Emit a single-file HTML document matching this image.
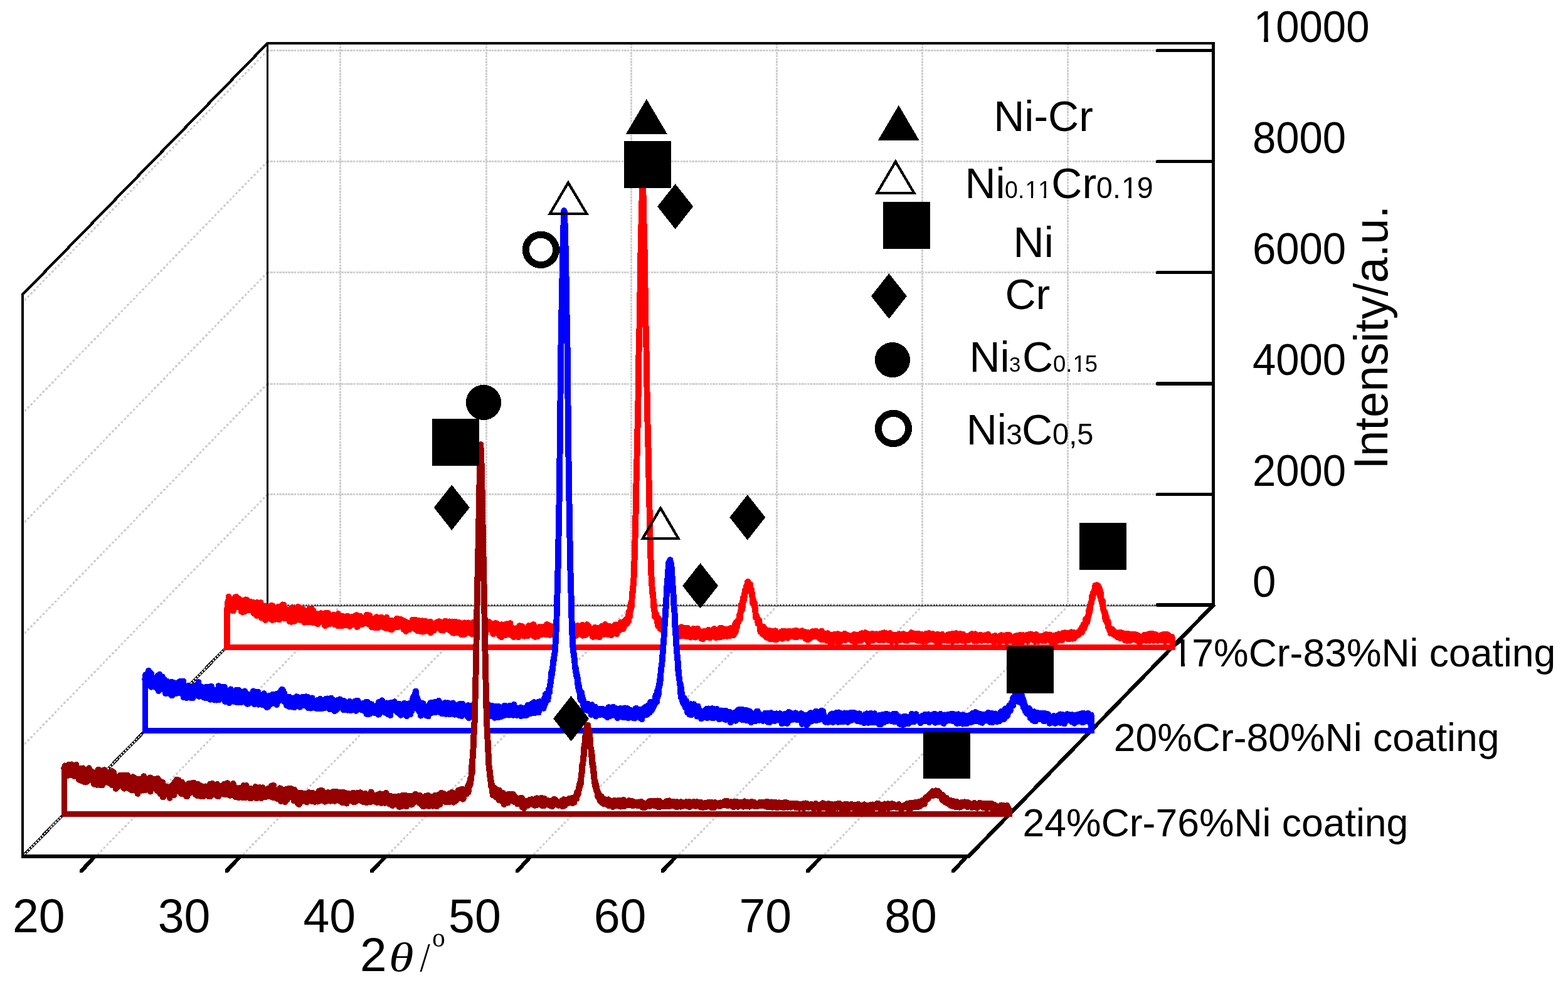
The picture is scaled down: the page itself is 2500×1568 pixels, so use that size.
<!DOCTYPE html>
<html lang="en">
<head>
<meta charset="utf-8">
<title>XRD patterns of Cr-Ni coatings</title>
<style>
html,body{margin:0;padding:0;background:#fff;}
body{width:2500px;height:1568px;overflow:hidden;}
svg{display:block;}
</style>
</head>
<body>
<svg width="2500" height="1568" viewBox="0 0 2500 1568" shape-rendering="crispEdges">
<rect width="2500" height="1568" fill="#fff"/>
<g id="grid" fill="none" stroke="#cfcfcf" stroke-width="3" stroke-dasharray="3.5 1.2">
<line x1="542.6" y1="69" x2="542.6" y2="965"/>
<line x1="775.3" y1="69" x2="775.3" y2="965"/>
<line x1="1006.5" y1="69" x2="1006.5" y2="965"/>
<line x1="1238.6" y1="69" x2="1238.6" y2="965"/>
<line x1="1470.3" y1="69" x2="1470.3" y2="965"/>
<line x1="1702.3" y1="69" x2="1702.3" y2="965"/>
<line x1="426.5" y1="80.7" x2="1843" y2="80.7"/>
<line x1="426.5" y1="257.6" x2="1843" y2="257.6"/>
<line x1="426.5" y1="434.6" x2="1843" y2="434.6"/>
<line x1="426.5" y1="612" x2="1843" y2="612"/>
<line x1="426.5" y1="788.6" x2="1843" y2="788.6"/>
</g>
<g id="grid-diag" fill="none" stroke="#cfcfcf" stroke-width="3.4" stroke-linecap="round" stroke-dasharray="0.6 6.3">
<line x1="425.5" y1="81.7" x2="38" y2="480.2"/>
<line x1="425.5" y1="258.6" x2="38" y2="657.1"/>
<line x1="425.5" y1="435.6" x2="38" y2="834.1"/>
<line x1="425.5" y1="613" x2="38" y2="1011.5"/>
<line x1="425.5" y1="789.6" x2="38" y2="1188.1"/>
<line x1="542.6" y1="967" x2="155.8" y2="1363"/>
<line x1="775.3" y1="967" x2="387.5" y2="1363"/>
<line x1="1006.5" y1="967" x2="619.2" y2="1363"/>
<line x1="1238.6" y1="967" x2="850.9" y2="1363"/>
<line x1="1470.3" y1="967" x2="1082.6" y2="1363"/>
<line x1="1702.3" y1="967" x2="1314.3" y2="1363"/>
</g>
<g id="edges" fill="none">
<line x1="37" y1="1365" x2="426.5" y2="965" stroke="#000" stroke-width="4.4"/>
<line x1="39" y1="1363" x2="426.5" y2="965" stroke="#d6d6d6" stroke-width="2.6" stroke-dasharray="3 2"/>
<line x1="426.5" y1="964.4" x2="1843" y2="964.4" stroke="#cfcfcf" stroke-width="3" stroke-dasharray="3.2 1.6"/>
<line x1="426.5" y1="966.4" x2="1843" y2="966.4" stroke="#000" stroke-width="1.3"/>
<line x1="426.5" y1="965.2" x2="1843" y2="965.2" stroke="#000" stroke-width="2.2" stroke-dasharray="1 3.7"/>
</g>
<g id="axes" fill="none" stroke="#000">
<polyline points="36,1366 36,470 426.5,69 1937.2,69" stroke-width="3.7" stroke-linejoin="miter"/>
<line x1="36" y1="470" x2="426.5" y2="69" stroke-width="4.3"/>
<line x1="426.5" y1="69" x2="426.5" y2="965" stroke-width="3"/>
<line x1="1934.7" y1="66.5" x2="1934.7" y2="967" stroke-width="5"/>
<line x1="1845.6" y1="80.7" x2="1933.2" y2="80.7" stroke-width="5.5" stroke-linecap="round"/>
<line x1="1845.6" y1="257.6" x2="1933.2" y2="257.6" stroke-width="5.5" stroke-linecap="round"/>
<line x1="1845.6" y1="434.6" x2="1933.2" y2="434.6" stroke-width="5.5" stroke-linecap="round"/>
<line x1="1845.6" y1="612" x2="1933.2" y2="612" stroke-width="5.5" stroke-linecap="round"/>
<line x1="1845.6" y1="788.6" x2="1933.2" y2="788.6" stroke-width="5.5" stroke-linecap="round"/>
<line x1="1845.6" y1="965" x2="1933.2" y2="965" stroke-width="5.5" stroke-linecap="round"/>
<line x1="1936.2" y1="963.5" x2="1542.7" y2="1367.5" stroke-width="6.1"/>
</g>
<g id="curves">
<path d="M361.8,1032.6 L361.8,967.6 L365.9,960.9 L370.1,961.8 L374.2,962.7 L378.4,963.6 L382.5,964.5 L386.6,965.4 L390.8,966.3 L394.9,967.3 L399.1,968.2 L403.2,969.2 L407.3,970.2 L411.5,971.2 L415.6,972.2 L419.8,973.2 L423.9,974.1 L428,974.8 L432.2,975.4 L436.3,976.1 L440.5,976.8 L444.6,977.5 L448.7,978.2 L452.9,978.9 L457,979.5 L461.2,980.2 L465.3,980.9 L469.4,981.3 L473.6,981.8 L477.7,982.2 L481.9,982.7 L486,983.1 L490.1,983.6 L494.3,984 L498.4,984.5 L502.6,985 L506.7,985.4 L510.8,985.8 L515,986.2 L519.1,986.5 L523.3,986.9 L527.4,987.3 L531.5,987.7 L535.7,988.1 L539.8,988.5 L544,988.8 L548.1,989.2 L552.2,989.5 L556.4,989.8 L560.5,990 L564.7,990.3 L568.8,990.6 L572.9,990.9 L577.1,991.2 L581.2,991.4 L585.4,991.7 L589.5,992 L593.6,992.4 L597.8,992.7 L601.9,993.1 L606.1,993.5 L610.2,993.8 L614.3,994.2 L618.5,994.6 L622.6,994.9 L626.8,995.3 L630.9,995.6 L635,996 L639.2,996.3 L643.3,996.7 L647.5,997 L651.6,997.4 L655.7,997.8 L659.9,998.1 L664,998.5 L668.2,998.8 L672.3,999.1 L676.4,999.3 L680.6,999.6 L684.7,999.8 L688.9,1000 L693,1000.2 L697.1,1000.4 L701.3,1000.6 L705.4,1000.8 L709.6,1001 L713.7,1001.2 L717.8,1001.4 L722,1001.6 L726.1,1001.8 L730.3,1002 L734.4,1002.2 L738.5,1002.3 L742.7,1002.5 L746.8,1002.7 L751,1002.7 L755.1,1002.7 L759.2,1002.7 L763.4,1002.7 L767.5,1002.6 L771.7,1002.6 L775.8,1002.6 L779.9,1002.6 L784.1,1002.6 L788.2,1002.5 L792.4,1002.6 L796.5,1002.6 L800.6,1002.7 L804.8,1002.8 L808.9,1002.8 L813.1,1002.9 L817.2,1003 L821.3,1003 L825.5,1003.2 L829.6,1003.3 L833.8,1003.5 L837.9,1003.7 L842,1003.9 L846.2,1004 L850.3,1004.2 L854.5,1004.4 L858.6,1004.6 L862.7,1004.8 L866.9,1004.9 L871,1005 L875.2,1005 L879.3,1005.1 L883.4,1005.2 L887.6,1005.3 L891.7,1005.4 L895.9,1005.5 L900,1005.6 L904.1,1005.7 L908.3,1005.8 L912.4,1005.9 L916.6,1005.9 L920.7,1006 L924.8,1006.2 L929,1006.5 L933.1,1006.7 L937.3,1006.9 L941.4,1007.1 L945.5,1007.3 L949.7,1007.5 L953.8,1007.6 L958,1007.6 L962.1,1007.3 L966.2,1007 L970.4,1006.5 L974.5,1005.7 L978.7,1004.5 L980,1004.1 L980.5,1003.9 L981,1003.8 L981.4,1003.6 L981.9,1003.4 L982.3,1003.2 L982.8,1003.1 L983.3,1002.9 L983.7,1002.7 L984.2,1002.5 L984.6,1002.3 L985.1,1002.1 L985.6,1001.9 L986,1001.7 L986.5,1001.4 L986.9,1001.2 L987.4,1001 L987.9,1000.7 L988.3,1000.5 L988.8,1000.3 L989.2,1000 L989.7,999.8 L990.2,999.5 L990.6,999.2 L991.1,999 L991.5,998.7 L992,998.4 L992.5,998.1 L992.9,997.8 L993.4,997.5 L993.8,997.2 L994.3,996.9 L994.8,996.6 L995.2,996.2 L995.7,995.8 L996.1,995.4 L996.6,994.8 L997.1,994.3 L997.5,993.6 L998,992.9 L998.4,992.1 L998.9,991.3 L999.4,990.4 L999.8,989.4 L1000.3,988.4 L1000.7,987.3 L1001.2,986.1 L1001.7,984.9 L1002.1,983.6 L1002.6,982.2 L1003,980.7 L1003.5,979.2 L1004,977.7 L1004.4,976 L1004.9,974.3 L1005.3,972.5 L1005.8,970.5 L1006.3,967.9 L1006.7,964.5 L1007.2,960.6 L1007.6,956.2 L1008.1,951.5 L1008.6,946.5 L1009,941.4 L1009.5,936.2 L1009.9,930.5 L1010.4,923.5 L1010.9,914.3 L1011.3,902.4 L1011.8,888.1 L1012.2,871.7 L1012.7,853.7 L1013.2,834.2 L1013.6,813.7 L1014.1,792.4 L1014.5,770.8 L1015,749.2 L1015.5,727.9 L1015.9,707.2 L1016.4,687.5 L1016.8,669.8 L1017.3,652.2 L1017.8,624.1 L1018.2,578.3 L1018.7,553.6 L1019.1,537.3 L1019.6,522.2 L1020.1,501.5 L1020.5,467.2 L1021,433.4 L1021.4,407.7 L1021.9,385.2 L1022.4,364.8 L1022.8,344.9 L1023.3,326.2 L1023.7,310.3 L1024.2,299.2 L1024.7,294.1 L1025.1,301.6 L1025.6,314.1 L1026,330.9 L1026.5,350.1 L1027,370 L1027.4,390.9 L1027.9,414.1 L1028.3,440.9 L1028.8,477.2 L1029.3,507.9 L1029.7,526.4 L1030.2,541.3 L1030.6,558.9 L1031.1,589.3 L1031.6,634.3 L1032,657.3 L1032.5,674.2 L1032.9,692.6 L1033.4,712.6 L1033.9,733.5 L1034.3,755 L1034.8,776.6 L1035.2,798.2 L1035.7,819.2 L1036.2,839.5 L1036.6,858.7 L1037.1,876.3 L1037.5,892.2 L1038,905.9 L1038.5,917.2 L1038.9,925.7 L1039.4,932.3 L1039.8,937.8 L1040.3,942.9 L1040.8,948 L1041.2,953 L1041.7,957.6 L1042.1,961.9 L1042.6,965.7 L1043.1,968.9 L1043.5,971.3 L1044,973.2 L1044.4,975 L1044.9,976.7 L1045.4,978.3 L1045.8,979.9 L1046.3,981.4 L1046.7,982.8 L1047.2,984.2 L1047.7,985.5 L1048.1,986.7 L1048.6,987.9 L1049,989 L1049.5,990 L1050,990.9 L1050.4,991.8 L1050.9,992.7 L1051.3,993.4 L1051.8,994.1 L1052.3,994.8 L1052.7,995.3 L1053.2,995.9 L1053.6,996.3 L1054.1,996.7 L1054.6,997.1 L1055,997.4 L1055.5,997.7 L1055.9,998 L1056.4,998.3 L1056.9,998.6 L1057.3,998.9 L1057.8,999.2 L1058.2,999.5 L1058.7,999.7 L1059.2,1000 L1059.6,1000.3 L1060.1,1000.5 L1060.5,1000.8 L1061,1001 L1061.5,1001.3 L1061.9,1001.5 L1062.4,1001.8 L1062.8,1002 L1063.3,1002.2 L1063.8,1002.4 L1064.2,1002.6 L1064.7,1002.9 L1065.1,1003.1 L1065.6,1003.3 L1066.1,1003.5 L1066.5,1003.7 L1067,1003.8 L1067.4,1004 L1067.9,1004.2 L1068.4,1004.4 L1068.8,1004.5 L1069.3,1004.7 L1069.7,1004.9 L1073.9,1006.1 L1078,1007 L1082.2,1007.6 L1086.3,1008 L1090.4,1008.3 L1094.6,1008.6 L1098.7,1008.9 L1102.9,1009.1 L1107,1009.3 L1111.1,1009.5 L1115.3,1009.7 L1119.4,1009.8 L1123.6,1009.9 L1127.7,1010 L1131.8,1010.1 L1136,1010.2 L1140.1,1010.2 L1144.3,1010.3 L1148.4,1010.2 L1148.9,1010.2 L1149.3,1010.2 L1149.8,1010.2 L1150.2,1010.2 L1150.7,1010.2 L1151.2,1010.2 L1151.6,1010.2 L1152.1,1010.2 L1152.5,1010.2 L1153,1010.1 L1153.5,1010.1 L1153.9,1010.1 L1154.4,1010.1 L1154.8,1010.1 L1155.3,1010.1 L1155.8,1010 L1156.2,1010 L1156.7,1010 L1157.1,1010 L1157.6,1009.9 L1158.1,1009.9 L1158.5,1009.9 L1159,1009.8 L1159.4,1009.8 L1159.9,1009.8 L1160.4,1009.7 L1160.8,1009.6 L1161.3,1009.6 L1161.7,1009.5 L1162.2,1009.4 L1162.7,1009.4 L1163.1,1009.3 L1163.6,1009.2 L1164,1009 L1164.5,1008.9 L1165,1008.8 L1165.4,1008.6 L1165.9,1008.4 L1166.3,1008.2 L1166.8,1008 L1167.3,1007.8 L1167.7,1007.5 L1168.2,1007.2 L1168.6,1006.9 L1169.1,1006.5 L1169.6,1006.1 L1170,1005.7 L1170.5,1005.2 L1170.9,1004.7 L1171.4,1004.1 L1171.9,1003.5 L1172.3,1002.9 L1172.8,1002.1 L1173.2,1001.3 L1173.7,1000.5 L1174.2,999.6 L1174.6,998.6 L1175.1,997.5 L1175.5,996.4 L1176,995.2 L1176.5,993.9 L1176.9,992.5 L1177.4,991.1 L1177.8,989.6 L1178.3,988 L1178.8,986.3 L1179.2,984.6 L1179.7,982.8 L1180.1,980.9 L1180.6,978.9 L1181.1,976.9 L1181.5,974.8 L1182,972.7 L1182.4,970.6 L1182.9,968.4 L1183.4,966.1 L1183.8,963.9 L1184.3,961.6 L1184.7,959.4 L1185.2,957.1 L1185.7,954.9 L1186.1,952.7 L1186.6,950.5 L1187,948.5 L1187.5,946.4 L1188,944.5 L1188.4,942.7 L1188.9,941 L1189.3,939.5 L1189.8,938.1 L1190.3,936.8 L1190.7,935.7 L1191.2,934.9 L1191.6,934.1 L1192.1,933.6 L1192.6,933.3 L1193,933.3 L1193.5,933.4 L1193.9,933.7 L1194.4,934.2 L1194.9,934.9 L1195.3,935.8 L1195.8,936.9 L1196.2,938.2 L1196.7,939.6 L1197.2,941.2 L1197.6,942.9 L1198.1,944.7 L1198.5,946.7 L1199,948.7 L1199.5,950.8 L1199.9,952.9 L1200.4,955.1 L1200.8,957.4 L1201.3,959.6 L1201.8,961.9 L1202.2,964.2 L1202.7,966.4 L1203.1,968.7 L1203.6,970.9 L1204.1,973.1 L1204.5,975.2 L1205,977.3 L1205.4,979.3 L1205.9,981.3 L1206.4,983.2 L1206.8,985 L1207.3,986.8 L1207.7,988.4 L1208.2,990 L1208.7,991.6 L1209.1,993 L1209.6,994.4 L1210,995.7 L1210.5,996.9 L1211,998 L1211.4,999.1 L1211.9,1000.1 L1212.3,1001 L1212.8,1001.9 L1213.3,1002.7 L1213.7,1003.4 L1214.2,1004.1 L1214.6,1004.8 L1215.1,1005.3 L1215.6,1005.9 L1216,1006.4 L1216.5,1006.8 L1216.9,1007.2 L1217.4,1007.6 L1217.9,1007.9 L1218.3,1008.2 L1218.8,1008.5 L1219.2,1008.7 L1219.7,1009 L1220.2,1009.2 L1220.6,1009.4 L1221.1,1009.5 L1221.5,1009.7 L1222,1009.8 L1222.5,1010 L1222.9,1010.1 L1223.4,1010.2 L1223.8,1010.3 L1224.3,1010.4 L1224.8,1010.5 L1225.2,1010.5 L1225.7,1010.6 L1226.1,1010.7 L1226.6,1010.7 L1227.1,1010.8 L1227.5,1010.8 L1228,1010.9 L1228.4,1010.9 L1228.9,1011 L1229.4,1011 L1229.8,1011 L1230.3,1011.1 L1230.7,1011.1 L1231.2,1011.1 L1231.7,1011.2 L1232.1,1011.2 L1232.6,1011.2 L1233,1011.3 L1233.5,1011.3 L1234,1011.3 L1234.4,1011.3 L1234.9,1011.4 L1235.3,1011.4 L1235.8,1011.4 L1236.3,1011.4 L1236.7,1011.4 L1237.2,1011.5 L1237.6,1011.5 L1239.5,1011.6 L1243.6,1011.7 L1247.8,1011.9 L1251.9,1012 L1256,1012.1 L1260.2,1012.2 L1264.3,1012.3 L1268.5,1012.4 L1272.6,1012.5 L1276.7,1012.5 L1280.9,1012.6 L1285,1013 L1289.2,1013.4 L1293.3,1013.8 L1297.4,1014.2 L1301.6,1014.6 L1305.7,1015 L1309.9,1015.1 L1314,1015.2 L1318.1,1015.2 L1322.3,1015.3 L1326.4,1015.4 L1330.6,1015.5 L1334.7,1015.6 L1338.8,1015.7 L1343,1015.8 L1347.1,1015.8 L1351.3,1015.9 L1355.4,1016 L1359.5,1016.1 L1363.7,1016.2 L1367.8,1016.3 L1372,1016.3 L1376.1,1016.3 L1380.2,1016.3 L1384.4,1016.3 L1388.5,1016.3 L1392.7,1016.3 L1396.8,1016.3 L1400.9,1016.3 L1405.1,1016.2 L1409.2,1016.2 L1413.4,1016.2 L1417.5,1016.2 L1421.6,1016.2 L1425.8,1016.2 L1429.9,1016.2 L1434.1,1016.1 L1438.2,1016.1 L1442.3,1016.2 L1446.5,1016.2 L1450.6,1016.2 L1454.8,1016.3 L1458.9,1016.3 L1463,1016.3 L1467.2,1016.4 L1471.3,1016.4 L1475.5,1016.4 L1479.6,1016.4 L1483.7,1016.5 L1487.9,1016.5 L1492,1016.5 L1496.2,1016.6 L1500.3,1016.6 L1504.4,1016.6 L1508.6,1016.8 L1512.7,1017.1 L1516.9,1017.3 L1521,1017.3 L1525.1,1017.4 L1529.3,1017.4 L1533.4,1017.4 L1537.6,1017.5 L1541.7,1017.5 L1545.8,1017.5 L1550,1017.6 L1554.1,1017.6 L1558.3,1017.6 L1562.4,1017.7 L1566.5,1017.7 L1570.7,1017.7 L1574.8,1017.7 L1579,1017.8 L1583.1,1017.8 L1587.2,1017.8 L1591.4,1017.9 L1595.5,1017.9 L1599.7,1017.9 L1603.8,1017.9 L1607.9,1017.9 L1612.1,1017.9 L1616.2,1017.8 L1620.4,1017.8 L1624.5,1017.8 L1628.6,1017.8 L1632.8,1017.7 L1636.9,1017.7 L1641.1,1017.7 L1645.2,1017.6 L1649.3,1017.6 L1653.5,1017.5 L1657.6,1017.5 L1661.8,1017.4 L1665.9,1017.3 L1670,1017.2 L1674.2,1017.1 L1678.3,1016.9 L1682.5,1016.7 L1686.6,1016.5 L1690.7,1016.3 L1694.9,1015.9 L1699,1015.6 L1703.2,1015.1 L1704.1,1015 L1704.5,1014.9 L1705,1014.9 L1705.5,1014.8 L1705.9,1014.7 L1706.4,1014.7 L1706.8,1014.6 L1707.3,1014.5 L1707.8,1014.5 L1708.2,1014.4 L1708.7,1014.3 L1709.1,1014.2 L1709.6,1014.1 L1710.1,1014.1 L1710.5,1014 L1711,1013.9 L1711.4,1013.8 L1711.9,1013.7 L1712.4,1013.6 L1712.8,1013.5 L1713.3,1013.3 L1713.7,1013.2 L1714.2,1013.1 L1714.7,1012.9 L1715.1,1012.8 L1715.6,1012.6 L1716,1012.5 L1716.5,1012.3 L1717,1012.1 L1717.4,1011.9 L1717.9,1011.7 L1718.3,1011.5 L1718.8,1011.2 L1719.3,1011 L1719.7,1010.7 L1720.2,1010.4 L1720.6,1010.1 L1721.1,1009.8 L1721.6,1009.4 L1722,1009 L1722.5,1008.6 L1722.9,1008.2 L1723.4,1007.8 L1723.9,1007.3 L1724.3,1006.7 L1724.8,1006.2 L1725.2,1005.6 L1725.7,1005 L1726.2,1004.3 L1726.6,1003.6 L1727.1,1002.9 L1727.5,1002.1 L1728,1001.2 L1728.5,1000.4 L1728.9,999.4 L1729.4,998.4 L1729.8,997.4 L1730.3,996.3 L1730.8,995.2 L1731.2,994 L1731.7,992.7 L1732.1,991.4 L1732.6,990.1 L1733.1,988.7 L1733.5,987.2 L1734,985.7 L1734.4,984.1 L1734.9,982.5 L1735.4,980.8 L1735.8,979.1 L1736.3,977.3 L1736.7,975.5 L1737.2,973.6 L1737.7,971.7 L1738.1,969.8 L1738.6,967.9 L1739,965.9 L1739.5,963.9 L1740,961.9 L1740.4,959.9 L1740.9,957.9 L1741.3,956 L1741.8,954.1 L1742.3,952.2 L1742.7,950.3 L1743.2,948.5 L1743.6,946.8 L1744.1,945.2 L1744.6,943.6 L1745,942.2 L1745.5,940.9 L1745.9,939.8 L1746.4,938.8 L1746.9,937.9 L1747.3,937.3 L1747.8,936.8 L1748.2,936.4 L1748.7,936.3 L1749.2,936.4 L1749.6,936.6 L1750.1,937 L1750.5,937.7 L1751,938.4 L1751.5,939.4 L1751.9,940.5 L1752.4,941.7 L1752.8,943.1 L1753.3,944.6 L1753.8,946.2 L1754.2,947.9 L1754.7,949.6 L1755.1,951.5 L1755.6,953.3 L1756.1,955.3 L1756.5,957.2 L1757,959.2 L1757.4,961.2 L1757.9,963.2 L1758.4,965.2 L1758.8,967.2 L1759.3,969.1 L1759.7,971.1 L1760.2,973 L1760.7,974.9 L1761.1,976.7 L1761.6,978.5 L1762,980.3 L1762.5,982 L1763,983.6 L1763.4,985.2 L1763.9,986.8 L1764.3,988.3 L1764.8,989.7 L1765.3,991.1 L1765.7,992.5 L1766.2,993.8 L1766.6,995 L1767.1,996.1 L1767.6,997.3 L1768,998.3 L1768.5,999.3 L1768.9,1000.3 L1769.4,1001.2 L1769.9,1002.1 L1770.3,1002.9 L1770.8,1003.7 L1771.2,1004.4 L1771.7,1005.1 L1772.2,1005.7 L1772.6,1006.4 L1773.1,1006.9 L1773.5,1007.5 L1774,1008 L1774.5,1008.5 L1774.9,1008.9 L1775.4,1009.3 L1775.8,1009.7 L1776.3,1010.1 L1776.8,1010.4 L1777.2,1010.8 L1777.7,1011.1 L1778.1,1011.4 L1778.6,1011.6 L1779.1,1011.9 L1779.5,1012.1 L1780,1012.4 L1780.4,1012.6 L1780.9,1012.8 L1781.4,1013 L1781.8,1013.1 L1782.3,1013.3 L1782.7,1013.5 L1783.2,1013.6 L1783.7,1013.8 L1784.1,1013.9 L1784.6,1014 L1785,1014.1 L1785.5,1014.3 L1786,1014.4 L1786.4,1014.5 L1786.9,1014.6 L1787.3,1014.7 L1787.8,1014.8 L1788.3,1014.9 L1788.7,1015 L1789.2,1015.1 L1789.6,1015.1 L1790.1,1015.2 L1790.6,1015.3 L1791,1015.4 L1791.5,1015.4 L1791.9,1015.5 L1792.4,1015.6 L1792.9,1015.6 L1793.3,1015.7 L1793.8,1015.8 L1794.2,1015.8 L1798.4,1016.3 L1802.5,1016.7 L1806.7,1017 L1810.8,1017.3 L1814.9,1017.5 L1819.1,1017.7 L1823.2,1017.8 L1827.4,1018 L1831.5,1018.1 L1835.6,1018.2 L1839.8,1018.3 L1843.9,1018.4 L1848.1,1018.5 L1852.2,1018.6 L1856.3,1018.7 L1860.5,1018.9 L1864.6,1019 L1868.8,1019.1 L1869.2,1019.2 L1869.4,1032.6 Z" fill="#fff"/><path d="M361.8,971.7 L362.3,971.6 L362.7,971.1 L363.2,960.2 L363.6,961.6 L364.1,968.6 L364.6,951.7 L365,964.1 L365.5,965 L365.9,962.6 L366.4,956.7 L366.9,966.8 L367.3,973.4 L367.8,965.8 L368.2,959 L368.7,964.6 L369.2,960.5 L369.6,968.1 L370.1,961.5 L370.5,969.1 L371,957.3 L371.5,955.5 L371.9,974.5 L372.4,967.1 L372.8,968.1 L373.3,968 L373.8,970 L374.2,963.1 L374.7,955.2 L375.1,952.4 L375.6,963.9 L376.1,960.7 L376.5,952.1 L377,954.5 L377.4,965.4 L377.9,963.2 L378.4,956.5 L378.8,958.4 L379.3,968.1 L379.7,966.1 L380.2,954.8 L380.7,965.9 L381.1,966 L381.6,962.2 L382,963.6 L382.5,967.6 L383,965.9 L383.4,963.8 L383.9,967.3 L384.3,960.3 L384.8,975.3 L385.3,960 L385.7,958 L386.2,960.6 L386.6,976.6 L387.1,969.4 L387.6,964.7 L388,958.9 L388.5,964.3 L388.9,966.1 L389.4,969.4 L389.9,964.6 L390.3,963.9 L390.8,974.9 L391.2,969.2 L391.7,956.4 L392.2,971.7 L392.6,960 L393.1,956.8 L393.5,961.4 L394,969.8 L394.5,960.8 L394.9,967.8 L395.4,968.6 L395.8,970.7 L396.3,972.7 L396.8,964.3 L397.2,967.7 L397.7,965 L398.1,967 L398.6,963.5 L399.1,972.3 L399.5,960 L400,973.4 L400.4,964.4 L400.9,968.7 L401.4,971 L401.8,969.8 L402.3,966 L402.7,973.3 L403.2,972.6 L403.7,961 L404.1,968.6 L404.6,968.8 L405,978.8 L405.5,974.8 L406,967.4 L406.4,973.5 L406.9,963.7 L407.3,968.6 L407.8,979.9 L408.3,966.1 L408.7,971.2 L409.2,981.9 L409.6,964.8 L410.1,961.2 L410.6,964.8 L411,967.1 L411.5,973.1 L411.9,966.6 L412.4,969.5 L412.9,963.2 L413.3,968.2 L413.8,970.2 L414.2,969.4 L414.7,974.5 L415.2,972.7 L415.6,961.3 L416.1,970.6 L416.5,985.6 L417,982.9 L417.5,968.1 L417.9,976.4 L418.4,976.8 L418.8,978.3 L419.3,981.1 L419.8,984.7 L420.2,966.3 L420.7,971.4 L421.1,980.2 L421.6,968.2 L422.1,967.8 L422.5,984.2 L423,989 L423.4,981.2 L423.9,976.8 L424.4,967.4 L424.8,971.4 L425.3,975.2 L425.7,971.7 L426.2,970.1 L426.7,981.6 L427.1,981 L427.6,975.7 L428,983.2 L428.5,981.9 L429,974.5 L429.4,969.5 L429.9,976.4 L430.3,982.6 L430.8,977 L431.3,972.8 L431.7,987.3 L432.2,980 L432.6,965.5 L433.1,982.6 L433.6,981.1 L434,988.9 L434.5,985.8 L434.9,966.6 L435.4,981.2 L435.9,983.9 L436.3,982.5 L436.8,988.5 L437.2,973.7 L437.7,981.8 L438.2,983.7 L438.6,985.9 L439.1,980.8 L439.5,982.2 L440,969.9 L440.5,972.9 L440.9,973.8 L441.4,971.8 L441.8,973.2 L442.3,976.3 L442.8,972.4 L443.2,977.4 L443.7,967.5 L444.1,970.8 L444.6,975.8 L445.1,988.5 L445.5,983.1 L446,975.8 L446.4,985.5 L446.9,976.6 L447.4,971.2 L447.8,981.9 L448.3,985.1 L448.7,970.5 L449.2,977.2 L449.7,973.6 L450.1,981.1 L450.6,964.4 L451,967.9 L451.5,976.4 L452,964.7 L452.4,976.4 L452.9,969.9 L453.3,971.8 L453.8,986.5 L454.3,977.3 L454.7,978.9 L455.2,982.1 L455.6,980.1 L456.1,972.1 L456.6,976.1 L457,981.5 L457.5,985.5 L457.9,972.8 L458.4,979.4 L458.9,977.5 L459.3,973.4 L459.8,973 L460.2,978.5 L460.7,979.6 L461.2,986.7 L461.6,991.1 L462.1,976.1 L462.5,975.3 L463,976.4 L463.5,983 L463.9,981.6 L464.4,982.6 L464.8,991.8 L465.3,980.9 L465.8,969.2 L466.2,988.2 L466.7,985.2 L467.1,981.1 L467.6,981.1 L468.1,990 L468.5,982.4 L469,981.3 L469.4,990.8 L469.9,990.7 L470.4,974 L470.8,980.5 L471.3,980.2 L471.7,978.6 L472.2,983.5 L472.7,987.9 L473.1,984.2 L473.6,973 L474,978.4 L474.5,986.9 L475,968 L475.4,984.8 L475.9,984.3 L476.3,975.7 L476.8,977 L477.3,969.2 L477.7,977.3 L478.2,976.3 L478.6,988.9 L479.1,980.5 L479.6,982.8 L480,987.1 L480.5,981.9 L480.9,980.4 L481.4,970.6 L481.9,972.8 L482.3,978.5 L482.8,983.6 L483.2,978.8 L483.7,972.5 L484.2,988.7 L484.6,982.5 L485.1,992.7 L485.5,975.6 L486,979.3 L486.5,974.7 L486.9,981.7 L487.4,980.6 L487.8,983.8 L488.3,984.8 L488.8,983.3 L489.2,975.9 L489.7,992 L490.1,985.6 L490.6,979.5 L491.1,979 L491.5,990.2 L492,980.7 L492.4,986.7 L492.9,980 L493.4,970.6 L493.8,984.2 L494.3,992.5 L494.7,979.3 L495.2,981.4 L495.7,985.8 L496.1,977.9 L496.6,989.7 L497,986.7 L497.5,971.9 L498,981.3 L498.4,975.2 L498.9,976.4 L499.3,973.7 L499.8,993.3 L500.3,991 L500.7,984.2 L501.2,985.8 L501.6,980.4 L502.1,982.8 L502.6,986.9 L503,993.7 L503.5,983.5 L503.9,980.8 L504.4,982.9 L504.9,994.6 L505.3,988.6 L505.8,979.2 L506.2,995.2 L506.7,987.4 L507.2,980 L507.6,987.8 L508.1,993.5 L508.5,984.1 L509,988.8 L509.5,988.5 L509.9,988.7 L510.4,978.6 L510.8,989.6 L511.3,978.2 L511.8,983.8 L512.2,985 L512.7,986.7 L513.1,984.8 L513.6,987.4 L514.1,981.2 L514.5,987.1 L515,978.5 L515.4,981.5 L515.9,984.8 L516.4,985.2 L516.8,979.7 L517.3,987.4 L517.7,986.7 L518.2,998.2 L518.7,986.4 L519.1,986.1 L519.6,996.2 L520,977.6 L520.5,986.8 L521,993.4 L521.4,991.2 L521.9,995.3 L522.3,979.1 L522.8,977.7 L523.3,987 L523.7,995.6 L524.2,990.6 L524.6,983.2 L525.1,986.1 L525.6,987.3 L526,981.5 L526.5,994.8 L526.9,987.7 L527.4,986.9 L527.9,992 L528.3,988.9 L528.8,984.4 L529.2,987.3 L529.7,984.9 L530.2,984.4 L530.6,987.5 L531.1,988.6 L531.5,980.7 L532,989.7 L532.5,992.5 L532.9,986.3 L533.4,986.4 L533.8,996.6 L534.3,986.5 L534.8,983.4 L535.2,982.5 L535.7,990.5 L536.1,987.3 L536.6,983.2 L537.1,993.4 L537.5,982.9 L538,993.1 L538.4,998.4 L538.9,979.2 L539.4,991.8 L539.8,983.5 L540.3,983.9 L540.7,994.1 L541.2,981.5 L541.7,989.6 L542.1,997.9 L542.6,994.4 L543,989.8 L543.5,993.4 L544,990.2 L544.4,992.6 L544.9,998.5 L545.3,982.9 L545.8,989.4 L546.3,982.7 L546.7,987.7 L547.2,994.1 L547.6,988.5 L548.1,984.4 L548.6,993.1 L549,990.3 L549.5,989.8 L549.9,988.5 L550.4,995.9 L550.9,997.2 L551.3,988.8 L551.8,991.9 L552.2,986.6 L552.7,995.3 L553.2,986.1 L553.6,985.6 L554.1,982.6 L554.5,986.5 L555,988.5 L555.5,992.1 L555.9,996.1 L556.4,985.7 L556.8,990.6 L557.3,998.8 L557.8,986.9 L558.2,985.1 L558.7,996.5 L559.1,991.3 L559.6,994.6 L560.1,985.9 L560.5,994.9 L561,984.1 L561.4,989.8 L561.9,991.8 L562.4,995 L562.8,988.5 L563.3,996.2 L563.7,990.5 L564.2,992 L564.7,986.9 L565.1,982.8 L565.6,994 L566,984 L566.5,987 L567,987.7 L567.4,989.3 L567.9,990.5 L568.3,981.2 L568.8,991.6 L569.3,999.9 L569.7,988.9 L570.2,989.1 L570.6,985.9 L571.1,994.2 L571.6,985.4 L572,992 L572.5,985.7 L572.9,983 L573.4,996.2 L573.9,991.1 L574.3,984.4 L574.8,983.1 L575.2,994.4 L575.7,992.8 L576.2,987.1 L576.6,996.2 L577.1,994 L577.5,989.7 L578,991.9 L578.5,989.5 L578.9,994.8 L579.4,993.5 L579.8,987.2 L580.3,994.7 L580.8,992.2 L581.2,990.7 L581.7,992.8 L582.1,991.1 L582.6,991.2 L583.1,984.1 L583.5,990 L584,985.2 L584.4,982.9 L584.9,980.5 L585.4,989.2 L585.8,983.5 L586.3,984.1 L586.7,992.2 L587.2,988.7 L587.7,993.3 L588.1,992 L588.6,996.4 L589,981.7 L589.5,991.4 L590,988 L590.4,993.6 L590.9,988.5 L591.3,997.6 L591.8,998.7 L592.3,1000.1 L592.7,992.4 L593.2,987.7 L593.6,991.5 L594.1,993.5 L594.6,995.3 L595,989.2 L595.5,987.1 L595.9,991.5 L596.4,991.7 L596.9,988.1 L597.3,996 L597.8,1001.4 L598.2,996.7 L598.7,992.8 L599.2,994.8 L599.6,993.4 L600.1,984.2 L600.5,997 L601,994.6 L601.5,989.2 L601.9,996.8 L602.4,994.7 L602.8,1001.1 L603.3,992.2 L603.8,990 L604.2,987.8 L604.7,986.5 L605.1,992 L605.6,987.2 L606.1,993.7 L606.5,985.6 L607,993.2 L607.4,992.2 L607.9,984.5 L608.4,996.4 L608.8,996.3 L609.3,994.3 L609.7,998.2 L610.2,994.5 L610.7,999.8 L611.1,990.5 L611.6,997.1 L612,990.5 L612.5,990.4 L613,993.3 L613.4,990.7 L613.9,989.3 L614.3,1001.8 L614.8,997.3 L615.3,992.1 L615.7,985.6 L616.2,1002 L616.6,984.9 L617.1,995.9 L617.6,1002.5 L618,1000.2 L618.5,1000.2 L618.9,998.8 L619.4,1002.6 L619.9,993.4 L620.3,997.1 L620.8,989.7 L621.2,997.5 L621.7,997.2 L622.2,998 L622.6,993.9 L623.1,991.8 L623.5,993.3 L624,1004.5 L624.5,989.6 L624.9,996.9 L625.4,993.9 L625.8,996.7 L626.3,991.8 L626.8,995.8 L627.2,992.7 L627.7,1000.9 L628.1,994.1 L628.6,994.1 L629.1,990.8 L629.5,991.2 L630,995.2 L630.4,992.2 L630.9,993.2 L631.4,989.9 L631.8,992.2 L632.3,991.8 L632.7,986.7 L633.2,1000.3 L633.7,998.5 L634.1,1000.5 L634.6,993.6 L635,989 L635.5,992.7 L636,997 L636.4,993.8 L636.9,992.5 L637.3,990.9 L637.8,988.3 L638.3,997.1 L638.7,993.4 L639.2,988.1 L639.6,988.3 L640.1,992.2 L640.6,994.3 L641,988.9 L641.5,989.2 L641.9,993 L642.4,997.4 L642.9,993 L643.3,1003.3 L643.8,1004.1 L644.2,991 L644.7,998.4 L645.2,994.4 L645.6,1001.8 L646.1,992.4 L646.5,1000 L647,1006.9 L647.5,995.4 L647.9,992.3 L648.4,999.8 L648.8,1000.5 L649.3,1001.3 L649.8,1002 L650.2,1002.5 L650.7,1001.8 L651.1,998.9 L651.6,996.1 L652.1,999.3 L652.5,1004.1 L653,998.3 L653.4,994.3 L653.9,996.1 L654.4,994.3 L654.8,997.6 L655.3,999 L655.7,1001.1 L656.2,1000.6 L656.7,999.8 L657.1,994.2 L657.6,1000.6 L658,988.5 L658.5,997.1 L659,990.7 L659.4,999.5 L659.9,993.8 L660.3,994.8 L660.8,995.4 L661.3,990.8 L661.7,1002.6 L662.2,1003.7 L662.6,988.8 L663.1,1000.3 L663.6,993.9 L664,997.6 L664.5,992.3 L664.9,996.8 L665.4,1006 L665.9,999.2 L666.3,1001.5 L666.8,995.2 L667.2,1002.6 L667.7,999.2 L668.2,990.1 L668.6,995.5 L669.1,998.5 L669.5,995.9 L670,997.5 L670.5,997.2 L670.9,1007.4 L671.4,1001.2 L671.8,996.5 L672.3,1003 L672.8,992.5 L673.2,990.3 L673.7,1007.6 L674.1,1001.7 L674.6,999.1 L675.1,1006.9 L675.5,995.9 L676,997.2 L676.4,993.2 L676.9,1003.1 L677.4,1006.8 L677.8,994.9 L678.3,990.8 L678.7,1002 L679.2,997.9 L679.7,1003.3 L680.1,999.8 L680.6,995.9 L681,999.3 L681.5,1006.2 L682,1001 L682.4,993.7 L682.9,1000.4 L683.3,997.9 L683.8,999.4 L684.3,1002.4 L684.7,992 L685.2,1005.6 L685.6,1003.1 L686.1,991.6 L686.6,1009.2 L687,1002 L687.5,1003.7 L687.9,1002.7 L688.4,999.7 L688.9,999.7 L689.3,995.1 L689.8,997.4 L690.2,999.5 L690.7,1000 L691.2,1005 L691.6,1005.6 L692.1,1000.8 L692.5,999.5 L693,995.8 L693.5,996.8 L693.9,999.4 L694.4,997.7 L694.8,1002.3 L695.3,998.3 L695.8,993.1 L696.2,999.7 L696.7,997.2 L697.1,998.7 L697.6,999.2 L698.1,996.1 L698.5,991.6 L699,999.1 L699.4,1001.2 L699.9,998.3 L700.4,991.3 L700.8,996.5 L701.3,1002 L701.7,1003.3 L702.2,1003.7 L702.7,1004.9 L703.1,1000.1 L703.6,1001.5 L704,1002.3 L704.5,995.7 L705,1000.1 L705.4,995.2 L705.9,1004 L706.3,1000.6 L706.8,1003.1 L707.3,1005.6 L707.7,993.1 L708.2,1003 L708.6,1004.4 L709.1,991.1 L709.6,1002.6 L710,990.6 L710.5,995.9 L710.9,1002.7 L711.4,998.6 L711.9,994.9 L712.3,998.4 L712.8,993.4 L713.2,1000.5 L713.7,1002 L714.2,1000.6 L714.6,1001.1 L715.1,998.9 L715.5,993.8 L716,1003.1 L716.5,991.4 L716.9,999.4 L717.4,1005.8 L717.8,1001.5 L718.3,1000.1 L718.8,1002.5 L719.2,996.5 L719.7,998.3 L720.1,999.6 L720.6,1007.9 L721.1,1000.9 L721.5,992 L722,1004.7 L722.4,1009.7 L722.9,1007.6 L723.4,995.6 L723.8,1009.7 L724.3,992.7 L724.7,1003.4 L725.2,1003.8 L725.7,991.8 L726.1,991.8 L726.6,998.3 L727,1009.4 L727.5,1002.9 L728,997 L728.4,1000.3 L728.9,1001.2 L729.3,1005.5 L729.8,997.2 L730.3,1002 L730.7,993.8 L731.2,1001.7 L731.6,1009.4 L732.1,993 L732.6,1001.3 L733,1004.3 L733.5,998.7 L733.9,999.8 L734.4,1001.5 L734.9,1000.9 L735.3,1012 L735.8,1000.8 L736.2,1012.1 L736.7,1007.1 L737.2,1006.4 L737.6,1006 L738.1,1001.5 L738.5,1001.5 L739,1000.1 L739.5,1003.8 L739.9,1011.9 L740.4,993.4 L740.8,1010.8 L741.3,1008.1 L741.8,1010.9 L742.2,1010.2 L742.7,1002.4 L743.1,1002.4 L743.6,998.7 L744.1,1001.6 L744.5,1003.2 L745,993.4 L745.4,1003.2 L745.9,1003.3 L746.4,993.4 L746.8,1007 L747.3,1004 L747.7,998.5 L748.2,998.7 L748.7,1005.1 L749.1,1009.8 L749.6,1002.3 L750,999.4 L750.5,999.6 L751,1008.3 L751.4,999.1 L751.9,1003.2 L752.3,1003.3 L752.8,1011.6 L753.3,1007.8 L753.7,1003.2 L754.2,995.5 L754.6,992.6 L755.1,992.7 L755.6,999.1 L756,1001.1 L756.5,996.2 L756.9,996.3 L757.4,1005.3 L757.9,1010.4 L758.3,998.9 L758.8,1005.9 L759.2,996.5 L759.7,1001.9 L760.2,998.4 L760.6,997.5 L761.1,1004.1 L761.5,1003.9 L762,1007.7 L762.5,1015.1 L762.9,999.3 L763.4,1009.2 L763.8,999.4 L764.3,997.3 L764.8,1013.9 L765.2,999.3 L765.7,1006.4 L766.1,1003.5 L766.6,1011.4 L767.1,1011.1 L767.5,1014.7 L768,1004.3 L768.4,1004.1 L768.9,1007.7 L769.4,1003.9 L769.8,1011.7 L770.3,1004.2 L770.7,999.7 L771.2,998 L771.7,999.9 L772.1,995.7 L772.6,992.6 L773,992.3 L773.5,1004.7 L774,1001.9 L774.4,1010.1 L774.9,1004.6 L775.3,997.3 L775.8,1004.9 L776.3,1002.3 L776.7,1000.3 L777.2,993.8 L777.6,997.6 L778.1,999.7 L778.6,995 L779,1002.7 L779.5,991.7 L779.9,994.6 L780.4,995 L780.9,1001 L781.3,993.3 L781.8,993.7 L782.2,998.1 L782.7,998.1 L783.2,997.6 L783.6,998 L784.1,1003.4 L784.5,1004.9 L785,994.9 L785.5,999.2 L785.9,998.9 L786.4,1011.4 L786.8,1000.1 L787.3,1006.5 L787.8,1003.5 L788.2,995.8 L788.7,1003.4 L789.1,1007.5 L789.6,1008.3 L790.1,994.1 L790.5,995.9 L791,1006.3 L791.4,1004.4 L791.9,1005.4 L792.4,995.1 L792.8,1003 L793.3,1000.8 L793.7,1002.1 L794.2,1001.9 L794.7,1001.4 L795.1,1005.7 L795.6,1008.2 L796,1013.4 L796.5,1014.1 L797,1003.7 L797.4,1005.2 L797.9,1007.3 L798.3,1008.9 L798.8,1007.5 L799.3,1016 L799.7,996.3 L800.2,1002.6 L800.6,1005.2 L801.1,1006.1 L801.6,1004.3 L802,1006.2 L802.5,1007.3 L802.9,1005.1 L803.4,1009.6 L803.9,1001.1 L804.3,996.6 L804.8,1007.1 L805.2,1003.3 L805.7,1013.2 L806.2,1006.1 L806.6,1009.3 L807.1,1007 L807.5,995.3 L808,1009.2 L808.5,1004 L808.9,995.7 L809.4,1002.6 L809.8,1003.8 L810.3,997.7 L810.8,1009.2 L811.2,996.3 L811.7,995.7 L812.1,1003.4 L812.6,1002.7 L813.1,999 L813.5,994.1 L814,1012.6 L814.4,1007.1 L814.9,1000.7 L815.4,1013.5 L815.8,1005.5 L816.3,1011.4 L816.7,1002.2 L817.2,1001.8 L817.7,1009.8 L818.1,1002.3 L818.6,1015.5 L819,1016.3 L819.5,1012 L820,1013.5 L820.4,1008 L820.9,1007.1 L821.3,1003.3 L821.8,1009 L822.3,1014.5 L822.7,1006.4 L823.2,1007.2 L823.6,1015.1 L824.1,1013.6 L824.6,1007.1 L825,1008.7 L825.5,1001.1 L825.9,1007.4 L826.4,1016.4 L826.9,1005.7 L827.3,1009.9 L827.8,1007.4 L828.2,998.2 L828.7,1010.4 L829.2,1007.8 L829.6,1010.8 L830.1,1004.6 L830.5,1002.9 L831,1008.6 L831.5,1007.1 L831.9,1007.9 L832.4,1009.9 L832.8,999.3 L833.3,1010.4 L833.8,1010 L834.2,1009.6 L834.7,1002.3 L835.1,1007.8 L835.6,1014.7 L836.1,1012.1 L836.5,1004.4 L837,1005.6 L837.4,1004.2 L837.9,1004 L838.4,1004.1 L838.8,1013.6 L839.3,1005.1 L839.7,1009.6 L840.2,1010.6 L840.7,1003.1 L841.1,1010 L841.6,1014.2 L842,1005.8 L842.5,1001.3 L843,998.2 L843.4,1004.9 L843.9,1009.9 L844.3,1012.2 L844.8,1005.3 L845.3,1006 L845.7,1007.7 L846.2,1009.8 L846.6,1006.4 L847.1,1000.1 L847.6,1005.7 L848,1011.1 L848.5,1002 L848.9,998.4 L849.4,996.5 L849.9,1009.7 L850.3,1008.3 L850.8,996.2 L851.2,1014.5 L851.7,1001.4 L852.2,1014 L852.6,1001.3 L853.1,1005 L853.5,1015.8 L854,1004 L854.5,1003.1 L854.9,1009.3 L855.4,1008.6 L855.8,1009.9 L856.3,1010.5 L856.8,1010.4 L857.2,1009.2 L857.7,1012.7 L858.1,1014.7 L858.6,1007.8 L859.1,1008.6 L859.5,1010.5 L860,1002.5 L860.4,1000 L860.9,1010.1 L861.4,1006.4 L861.8,1009 L862.3,1001.3 L862.7,1003.5 L863.2,1011 L863.7,1012.2 L864.1,1003.1 L864.6,1000.2 L865,1003.9 L865.5,1005.8 L866,1005.8 L866.4,1006.9 L866.9,1001.2 L867.3,1000.4 L867.8,999.6 L868.3,1001.8 L868.7,1009.8 L869.2,1009.9 L869.6,1006.5 L870.1,1008.8 L870.6,1004.6 L871,1012.5 L871.5,1006.1 L871.9,996 L872.4,1011.7 L872.9,1010.3 L873.3,1003.2 L873.8,1002.4 L874.2,1004.7 L874.7,1005.9 L875.2,997.6 L875.6,1005.2 L876.1,1008.2 L876.5,1009.9 L877,1012.8 L877.5,1000.6 L877.9,998.6 L878.4,1004.1 L878.8,1012 L879.3,1008.9 L879.8,1007.4 L880.2,1001.7 L880.7,1004.5 L881.1,1006.1 L881.6,1005.5 L882.1,999.7 L882.5,1008 L883,1007.9 L883.4,1001.6 L883.9,1008.4 L884.4,1011.9 L884.8,1009.8 L885.3,1003.9 L885.7,1010.9 L886.2,1005.2 L886.7,1014.6 L887.1,996.6 L887.6,1004.6 L888,1008.4 L888.5,1004.3 L889,1010.1 L889.4,1003.9 L889.9,1009.8 L890.3,1010.1 L890.8,1012.3 L891.3,1003.7 L891.7,1009.8 L892.2,1008.2 L892.6,1001.1 L893.1,1007.6 L893.6,1005 L894,1007.1 L894.5,1002.4 L894.9,1005.5 L895.4,1010.7 L895.9,1010.4 L896.3,1010.7 L896.8,1013.6 L897.2,1010 L897.7,1006.7 L898.2,1009.3 L898.6,1017.5 L899.1,1016.4 L899.5,1003.2 L900,1015.6 L900.5,1005.1 L900.9,1006.2 L901.4,1000.4 L901.8,1005.1 L902.3,1006.3 L902.8,1012.3 L903.2,1007.9 L903.7,1004.8 L904.1,1007.6 L904.6,1012.4 L905.1,1012.4 L905.5,1001.2 L906,1002.8 L906.4,1009.8 L906.9,1007.6 L907.4,1008.1 L907.8,1011.3 L908.3,1007.3 L908.7,1001.8 L909.2,1009.7 L909.7,1005.5 L910.1,1002.8 L910.6,1012.9 L911,1001.9 L911.5,1008.8 L912,1013.5 L912.4,1001.7 L912.9,999.3 L913.3,1011 L913.8,1002.9 L914.3,1015.1 L914.7,1011.6 L915.2,999 L915.6,1008.8 L916.1,1003.4 L916.6,1005.8 L917,1012.4 L917.5,1005.4 L917.9,1009 L918.4,1013.8 L918.9,1013.8 L919.3,1000.4 L919.8,1008.2 L920.2,1003.8 L920.7,998.1 L921.2,1002.6 L921.6,1008.3 L922.1,1008.4 L922.5,1009.9 L923,1010.5 L923.5,1006.4 L923.9,1007.9 L924.4,1004.7 L924.8,1010 L925.3,1004 L925.8,1011.6 L926.2,1006.6 L926.7,1010.6 L927.1,1001.3 L927.6,1005.3 L928.1,998 L928.5,996.9 L929,1013.8 L929.4,999.1 L929.9,1013.2 L930.4,1000.6 L930.8,1001.2 L931.3,1002.6 L931.7,1008 L932.2,999.2 L932.7,1003.6 L933.1,1006.5 L933.6,1012.8 L934,1002.3 L934.5,998.6 L935,1001.2 L935.4,997.3 L935.9,996.2 L936.3,1010 L936.8,1006.6 L937.3,1000.7 L937.7,1009 L938.2,1010 L938.6,999.1 L939.1,1005.2 L939.6,1006.9 L940,1003.2 L940.5,1010.6 L940.9,1003.2 L941.4,1004.6 L941.9,1007.6 L942.3,1003.6 L942.8,1007.2 L943.2,1011.5 L943.7,1010 L944.2,1003 L944.6,1005.9 L945.1,1015.8 L945.5,1003.5 L946,1003.3 L946.5,1006.7 L946.9,1015.5 L947.4,1007.9 L947.8,1005.8 L948.3,1001 L948.8,1007.6 L949.2,1005.3 L949.7,1011.2 L950.1,1006.7 L950.6,1004.6 L951.1,1007.2 L951.5,1007.7 L952,1015 L952.4,1011.4 L952.9,1010.7 L953.4,1011.6 L953.8,1006.7 L954.3,1001.6 L954.7,1006.4 L955.2,1016.2 L955.7,1009.8 L956.1,1016 L956.6,1001.9 L957,1001.1 L957.5,1010.3 L958,1011 L958.4,1001.6 L958.9,1004.3 L959.3,998.6 L959.8,1009.3 L960.3,1009.5 L960.7,1011.2 L961.2,1003.2 L961.6,1004.3 L962.1,1008.2 L962.6,1011.7 L963,1005.2 L963.5,1002.6 L963.9,1008.8 L964.4,999.8 L964.9,996 L965.3,998 L965.8,1005.1 L966.2,999 L966.7,1005.4 L967.2,1005.9 L967.6,1000.1 L968.1,1007.7 L968.5,1012 L969,1008.6 L969.5,1005.9 L969.9,1005 L970.4,1003.3 L970.8,999.2 L971.3,1003.7 L971.8,1004.9 L972.2,1002.5 L972.7,999.3 L973.1,1008.2 L973.6,1003.1 L974.1,1009 L974.5,1013.2 L975,1009.4 L975.4,1005.3 L975.9,999.5 L976.4,1008.7 L976.8,1006.5 L977.3,1008.1 L977.7,1004.4 L978.2,1008.7 L978.7,1004.5 L979.1,999.7 L979.6,1009.9 L980,997 L980.5,1005.1 L981,998.2 L981.4,1009.7 L981.9,1001.7 L982.3,997 L982.8,1007.9 L983.3,1011.1 L983.7,1003.7 L984.2,1004.9 L984.6,1003.7 L985.1,1006.3 L985.6,1000.2 L986,998.4 L986.5,1003.2 L986.9,1005.8 L987.4,1001.7 L987.9,1004 L988.3,1000.5 L988.8,996.9 L989.2,994.9 L989.7,992.5 L990.2,1000.5 L990.6,996.4 L991.1,1000.8 L991.5,999.2 L992,1001.4 L992.5,1003.2 L992.9,1002.4 L993.4,1003.2 L993.8,1002.7 L994.3,1000.5 L994.8,996.5 L995.2,995.6 L995.7,994.3 L996.1,993.7 L996.6,996.9 L997.1,989.2 L997.5,988.5 L998,993.2 L998.4,991.8 L998.9,987.7 L999.4,989 L999.8,994.8 L1000.3,991.8 L1000.7,986.5 L1001.2,985.5 L1001.7,983.1 L1002.1,990.6 L1002.6,975.7 L1003,983.9 L1003.5,976.8 L1004,978 L1004.4,982.9 L1004.9,966.2 L1005.3,967.4 L1005.8,962.5 L1006.3,969.8 L1006.7,962.4 L1007.2,966.3 L1007.6,952.9 L1008.1,944.4 L1008.6,946.1 L1009,936.2 L1009.5,934.7 L1009.9,933.7 L1010.4,922.8 L1010.9,915.4 L1011.3,899.6 L1011.8,887.6 L1012.2,873.3 L1012.7,852.4 L1013.2,829.5 L1013.6,818.7 L1014.1,794.3 L1014.5,769.5 L1015,746.7 L1015.5,730.3 L1015.9,712.6 L1016.4,686.4 L1016.8,675.2 L1017.3,648.3 L1017.8,620.3 L1018.2,578.9 L1018.7,554.5 L1019.1,534.4 L1019.6,520.8 L1020.1,502.2 L1020.5,463.3 L1021,434.7 L1021.4,406.6 L1021.9,384.6 L1022.4,362 L1022.8,340.4 L1023.3,323.2 L1023.7,315.1 L1024.2,304.7 L1024.7,293.2 L1025.1,299.5 L1025.6,312.2 L1026,332.7 L1026.5,355.3 L1027,370.9 L1027.4,390.7 L1027.9,413.6 L1028.3,441.7 L1028.8,473.6 L1029.3,505.9 L1029.7,527.2 L1030.2,538.3 L1030.6,562.9 L1031.1,588.5 L1031.6,628.6 L1032,655.6 L1032.5,674.6 L1032.9,689 L1033.4,710 L1033.9,727.3 L1034.3,753.8 L1034.8,776.6 L1035.2,796.8 L1035.7,819.4 L1036.2,842.6 L1036.6,859.7 L1037.1,880.1 L1037.5,891.5 L1038,905.5 L1038.5,918.8 L1038.9,928.4 L1039.4,933.7 L1039.8,940.6 L1040.3,946.7 L1040.8,945.3 L1041.2,950.8 L1041.7,957.1 L1042.1,968.1 L1042.6,963.8 L1043.1,974.3 L1043.5,971 L1044,983.8 L1044.4,976 L1044.9,978.9 L1045.4,982.6 L1045.8,979.1 L1046.3,979.7 L1046.7,986.5 L1047.2,986.5 L1047.7,987.8 L1048.1,989.5 L1048.6,996.9 L1049,998.4 L1049.5,985.7 L1050,991.2 L1050.4,990 L1050.9,989.1 L1051.3,998 L1051.8,992.9 L1052.3,998.4 L1052.7,1003 L1053.2,990.3 L1053.6,994.1 L1054.1,992.3 L1054.6,999 L1055,1004.7 L1055.5,996 L1055.9,989.9 L1056.4,990.1 L1056.9,1001.5 L1057.3,997.2 L1057.8,994.2 L1058.2,991.1 L1058.7,996.9 L1059.2,1000 L1059.6,999.2 L1060.1,999.3 L1060.5,996.3 L1061,993.1 L1061.5,1001.5 L1061.9,1005.1 L1062.4,1006.2 L1062.8,1005 L1063.3,1000.4 L1063.8,1002.9 L1064.2,1008.4 L1064.7,1001.6 L1065.1,1005 L1065.6,1006.4 L1066.1,997.7 L1066.5,1001.7 L1067,1005.6 L1067.4,1011.5 L1067.9,997.6 L1068.4,1010.2 L1068.8,1005.4 L1069.3,998.4 L1069.7,1005 L1070.2,1002.8 L1070.7,1011 L1071.1,1008.3 L1071.6,1003.8 L1072,1009 L1072.5,1007.8 L1073,1012.7 L1073.4,1009.4 L1073.9,1007.5 L1074.3,1004.8 L1074.8,1008.2 L1075.3,1002.4 L1075.7,1013.8 L1076.2,1002.8 L1076.6,1002.3 L1077.1,1004.4 L1077.6,1003.5 L1078,1005.7 L1078.5,1003.3 L1078.9,1004.3 L1079.4,1001.9 L1079.9,1008.1 L1080.3,1011 L1080.8,1005.9 L1081.2,1010.2 L1081.7,1010.5 L1082.2,1003.4 L1082.6,1001.6 L1083.1,1008.9 L1083.5,1013.2 L1084,1006.9 L1084.5,1014.9 L1084.9,1007.1 L1085.4,1007.2 L1085.8,1002.6 L1086.3,1000.1 L1086.8,1008.6 L1087.2,1005.7 L1087.7,1008.8 L1088.1,1003.1 L1088.6,1007.6 L1089.1,1007.9 L1089.5,1013.8 L1090,1001.9 L1090.4,1008.5 L1090.9,1001.8 L1091.4,1007.7 L1091.8,1004.7 L1092.3,1002.7 L1092.7,1013.1 L1093.2,1010.7 L1093.7,1014 L1094.1,1012.2 L1094.6,1007.9 L1095,1015.6 L1095.5,1012.7 L1096,1012.1 L1096.4,1001.6 L1096.9,1011 L1097.3,1010.2 L1097.8,1008.9 L1098.3,1004.2 L1098.7,1010.7 L1099.2,1004.7 L1099.6,1014.1 L1100.1,1006.3 L1100.6,1013.3 L1101,1016.6 L1101.5,1007.4 L1101.9,1014.3 L1102.4,1009.9 L1102.9,1012.3 L1103.3,1011.2 L1103.8,1008.3 L1104.2,1008.3 L1104.7,1012.5 L1105.2,1008.9 L1105.6,1002.9 L1106.1,1008.5 L1106.5,1011.5 L1107,1015.2 L1107.5,1007.2 L1107.9,1011.2 L1108.4,1016.7 L1108.8,1013.1 L1109.3,1006.5 L1109.8,1011.5 L1110.2,1009.8 L1110.7,1005.7 L1111.1,1009.4 L1111.6,1005.1 L1112.1,1002.7 L1112.5,1012.7 L1113,1008.6 L1113.4,1011.8 L1113.9,1010.3 L1114.4,1006.2 L1114.8,1008.3 L1115.3,1013.8 L1115.7,1011.8 L1116.2,1012.5 L1116.7,1010.6 L1117.1,1009.8 L1117.6,1016.3 L1118,1018.4 L1118.5,1018.2 L1119,1015.2 L1119.4,1010.9 L1119.9,1008 L1120.3,1019.5 L1120.8,1016.5 L1121.3,1007.2 L1121.7,1011.8 L1122.2,1012.1 L1122.6,1009.9 L1123.1,1016.7 L1123.6,1008.9 L1124,1015.7 L1124.5,1006.8 L1124.9,1016.3 L1125.4,1008.3 L1125.9,1014 L1126.3,1009.8 L1126.8,1012.6 L1127.2,1015.1 L1127.7,1010.3 L1128.2,1011.1 L1128.6,1009.3 L1129.1,1011.3 L1129.5,1005 L1130,1005.6 L1130.5,1009 L1130.9,1007.2 L1131.4,1017.5 L1131.8,1007.1 L1132.3,1012.7 L1132.8,1008.4 L1133.2,1006.3 L1133.7,1011.6 L1134.1,1013 L1134.6,1013.8 L1135.1,1015.6 L1135.5,1007.5 L1136,1013.6 L1136.4,1012.6 L1136.9,1010 L1137.4,1006.6 L1137.8,1004.8 L1138.3,1010.9 L1138.7,1003 L1139.2,1007.1 L1139.7,1009 L1140.1,1010.3 L1140.6,1004.4 L1141,1011 L1141.5,1017.1 L1142,1017.1 L1142.4,1016.1 L1142.9,1006.6 L1143.3,1011.9 L1143.8,1012.2 L1144.3,1008.2 L1144.7,1004.9 L1145.2,1011.7 L1145.6,1013.1 L1146.1,1010.4 L1146.6,1007.5 L1147,1008.7 L1147.5,1016.7 L1147.9,1002.1 L1148.4,1004.3 L1148.9,1012.8 L1149.3,1009.5 L1149.8,1011.5 L1150.2,1008.8 L1150.7,1008 L1151.2,1002 L1151.6,1005.1 L1152.1,1007 L1152.5,1015.1 L1153,1008.8 L1153.5,1010.4 L1153.9,1004.7 L1154.4,1012.5 L1154.8,1011.5 L1155.3,1010.5 L1155.8,1007.6 L1156.2,1006.3 L1156.7,1011 L1157.1,1011.4 L1157.6,1013.2 L1158.1,1014 L1158.5,1006.9 L1159,1003.7 L1159.4,1013.1 L1159.9,1014.9 L1160.4,1008.4 L1160.8,1009.4 L1161.3,1006.1 L1161.7,1011.3 L1162.2,1006.9 L1162.7,1005.2 L1163.1,1014.4 L1163.6,1011.6 L1164,1010 L1164.5,1004.3 L1165,1001.8 L1165.4,1008.6 L1165.9,1007.4 L1166.3,1005.1 L1166.8,1005.4 L1167.3,1006.1 L1167.7,1001.7 L1168.2,1008.6 L1168.6,1011.3 L1169.1,1006.5 L1169.6,1013.1 L1170,1005.6 L1170.5,1007.5 L1170.9,1002.5 L1171.4,1010.5 L1171.9,1004.8 L1172.3,995.2 L1172.8,1007.4 L1173.2,998.8 L1173.7,1003.1 L1174.2,991.8 L1174.6,996.7 L1175.1,1000.1 L1175.5,990.4 L1176,992.8 L1176.5,989.9 L1176.9,989.8 L1177.4,991.8 L1177.8,989.4 L1178.3,989.5 L1178.8,984 L1179.2,980.6 L1179.7,983.2 L1180.1,987 L1180.6,975.8 L1181.1,974.1 L1181.5,975.5 L1182,964.6 L1182.4,968.9 L1182.9,964.7 L1183.4,972.3 L1183.8,966.4 L1184.3,958.6 L1184.7,957.8 L1185.2,952.7 L1185.7,958.5 L1186.1,952.1 L1186.6,953.4 L1187,949.9 L1187.5,945.3 L1188,941.1 L1188.4,945.6 L1188.9,940.3 L1189.3,942.4 L1189.8,935.9 L1190.3,939.3 L1190.7,940.7 L1191.2,931.9 L1191.6,932.3 L1192.1,927.9 L1192.6,935.8 L1193,929.9 L1193.5,938.4 L1193.9,935.4 L1194.4,936.6 L1194.9,931.5 L1195.3,933.2 L1195.8,931.7 L1196.2,940 L1196.7,939.7 L1197.2,941.3 L1197.6,943.8 L1198.1,940.3 L1198.5,946.2 L1199,945.8 L1199.5,953.1 L1199.9,953.7 L1200.4,963.5 L1200.8,956.4 L1201.3,962.4 L1201.8,959.2 L1202.2,962.5 L1202.7,961 L1203.1,967.9 L1203.6,969.1 L1204.1,972.6 L1204.5,977 L1205,985.3 L1205.4,984.8 L1205.9,981.5 L1206.4,986.3 L1206.8,985.1 L1207.3,985.8 L1207.7,991.7 L1208.2,991.9 L1208.7,994.9 L1209.1,988.7 L1209.6,995.2 L1210,988.9 L1210.5,994.4 L1211,994.6 L1211.4,998.3 L1211.9,1001.6 L1212.3,1007.6 L1212.8,998.1 L1213.3,1002.8 L1213.7,1003.8 L1214.2,1003.6 L1214.6,1009.8 L1215.1,1007 L1215.6,1003.9 L1216,1011.4 L1216.5,1006.1 L1216.9,999.8 L1217.4,1007.1 L1217.9,1005.7 L1218.3,1012.1 L1218.8,1004.5 L1219.2,1013.9 L1219.7,1003.2 L1220.2,1010.1 L1220.6,1008 L1221.1,1010.6 L1221.5,1010.4 L1222,1006.7 L1222.5,1016.8 L1222.9,1009.7 L1223.4,1011.4 L1223.8,1009.2 L1224.3,1008.3 L1224.8,1008.6 L1225.2,1011.7 L1225.7,1005.5 L1226.1,1013.6 L1226.6,1013.6 L1227.1,1019.1 L1227.5,1006.5 L1228,1007.7 L1228.4,1012.5 L1228.9,1011.1 L1229.4,1019.6 L1229.8,1011.8 L1230.3,1014.1 L1230.7,1013.8 L1231.2,1007 L1231.7,1015.7 L1232.1,1012.6 L1232.6,1013.9 L1233,1015.9 L1233.5,1011 L1234,1012.8 L1234.4,1011 L1234.9,1020 L1235.3,1015.7 L1235.8,1019.9 L1236.3,1006.3 L1236.7,1019.9 L1237.2,1012.4 L1237.6,1019.8 L1238.1,1019.8 L1238.6,1019.8 L1239,1012 L1239.5,1012 L1239.9,1018.3 L1240.4,1014.2 L1240.9,1011.8 L1241.3,1010 L1241.8,1009.7 L1242.2,1011 L1242.7,1012.8 L1243.2,1017 L1243.6,1012.9 L1244.1,1017.2 L1244.5,1013.1 L1245,1008.8 L1245.5,1007.9 L1245.9,1017.1 L1246.4,1007.2 L1246.8,1018.7 L1247.3,1013.1 L1247.8,1018.7 L1248.2,1013 L1248.7,1008.7 L1249.1,1009.8 L1249.6,1012.3 L1250.1,1008.6 L1250.5,1006.7 L1251,1015.7 L1251.4,1009.1 L1251.9,1007.1 L1252.4,1007.5 L1252.8,1014.6 L1253.3,1011.2 L1253.7,1013.5 L1254.2,1007.9 L1254.7,1011.4 L1255.1,1012.1 L1255.6,1009.8 L1256,1017.7 L1256.5,1014.6 L1257,1013.6 L1257.4,1006.5 L1257.9,1013.6 L1258.3,1014.5 L1258.8,1008.7 L1259.3,1013.3 L1259.7,1009.5 L1260.2,1015.2 L1260.6,1013.4 L1261.1,1012.7 L1261.6,1011.4 L1262,1015.2 L1262.5,1015.4 L1262.9,1014.7 L1263.4,1010.3 L1263.9,1007 L1264.3,1009.8 L1264.8,1013.1 L1265.2,1012.6 L1265.7,1012.2 L1266.2,1013.8 L1266.6,1009.9 L1267.1,1013 L1267.5,1016.5 L1268,1013.8 L1268.5,1005.9 L1268.9,1009.6 L1269.4,1015.9 L1269.8,1008.5 L1270.3,1016.1 L1270.8,1015.5 L1271.2,1006.3 L1271.7,1008.2 L1272.1,1010.9 L1272.6,1014.2 L1273.1,1007.4 L1273.5,1009 L1274,1011.4 L1274.4,1009.3 L1274.9,1008.9 L1275.4,1012.4 L1275.8,1014.7 L1276.3,1007.5 L1276.7,1013.6 L1277.2,1008.9 L1277.7,1015 L1278.1,1013.1 L1278.6,1006.3 L1279,1014.9 L1279.5,1015.1 L1280,1014.3 L1280.4,1013.9 L1280.9,1014.5 L1281.3,1007.4 L1281.8,1010.9 L1282.3,1007.7 L1282.7,1013.5 L1283.2,1013.5 L1283.6,1011.4 L1284.1,1016.3 L1284.6,1018.8 L1285,1018.8 L1285.5,1018.3 L1285.9,1012.9 L1286.4,1018.3 L1286.9,1014.9 L1287.3,1008.8 L1287.8,1020.6 L1288.2,1017.6 L1288.7,1019.3 L1289.2,1016.8 L1289.6,1019.2 L1290.1,1017 L1290.5,1019 L1291,1010 L1291.5,1014 L1291.9,1016 L1292.4,1015.1 L1292.8,1015.1 L1293.3,1012.2 L1293.8,1016.6 L1294.2,1011.5 L1294.7,1011.9 L1295.1,1007.3 L1295.6,1013.1 L1296.1,1015.3 L1296.5,1014.7 L1297,1013.3 L1297.4,1010.5 L1297.9,1014.6 L1298.4,1012.6 L1298.8,1007.2 L1299.3,1008.1 L1299.7,1015.5 L1300.2,1013.5 L1300.7,1013.1 L1301.1,1006.7 L1301.6,1013 L1302,1011.8 L1302.5,1011.1 L1303,1014.2 L1303.4,1014 L1303.9,1013.4 L1304.3,1012.2 L1304.8,1011.7 L1305.3,1011.9 L1305.7,1010.1 L1306.2,1014 L1306.6,1018.2 L1307.1,1015.3 L1307.6,1014.4 L1308,1014.5 L1308.5,1012.7 L1308.9,1019.1 L1309.4,1020.2 L1309.9,1006.7 L1310.3,1013.8 L1310.8,1013.3 L1311.2,1008.5 L1311.7,1016.9 L1312.2,1017.4 L1312.6,1020 L1313.1,1016.9 L1313.5,1013.8 L1314,1012.9 L1314.5,1017.6 L1314.9,1011.4 L1315.4,1014.9 L1315.8,1016.4 L1316.3,1013.8 L1316.8,1010.6 L1317.2,1015.2 L1317.7,1015.3 L1318.1,1022 L1318.6,1020.4 L1319.1,1012.9 L1319.5,1010.3 L1320,1016.5 L1320.4,1017.2 L1320.9,1015.7 L1321.4,1020.7 L1321.8,1017.2 L1322.3,1021.2 L1322.7,1023.4 L1323.2,1018.9 L1323.7,1018.1 L1324.1,1014.7 L1324.6,1013.1 L1325,1020.2 L1325.5,1023.8 L1326,1013.2 L1326.4,1016.1 L1326.9,1023.9 L1327.3,1013.6 L1327.8,1020 L1328.3,1015 L1328.7,1018.1 L1329.2,1023.1 L1329.6,1022.1 L1330.1,1018.5 L1330.6,1011.6 L1331,1016.9 L1331.5,1015.5 L1331.9,1021.3 L1332.4,1012.2 L1332.9,1018.6 L1333.3,1015.6 L1333.8,1013.3 L1334.2,1011.5 L1334.7,1011.4 L1335.2,1016.8 L1335.6,1011.3 L1336.1,1024.6 L1336.5,1015.9 L1337,1020 L1337.5,1022.2 L1337.9,1024.6 L1338.4,1019.4 L1338.8,1020.8 L1339.3,1012.3 L1339.8,1023.2 L1340.2,1018.9 L1340.7,1015.2 L1341.1,1013.6 L1341.6,1018 L1342.1,1017 L1342.5,1016 L1343,1014.5 L1343.4,1016.5 L1343.9,1019.9 L1344.4,1013.4 L1344.8,1013.4 L1345.3,1014.1 L1345.7,1016.8 L1346.2,1011 L1346.7,1016.7 L1347.1,1011 L1347.6,1021.3 L1348,1018.4 L1348.5,1016.4 L1349,1012.1 L1349.4,1017.1 L1349.9,1018.6 L1350.3,1014.3 L1350.8,1018.5 L1351.3,1018.1 L1351.7,1014.4 L1352.2,1016.9 L1352.6,1017 L1353.1,1014.1 L1353.6,1016.8 L1354,1014.1 L1354.5,1016.1 L1354.9,1017.6 L1355.4,1018.8 L1355.9,1014.6 L1356.3,1020.5 L1356.8,1016.6 L1357.2,1014.6 L1357.7,1016.6 L1358.2,1022 L1358.6,1014.3 L1359.1,1020.4 L1359.5,1017.4 L1360,1018.1 L1360.5,1020.2 L1360.9,1022.7 L1361.4,1018.4 L1361.8,1011.9 L1362.3,1023.8 L1362.8,1017.7 L1363.2,1017.3 L1363.7,1017.2 L1364.1,1023.5 L1364.6,1018.7 L1365.1,1017.4 L1365.5,1020.8 L1366,1021.7 L1366.4,1015.7 L1366.9,1016.1 L1367.4,1012.5 L1367.8,1017.8 L1368.3,1017.2 L1368.7,1016.1 L1369.2,1018 L1369.7,1017.8 L1370.1,1019.4 L1370.6,1022.3 L1371,1016.9 L1371.5,1020.1 L1372,1022.3 L1372.4,1010.6 L1372.9,1012.4 L1373.3,1017.3 L1373.8,1012.3 L1374.3,1010.2 L1374.7,1011 L1375.2,1019.8 L1375.6,1016.5 L1376.1,1018.2 L1376.6,1016.3 L1377,1016 L1377.5,1016.5 L1377.9,1016 L1378.4,1011.7 L1378.9,1016.6 L1379.3,1015.7 L1379.8,1009.2 L1380.2,1019.3 L1380.7,1012.2 L1381.2,1017 L1381.6,1018.7 L1382.1,1012.6 L1382.5,1015.5 L1383,1015.9 L1383.5,1023.4 L1383.9,1021.2 L1384.4,1016.4 L1384.8,1011.2 L1385.3,1020 L1385.8,1018.6 L1386.2,1021.4 L1386.7,1022.9 L1387.1,1019 L1387.6,1019.5 L1388.1,1018.1 L1388.5,1013.7 L1389,1017.6 L1389.4,1016.8 L1389.9,1016.2 L1390.4,1018.5 L1390.8,1010.7 L1391.3,1021.7 L1391.7,1014.6 L1392.2,1021.8 L1392.7,1020.7 L1393.1,1020.7 L1393.6,1018.6 L1394,1015.8 L1394.5,1019.1 L1395,1016 L1395.4,1015.6 L1395.9,1012 L1396.3,1013 L1396.8,1011.3 L1397.3,1013.1 L1397.7,1011.9 L1398.2,1012.8 L1398.6,1020 L1399.1,1017.1 L1399.6,1018.8 L1400,1015.3 L1400.5,1018.7 L1400.9,1012.5 L1401.4,1021.5 L1401.9,1011.5 L1402.3,1021.5 L1402.8,1016.5 L1403.2,1016.1 L1403.7,1010.6 L1404.2,1010.5 L1404.6,1016.3 L1405.1,1014.8 L1405.5,1018.3 L1406,1020.4 L1406.5,1015.2 L1406.9,1012.7 L1407.4,1018.6 L1407.8,1009.8 L1408.3,1021.3 L1408.8,1014.3 L1409.2,1015.1 L1409.7,1013.6 L1410.1,1009.3 L1410.6,1012.2 L1411.1,1015.8 L1411.5,1010 L1412,1012.8 L1412.4,1017.4 L1412.9,1018.4 L1413.4,1016.2 L1413.8,1014.9 L1414.3,1014.5 L1414.7,1016.5 L1415.2,1020.8 L1415.7,1015.3 L1416.1,1011.5 L1416.6,1017.7 L1417,1015.9 L1417.5,1020.1 L1418,1016.6 L1418.4,1016.7 L1418.9,1009.9 L1419.3,1014.7 L1419.8,1015.1 L1420.3,1014.9 L1420.7,1017.8 L1421.2,1022.6 L1421.6,1023.3 L1422.1,1012.9 L1422.6,1020.5 L1423,1017.5 L1423.5,1016.4 L1423.9,1017.5 L1424.4,1014.7 L1424.9,1021.7 L1425.3,1017.1 L1425.8,1018.6 L1426.2,1012.7 L1426.7,1016.6 L1427.2,1013.7 L1427.6,1014.9 L1428.1,1019.4 L1428.5,1017.9 L1429,1013.4 L1429.5,1023.1 L1429.9,1018.4 L1430.4,1016 L1430.8,1019.9 L1431.3,1019 L1431.8,1018.1 L1432.2,1020 L1432.7,1017.7 L1433.1,1016 L1433.6,1011.3 L1434.1,1012.8 L1434.5,1015.4 L1435,1020.9 L1435.4,1015.3 L1435.9,1019.9 L1436.4,1019.1 L1436.8,1014.6 L1437.3,1016.2 L1437.7,1018.4 L1438.2,1016.6 L1438.7,1017 L1439.1,1012.1 L1439.6,1015.6 L1440,1016.3 L1440.5,1011.2 L1441,1013.7 L1441.4,1014.5 L1441.9,1014.3 L1442.3,1021.2 L1442.8,1021.6 L1443.3,1018.9 L1443.7,1013.5 L1444.2,1017.1 L1444.6,1016 L1445.1,1017.6 L1445.6,1015 L1446,1012.8 L1446.5,1022.1 L1446.9,1015 L1447.4,1013.5 L1447.9,1018.8 L1448.3,1013.7 L1448.8,1017 L1449.2,1020 L1449.7,1014.6 L1450.2,1015.7 L1450.6,1016.7 L1451.1,1011.7 L1451.5,1019 L1452,1020.1 L1452.5,1013.8 L1452.9,1009.2 L1453.4,1012.2 L1453.8,1017.5 L1454.3,1016.8 L1454.8,1016.8 L1455.2,1016.2 L1455.7,1020.3 L1456.1,1019.6 L1456.6,1010.4 L1457.1,1015.3 L1457.5,1012.5 L1458,1017.4 L1458.4,1014 L1458.9,1015.4 L1459.4,1014 L1459.8,1016.1 L1460.3,1018.8 L1460.7,1014.4 L1461.2,1021.2 L1461.7,1016.6 L1462.1,1015.9 L1462.6,1010.8 L1463,1015.8 L1463.5,1022.3 L1464,1018.2 L1464.4,1016.9 L1464.9,1013.7 L1465.3,1011.1 L1465.8,1022.4 L1466.3,1018.1 L1466.7,1017.2 L1467.2,1011.9 L1467.6,1021.3 L1468.1,1016.2 L1468.6,1022.6 L1469,1014.2 L1469.5,1017.3 L1469.9,1013.4 L1470.4,1012.3 L1470.9,1016.5 L1471.3,1019.7 L1471.8,1018.1 L1472.2,1022.9 L1472.7,1019.6 L1473.2,1017 L1473.6,1016.5 L1474.1,1014.1 L1474.5,1019.6 L1475,1020.6 L1475.5,1015.3 L1475.9,1020.1 L1476.4,1010.6 L1476.8,1022.8 L1477.3,1015.6 L1477.8,1018.2 L1478.2,1016 L1478.7,1013.1 L1479.1,1015 L1479.6,1010.4 L1480.1,1017.4 L1480.5,1020.4 L1481,1013.2 L1481.4,1010.1 L1481.9,1015.6 L1482.4,1014.8 L1482.8,1010.9 L1483.3,1020.1 L1483.7,1016.2 L1484.2,1013.1 L1484.7,1014.3 L1485.1,1017.9 L1485.6,1015.5 L1486,1020.5 L1486.5,1014 L1487,1017.3 L1487.4,1011.2 L1487.9,1015.2 L1488.3,1015.1 L1488.8,1015 L1489.3,1014.4 L1489.7,1020.9 L1490.2,1017.6 L1490.6,1018.1 L1491.1,1015.5 L1491.6,1015.5 L1492,1023.1 L1492.5,1016.6 L1492.9,1018.6 L1493.4,1012.2 L1493.9,1015.1 L1494.3,1015 L1494.8,1022.4 L1495.2,1011.7 L1495.7,1021.3 L1496.2,1013.3 L1496.6,1020.5 L1497.1,1024 L1497.5,1021.4 L1498,1018.3 L1498.5,1023.6 L1498.9,1021.2 L1499.4,1022.6 L1499.8,1019.1 L1500.3,1020.1 L1500.8,1015.9 L1501.2,1020.8 L1501.7,1015.2 L1502.1,1011.9 L1502.6,1020 L1503.1,1018.2 L1503.5,1017 L1504,1014.2 L1504.4,1016.9 L1504.9,1016.1 L1505.4,1021.6 L1505.8,1016.2 L1506.3,1015.5 L1506.7,1018.3 L1507.2,1017.5 L1507.7,1019.4 L1508.1,1016.7 L1508.6,1015.9 L1509,1021.7 L1509.5,1021.1 L1510,1014.1 L1510.4,1014.8 L1510.9,1012.6 L1511.3,1022 L1511.8,1012.7 L1512.3,1014.2 L1512.7,1011.9 L1513.2,1016.3 L1513.6,1019.8 L1514.1,1014.3 L1514.6,1013.6 L1515,1019.7 L1515.5,1019.3 L1515.9,1015.1 L1516.4,1016.1 L1516.9,1019.4 L1517.3,1018 L1517.8,1023 L1518.2,1011 L1518.7,1017.1 L1519.2,1022.8 L1519.6,1020 L1520.1,1018.4 L1520.5,1020.3 L1521,1015.2 L1521.5,1016.1 L1521.9,1020 L1522.4,1019.1 L1522.8,1014.1 L1523.3,1010.4 L1523.8,1018.2 L1524.2,1017.8 L1524.7,1010.3 L1525.1,1015.7 L1525.6,1017.7 L1526.1,1022.3 L1526.5,1014.8 L1527,1017.1 L1527.4,1014.7 L1527.9,1020.4 L1528.4,1014.6 L1528.8,1015.2 L1529.3,1012.5 L1529.7,1017.4 L1530.2,1017.6 L1530.7,1016.7 L1531.1,1010.8 L1531.6,1011.3 L1532,1018.8 L1532.5,1017.1 L1533,1021.2 L1533.4,1014.7 L1533.9,1014.9 L1534.3,1022.5 L1534.8,1019.1 L1535.3,1011.9 L1535.7,1017.2 L1536.2,1015.9 L1536.6,1019.3 L1537.1,1016 L1537.6,1019.2 L1538,1014.4 L1538.5,1023 L1538.9,1021.9 L1539.4,1020.5 L1539.9,1019 L1540.3,1018.2 L1540.8,1018 L1541.2,1021.7 L1541.7,1015 L1542.2,1017.4 L1542.6,1018.2 L1543.1,1018.1 L1543.5,1016 L1544,1021.5 L1544.5,1016.5 L1544.9,1018.4 L1545.4,1017.3 L1545.8,1020 L1546.3,1015.4 L1546.8,1013.1 L1547.2,1016.3 L1547.7,1015.1 L1548.1,1016 L1548.6,1018.6 L1549.1,1012.5 L1549.5,1011.3 L1550,1019.7 L1550.4,1017.2 L1550.9,1018.1 L1551.4,1017.6 L1551.8,1017.2 L1552.3,1015.1 L1552.7,1016.5 L1553.2,1022.6 L1553.7,1017.3 L1554.1,1020.7 L1554.6,1011.3 L1555,1016.6 L1555.5,1017.7 L1556,1019.1 L1556.4,1022.1 L1556.9,1015.8 L1557.3,1022.6 L1557.8,1020.7 L1558.3,1022.2 L1558.7,1018.7 L1559.2,1016.7 L1559.6,1021.8 L1560.1,1014.8 L1560.6,1016.3 L1561,1014.1 L1561.5,1013 L1561.9,1016.8 L1562.4,1017.1 L1562.9,1019.5 L1563.3,1012.6 L1563.8,1015.4 L1564.2,1021.5 L1564.7,1022 L1565.2,1019.1 L1565.6,1021.7 L1566.1,1018.1 L1566.5,1020.4 L1567,1017.8 L1567.5,1018.4 L1567.9,1016 L1568.4,1016.2 L1568.8,1016.9 L1569.3,1018.3 L1569.8,1013.4 L1570.2,1017.7 L1570.7,1014.1 L1571.1,1021.1 L1571.6,1016.9 L1572.1,1020.4 L1572.5,1016.8 L1573,1013.4 L1573.4,1012.8 L1573.9,1012.7 L1574.4,1012 L1574.8,1021.7 L1575.3,1011.7 L1575.7,1019.5 L1576.2,1017.3 L1576.7,1020.4 L1577.1,1017.7 L1577.6,1020.8 L1578,1015.6 L1578.5,1017.9 L1579,1017.5 L1579.4,1016 L1579.9,1017 L1580.3,1015.7 L1580.8,1018.1 L1581.3,1021.8 L1581.7,1016.2 L1582.2,1021.3 L1582.6,1017.9 L1583.1,1019.3 L1583.6,1023.5 L1584,1014.9 L1584.5,1015.7 L1584.9,1018.9 L1585.4,1019 L1585.9,1024 L1586.3,1023.8 L1586.8,1013.9 L1587.2,1015.9 L1587.7,1020 L1588.2,1016.4 L1588.6,1017.3 L1589.1,1016 L1589.5,1018.9 L1590,1020.7 L1590.5,1022.2 L1590.9,1021.6 L1591.4,1019.1 L1591.8,1020.8 L1592.3,1023.1 L1592.8,1021.5 L1593.2,1015 L1593.7,1014.3 L1594.1,1018.4 L1594.6,1015.5 L1595.1,1023 L1595.5,1018.7 L1596,1014.5 L1596.4,1013.2 L1596.9,1014.7 L1597.4,1019.7 L1597.8,1019.2 L1598.3,1018.7 L1598.7,1017.8 L1599.2,1013.8 L1599.7,1021.6 L1600.1,1021 L1600.6,1021.5 L1601,1022.4 L1601.5,1016.9 L1602,1020.5 L1602.4,1022 L1602.9,1017.7 L1603.3,1018.7 L1603.8,1021.9 L1604.3,1015.9 L1604.7,1013.1 L1605.2,1023.5 L1605.6,1020.4 L1606.1,1021.9 L1606.6,1016 L1607,1019.1 L1607.5,1021.9 L1607.9,1017.8 L1608.4,1013 L1608.9,1017.4 L1609.3,1013.1 L1609.8,1013.2 L1610.2,1022.5 L1610.7,1019.4 L1611.2,1018.9 L1611.6,1016.1 L1612.1,1018.4 L1612.5,1018.3 L1613,1018.2 L1613.5,1019.9 L1613.9,1020.2 L1614.4,1019.8 L1614.8,1022.7 L1615.3,1023 L1615.8,1020.9 L1616.2,1022.7 L1616.7,1018.5 L1617.1,1019.7 L1617.6,1016.7 L1618.1,1015.1 L1618.5,1021.8 L1619,1015 L1619.4,1024 L1619.9,1022 L1620.4,1014.9 L1620.8,1018.7 L1621.3,1015.3 L1621.7,1013.6 L1622.2,1018.8 L1622.7,1023.9 L1623.1,1015.8 L1623.6,1018.8 L1624,1020.7 L1624.5,1018.5 L1625,1013.9 L1625.4,1019.4 L1625.9,1020 L1626.3,1013 L1626.8,1020.9 L1627.3,1013.1 L1627.7,1016.6 L1628.2,1022.8 L1628.6,1019.6 L1629.1,1024.2 L1629.6,1014.4 L1630,1017.8 L1630.5,1019.9 L1630.9,1015.7 L1631.4,1013.1 L1631.9,1021.9 L1632.3,1020.6 L1632.8,1015.4 L1633.2,1019.1 L1633.7,1020.1 L1634.2,1015.1 L1634.6,1016.3 L1635.1,1017.2 L1635.5,1016.9 L1636,1014.4 L1636.5,1018.4 L1636.9,1014 L1637.4,1014.4 L1637.8,1012.5 L1638.3,1016.2 L1638.8,1022.8 L1639.2,1017.7 L1639.7,1015 L1640.1,1016.5 L1640.6,1017.6 L1641.1,1014.1 L1641.5,1013.1 L1642,1011.7 L1642.4,1019 L1642.9,1017.6 L1643.4,1011.4 L1643.8,1013.1 L1644.3,1017.2 L1644.7,1015.1 L1645.2,1018.3 L1645.7,1013.3 L1646.1,1016.9 L1646.6,1017.3 L1647,1018.4 L1647.5,1013.3 L1648,1021.6 L1648.4,1016.7 L1648.9,1013.8 L1649.3,1016.6 L1649.8,1016.1 L1650.3,1023 L1650.7,1021.1 L1651.2,1014.8 L1651.6,1016.9 L1652.1,1012 L1652.6,1019.5 L1653,1013.9 L1653.5,1019.5 L1653.9,1018.7 L1654.4,1017.7 L1654.9,1022.7 L1655.3,1017.4 L1655.8,1020.1 L1656.2,1018.3 L1656.7,1018.3 L1657.2,1017.2 L1657.6,1016.9 L1658.1,1016.6 L1658.5,1014.7 L1659,1017.6 L1659.5,1015.7 L1659.9,1016.8 L1660.4,1017.7 L1660.8,1016.1 L1661.3,1015.9 L1661.8,1015.9 L1662.2,1021.9 L1662.7,1017.1 L1663.1,1020.6 L1663.6,1017.9 L1664.1,1014.2 L1664.5,1018.7 L1665,1018.4 L1665.4,1015 L1665.9,1015.2 L1666.4,1022.4 L1666.8,1015 L1667.3,1017.3 L1667.7,1012 L1668.2,1019 L1668.7,1014.1 L1669.1,1018.2 L1669.6,1014.8 L1670,1013.8 L1670.5,1016.2 L1671,1016.7 L1671.4,1018.3 L1671.9,1014.3 L1672.3,1013.6 L1672.8,1020.3 L1673.3,1012.4 L1673.7,1020.7 L1674.2,1019.6 L1674.6,1019.4 L1675.1,1023.2 L1675.6,1015.4 L1676,1018 L1676.5,1019 L1676.9,1020.6 L1677.4,1013.7 L1677.9,1018.2 L1678.3,1019.2 L1678.8,1023 L1679.2,1021.9 L1679.7,1017.5 L1680.2,1017.1 L1680.6,1016.7 L1681.1,1023 L1681.5,1013.8 L1682,1016.7 L1682.5,1021.4 L1682.9,1017.9 L1683.4,1017 L1683.8,1013.1 L1684.3,1022.9 L1684.8,1014.1 L1685.2,1015.6 L1685.7,1019.4 L1686.1,1020 L1686.6,1017.7 L1687.1,1013 L1687.5,1013 L1688,1011.3 L1688.4,1016.4 L1688.9,1021.2 L1689.4,1018.7 L1689.8,1015.9 L1690.3,1016.4 L1690.7,1013.8 L1691.2,1013.3 L1691.7,1014.8 L1692.1,1017.4 L1692.6,1017.2 L1693,1018.2 L1693.5,1020.7 L1694,1010 L1694.4,1013.7 L1694.9,1012.2 L1695.3,1018.3 L1695.8,1017.2 L1696.3,1015.9 L1696.7,1014.3 L1697.2,1017.1 L1697.6,1014 L1698.1,1009.3 L1698.6,1011.6 L1699,1012.7 L1699.5,1017.5 L1699.9,1016.1 L1700.4,1017.5 L1700.9,1014.8 L1701.3,1012.2 L1701.8,1015.4 L1702.2,1019.1 L1702.7,1010.1 L1703.2,1012.8 L1703.6,1012.3 L1704.1,1009.8 L1704.5,1010.7 L1705,1015.6 L1705.5,1011.5 L1705.9,1019 L1706.4,1016.2 L1706.8,1018.9 L1707.3,1010.1 L1707.8,1014 L1708.2,1008.3 L1708.7,1015 L1709.1,1011.5 L1709.6,1018.7 L1710.1,1012.1 L1710.5,1016.3 L1711,1016.6 L1711.4,1012.6 L1711.9,1015.9 L1712.4,1018.2 L1712.8,1009.3 L1713.3,1010.9 L1713.7,1012.5 L1714.2,1015.2 L1714.7,1009.6 L1715.1,1009.8 L1715.6,1011.7 L1716,1011.5 L1716.5,1013.4 L1717,1014.2 L1717.4,1011.9 L1717.9,1012.5 L1718.3,1009 L1718.8,1012.3 L1719.3,1010.8 L1719.7,1009.5 L1720.2,1012.1 L1720.6,1010.6 L1721.1,1008.6 L1721.6,1007.8 L1722,1007.3 L1722.5,1005.2 L1722.9,1007 L1723.4,1005.7 L1723.9,1007.2 L1724.3,1007.6 L1724.8,1008.8 L1725.2,1000.5 L1725.7,1005.1 L1726.2,1003.2 L1726.6,999.4 L1727.1,1003.6 L1727.5,996.3 L1728,1003 L1728.5,1000.8 L1728.9,1001.8 L1729.4,998.6 L1729.8,997.9 L1730.3,997.2 L1730.8,988.7 L1731.2,987.4 L1731.7,992.4 L1732.1,990.2 L1732.6,986.9 L1733.1,992.7 L1733.5,986.7 L1734,987.9 L1734.4,988.1 L1734.9,982.3 L1735.4,980.8 L1735.8,975.5 L1736.3,973 L1736.7,978.2 L1737.2,970.9 L1737.7,967.4 L1738.1,971.9 L1738.6,964.8 L1739,963.4 L1739.5,961.1 L1740,960 L1740.4,960.9 L1740.9,950.8 L1741.3,953.5 L1741.8,954.9 L1742.3,950.2 L1742.7,945.4 L1743.2,948.2 L1743.6,946.3 L1744.1,943.2 L1744.6,944.3 L1745,941.1 L1745.5,943.5 L1745.9,935.9 L1746.4,933.5 L1746.9,937.3 L1747.3,936.2 L1747.8,940.1 L1748.2,937.1 L1748.7,933.3 L1749.2,933.5 L1749.6,941.6 L1750.1,938.8 L1750.5,938.2 L1751,934.6 L1751.5,937.2 L1751.9,936.4 L1752.4,946.1 L1752.8,946.5 L1753.3,939.9 L1753.8,941.5 L1754.2,951.9 L1754.7,953.3 L1755.1,946.9 L1755.6,955.9 L1756.1,956.7 L1756.5,960 L1757,961.5 L1757.4,963.3 L1757.9,958.9 L1758.4,967.1 L1758.8,970.3 L1759.3,972.9 L1759.7,974.7 L1760.2,974.9 L1760.7,976.9 L1761.1,978 L1761.6,976.3 L1762,985 L1762.5,988.3 L1763,990 L1763.4,982.5 L1763.9,984.8 L1764.3,988.6 L1764.8,992.5 L1765.3,990.7 L1765.7,991.9 L1766.2,990.7 L1766.6,1000.3 L1767.1,993 L1767.6,998.7 L1768,1000.1 L1768.5,1003 L1768.9,1002.3 L1769.4,1006.2 L1769.9,1005.4 L1770.3,1003.2 L1770.8,1010.2 L1771.2,1009.3 L1771.7,1005.6 L1772.2,1008.6 L1772.6,1007 L1773.1,1009 L1773.5,1004.4 L1774,1004 L1774.5,1008.4 L1774.9,1010.1 L1775.4,1009.9 L1775.8,1012.1 L1776.3,1011.9 L1776.8,1007.9 L1777.2,1009.7 L1777.7,1013.6 L1778.1,1009.9 L1778.6,1010 L1779.1,1012.9 L1779.5,1009 L1780,1011.5 L1780.4,1011.8 L1780.9,1012.4 L1781.4,1016.5 L1781.8,1011 L1782.3,1012.7 L1782.7,1009.6 L1783.2,1014.8 L1783.7,1017.1 L1784.1,1014.1 L1784.6,1014.9 L1785,1008.8 L1785.5,1013.2 L1786,1018 L1786.4,1008.9 L1786.9,1013 L1787.3,1014.7 L1787.8,1015.6 L1788.3,1015.2 L1788.7,1009.5 L1789.2,1012.4 L1789.6,1015.9 L1790.1,1016.1 L1790.6,1015.6 L1791,1013.8 L1791.5,1016.7 L1791.9,1018.1 L1792.4,1014.1 L1792.9,1013.6 L1793.3,1021.3 L1793.8,1018 L1794.2,1010.6 L1794.7,1018.3 L1795.2,1019.6 L1795.6,1021.7 L1796.1,1016.2 L1796.5,1012.5 L1797,1021.8 L1797.5,1019.2 L1797.9,1021.8 L1798.4,1010.9 L1798.8,1012.4 L1799.3,1013 L1799.8,1018 L1800.2,1015.7 L1800.7,1012.2 L1801.1,1014.9 L1801.6,1021.8 L1802.1,1011.9 L1802.5,1020.5 L1803,1015.9 L1803.4,1013.3 L1803.9,1014.5 L1804.4,1018.1 L1804.8,1013.1 L1805.3,1018 L1805.7,1015.8 L1806.2,1012.4 L1806.7,1017.1 L1807.1,1014 L1807.6,1014.4 L1808,1011.7 L1808.5,1016.6 L1809,1020.5 L1809.4,1019.2 L1809.9,1011.9 L1810.3,1014.6 L1810.8,1020.6 L1811.3,1018.5 L1811.7,1017.8 L1812.2,1015.5 L1812.6,1013.4 L1813.1,1014.3 L1813.6,1013.3 L1814,1015.4 L1814.5,1023 L1814.9,1015.5 L1815.4,1017.5 L1815.9,1017 L1816.3,1016.8 L1816.8,1018.1 L1817.2,1020.3 L1817.7,1023.2 L1818.2,1015.3 L1818.6,1018.6 L1819.1,1021 L1819.5,1018.8 L1820,1022.6 L1820.5,1018.2 L1820.9,1016.5 L1821.4,1016.2 L1821.8,1015.5 L1822.3,1021.2 L1822.8,1018 L1823.2,1015.7 L1823.7,1020.2 L1824.1,1013.6 L1824.6,1012.8 L1825.1,1014.8 L1825.5,1018.2 L1826,1016.9 L1826.4,1021.8 L1826.9,1018.7 L1827.4,1017.2 L1827.8,1020.1 L1828.3,1016.8 L1828.7,1016.9 L1829.2,1021.7 L1829.7,1013.4 L1830.1,1011.9 L1830.6,1017.8 L1831,1019.6 L1831.5,1013.9 L1832,1017.3 L1832.4,1016.9 L1832.9,1022.1 L1833.3,1011 L1833.8,1019.5 L1834.3,1014.9 L1834.7,1016.1 L1835.2,1018.1 L1835.6,1016.2 L1836.1,1013 L1836.6,1013 L1837,1010.8 L1837.5,1016.3 L1837.9,1015.6 L1838.4,1011.5 L1838.9,1022 L1839.3,1018.4 L1839.8,1013.9 L1840.2,1015.3 L1840.7,1016.1 L1841.2,1013.5 L1841.6,1011.6 L1842.1,1018.4 L1842.5,1017.4 L1843,1017.9 L1843.5,1021.3 L1843.9,1018.5 L1844.4,1018.2 L1844.8,1016.1 L1845.3,1020.1 L1845.8,1022 L1846.2,1016.1 L1846.7,1019.6 L1847.1,1018.6 L1847.6,1019.3 L1848.1,1014.2 L1848.5,1016.8 L1849,1019.2 L1849.4,1016.5 L1849.9,1016.1 L1850.4,1015.3 L1850.8,1016 L1851.3,1013.1 L1851.7,1015.1 L1852.2,1021.5 L1852.7,1016.6 L1853.1,1016.1 L1853.6,1012.9 L1854,1014.3 L1854.5,1018 L1855,1012 L1855.4,1015.9 L1855.9,1014.4 L1856.3,1021.1 L1856.8,1013.6 L1857.3,1023.1 L1857.7,1012.1 L1858.2,1015.5 L1858.6,1016 L1859.1,1018.1 L1859.6,1013.9 L1860,1015.9 L1860.5,1019.6 L1860.9,1012 L1861.4,1020.9 L1861.9,1016 L1862.3,1017.6 L1862.8,1013.2 L1863.2,1017.4 L1863.7,1018.2 L1864.2,1018.9 L1864.6,1019.4 L1865.1,1018 L1865.5,1022.4 L1866,1020.7 L1866.5,1019 L1866.9,1015.8 L1867.4,1020.9 L1867.8,1021.2 L1868.3,1015.5 L1868.8,1022.1 L1869.2,1018" fill="none" stroke="#ff0000" stroke-width="9.9" stroke-linejoin="round" stroke-linecap="round"/><path d="M357.1,971.7 V1036.9 H1874.1 V1018 H1864.6 V1028.3 H366.6 V971.7 Z" fill="#ff0000"/>
<path d="M231.3,1165.7 L231.3,1082.2 L231.8,1082.1 L232.2,1082 L232.7,1081.8 L233.1,1081.5 L233.6,1081.2 L234.1,1081 L234.5,1080.7 L235,1080.5 L235.4,1080.3 L235.9,1080.3 L236.4,1080.4 L236.8,1080.7 L237.3,1081.1 L237.7,1081.7 L238.2,1082.4 L238.7,1083.1 L239.1,1083.9 L239.6,1084.7 L240,1085.4 L240.5,1086.2 L241,1086.8 L241.4,1087.5 L241.9,1088 L242.3,1088.5 L242.8,1089 L243.3,1089.4 L243.7,1089.8 L244.2,1090.2 L244.6,1090.5 L245.1,1090.7 L245.6,1090.8 L246,1090.9 L246.5,1091 L246.9,1091.1 L247.4,1091.2 L247.9,1091.3 L248.3,1091.3 L248.8,1091.4 L249.2,1091.5 L249.7,1091.5 L250.2,1091.6 L250.6,1091.7 L251.1,1091.8 L251.5,1091.8 L252,1091.9 L252.5,1092 L252.9,1092 L253.4,1092.1 L253.8,1092.2 L254.3,1092.2 L254.8,1092.3 L255.2,1092.4 L255.7,1092.4 L256.1,1092.5 L256.6,1092.6 L257.1,1092.6 L257.5,1092.7 L258,1092.8 L258.4,1092.8 L258.9,1092.9 L259.4,1093 L259.8,1093 L260.3,1093.1 L260.7,1093.2 L261.2,1093.2 L261.7,1093.3 L262.1,1093.4 L262.6,1093.4 L263,1093.5 L263.5,1093.6 L264,1093.6 L264.4,1093.7 L264.9,1093.8 L265.3,1093.8 L265.8,1093.9 L266.3,1094 L266.7,1094 L267.2,1094.1 L267.6,1094.2 L268.1,1094.2 L268.6,1094.3 L269,1094.4 L269.5,1094.4 L269.9,1094.5 L270.4,1094.6 L270.9,1094.6 L271.3,1094.7 L271.8,1094.8 L272.2,1094.8 L272.7,1094.9 L273.2,1095 L273.6,1095 L274.1,1095.1 L274.5,1095.2 L275,1095.2 L275.5,1095.3 L275.9,1095.4 L276.4,1095.5 L276.8,1095.5 L277.3,1095.6 L277.8,1095.7 L278.2,1095.7 L278.7,1095.8 L279.1,1095.9 L279.6,1095.9 L280.1,1096 L280.5,1096.1 L281,1096.2 L281.4,1096.2 L285.1,1096.8 L289.3,1097.4 L293.4,1098 L297.5,1098.6 L301.7,1099.3 L305.8,1099.9 L310,1100.5 L314.1,1101.1 L318.2,1101.8 L322.4,1102.4 L326.5,1103 L330.7,1103.7 L334.8,1104.3 L338.9,1104.9 L343.1,1105.6 L347.2,1106.3 L351.4,1107 L355.5,1107.7 L359.6,1108.5 L363.8,1109.2 L367.9,1109.9 L372.1,1110.5 L376.2,1110.9 L380.3,1111.4 L384.5,1111.9 L388.6,1112.3 L392.8,1112.8 L396.9,1113.3 L401,1113.7 L403.8,1114 L404.3,1114.1 L404.7,1114.2 L405.2,1114.2 L405.6,1114.3 L406.1,1114.3 L406.6,1114.4 L407,1114.4 L407.5,1114.5 L407.9,1114.5 L408.4,1114.6 L408.9,1114.6 L409.3,1114.7 L409.8,1114.7 L410.2,1114.8 L410.7,1114.9 L411.2,1114.9 L411.6,1115 L412.1,1115 L412.5,1115.1 L413,1115.1 L413.5,1115.2 L413.9,1115.2 L414.4,1115.3 L414.8,1115.3 L415.3,1115.4 L415.8,1115.4 L416.2,1115.5 L416.7,1115.5 L417.1,1115.6 L417.6,1115.6 L418.1,1115.7 L418.5,1115.8 L419,1115.8 L419.4,1115.9 L419.9,1115.9 L420.4,1116 L420.8,1116 L421.3,1116.1 L421.7,1116.1 L422.2,1116.2 L422.7,1116.2 L423.1,1116.3 L423.6,1116.3 L424,1116.4 L424.5,1116.4 L425,1116.5 L425.4,1116.5 L425.9,1116.6 L426.3,1116.6 L426.8,1116.7 L427.3,1116.7 L427.7,1116.8 L428.2,1116.8 L428.6,1116.8 L429.1,1116.9 L429.6,1116.9 L430,1116.9 L430.5,1117 L430.9,1117 L431.4,1117 L431.9,1117 L432.3,1117.1 L432.8,1117.1 L433.2,1117.1 L433.7,1117.1 L434.2,1117.2 L434.6,1117.2 L435.1,1117.2 L435.5,1117.2 L436,1117.2 L436.5,1117.2 L436.9,1117.3 L437.4,1117.3 L437.8,1117.3 L438.3,1117.2 L438.8,1117.2 L439.2,1117.2 L439.7,1117.1 L440.1,1117 L440.6,1116.9 L441.1,1116.7 L441.5,1116.4 L442,1116.1 L442.4,1115.6 L442.9,1115.1 L443.4,1114.3 L443.8,1113.5 L444.3,1112.5 L444.7,1111.3 L445.2,1110.1 L445.7,1108.7 L446.1,1107.3 L446.6,1106 L447,1104.7 L447.5,1103.7 L448,1103 L448.4,1102.6 L448.9,1102.7 L449.3,1103.2 L449.8,1104.1 L450.3,1105.3 L450.7,1106.6 L451.2,1108 L451.6,1109.5 L452.1,1110.9 L452.6,1112.2 L453,1113.4 L453.5,1114.5 L453.9,1115.4 L454.4,1116.2 L454.9,1116.8 L455.3,1117.3 L455.8,1117.7 L456.2,1118 L456.7,1118.3 L457.2,1118.5 L457.6,1118.6 L458.1,1118.8 L458.5,1118.9 L459,1119 L459.5,1119.1 L459.9,1119.1 L460.4,1119.2 L460.8,1119.3 L461.3,1119.3 L461.8,1119.4 L462.2,1119.5 L462.7,1119.5 L463.1,1119.6 L463.6,1119.6 L464.1,1119.7 L464.5,1119.7 L465,1119.8 L465.4,1119.8 L465.9,1119.9 L466.4,1119.9 L466.8,1120 L467.3,1120 L467.7,1120.1 L468.2,1120.1 L468.7,1120.1 L469.1,1120.2 L469.6,1120.2 L470,1120.3 L470.5,1120.3 L471,1120.4 L471.4,1120.4 L471.9,1120.5 L472.3,1120.5 L472.8,1120.5 L473.3,1120.6 L473.7,1120.6 L474.2,1120.7 L474.6,1120.7 L475.1,1120.7 L475.6,1120.8 L476,1120.8 L476.5,1120.9 L476.9,1120.9 L477.4,1120.9 L477.9,1121 L478.3,1121 L478.8,1121.1 L479.2,1121.1 L479.7,1121.1 L480.2,1121.2 L480.6,1121.2 L481.1,1121.3 L481.5,1121.3 L482,1121.4 L482.5,1121.4 L482.9,1121.4 L483.4,1121.5 L483.8,1121.5 L484.3,1121.5 L484.8,1121.6 L485.2,1121.6 L485.7,1121.7 L486.1,1121.7 L486.6,1121.7 L487.1,1121.8 L487.5,1121.8 L488,1121.9 L488.4,1121.9 L488.9,1121.9 L489.4,1122 L489.8,1122 L490.3,1122.1 L490.7,1122.1 L491.2,1122.1 L491.7,1122.2 L492.1,1122.2 L492.6,1122.3 L493,1122.3 L493.5,1122.3 L496.3,1122.6 L500.4,1122.9 L504.5,1123.3 L508.7,1123.6 L512.8,1124 L517,1124.3 L521.1,1124.6 L525.2,1124.8 L529.4,1125 L533.5,1125.2 L537.7,1125.4 L541.8,1125.6 L545.9,1125.8 L550.1,1126 L554.2,1126.2 L558.4,1126.4 L562.5,1126.5 L566.6,1126.7 L570.8,1126.9 L574.9,1127 L579.1,1127.2 L583.2,1127.4 L587.3,1127.5 L591.5,1127.7 L595.6,1127.9 L599.8,1128.2 L603.9,1128.5 L608,1128.7 L612.2,1129 L616.3,1129.3 L616.8,1129.3 L617.2,1129.3 L617.7,1129.4 L618.2,1129.4 L618.6,1129.4 L619.1,1129.5 L619.5,1129.5 L620,1129.5 L620.5,1129.6 L620.9,1129.6 L621.4,1129.6 L621.8,1129.6 L622.3,1129.7 L622.8,1129.7 L623.2,1129.7 L623.7,1129.8 L624.1,1129.8 L624.6,1129.8 L625.1,1129.8 L625.5,1129.9 L626,1129.9 L626.4,1129.9 L626.9,1130 L627.4,1130 L627.8,1130 L628.3,1130.1 L628.7,1130.1 L629.2,1130.1 L629.7,1130.1 L630.1,1130.1 L630.6,1130.1 L631,1130.1 L631.5,1130.1 L632,1130.1 L632.4,1130.1 L632.9,1130.1 L633.3,1130.1 L633.8,1130.1 L634.3,1130.1 L634.7,1130.1 L635.2,1130.1 L635.6,1130.1 L636.1,1130.2 L636.6,1130.2 L637,1130.2 L637.5,1130.2 L637.9,1130.2 L638.4,1130.2 L638.9,1130.2 L639.3,1130.2 L639.8,1130.2 L640.2,1130.2 L640.7,1130.2 L641.2,1130.2 L641.6,1130.2 L642.1,1130.2 L642.5,1130.2 L643,1130.2 L643.5,1130.2 L643.9,1130.2 L644.4,1130.2 L644.8,1130.2 L645.3,1130.2 L645.8,1130.2 L646.2,1130.2 L646.7,1130.1 L647.1,1130.1 L647.6,1130.1 L648.1,1130.1 L648.5,1130.1 L649,1130.1 L649.4,1130.1 L649.9,1130 L650.4,1130 L650.8,1130 L651.3,1129.9 L651.7,1129.9 L652.2,1129.8 L652.7,1129.7 L653.1,1129.6 L653.6,1129.5 L654,1129.2 L654.5,1128.9 L655,1128.5 L655.4,1128 L655.9,1127.2 L656.3,1126.2 L656.8,1125 L657.3,1123.4 L657.7,1121.5 L658.2,1119.3 L658.6,1116.9 L659.1,1114.3 L659.6,1111.7 L660,1109.4 L660.5,1107.4 L660.9,1106.2 L661.4,1105.7 L661.9,1106.2 L662.3,1107.5 L662.8,1109.4 L663.2,1111.8 L663.7,1114.4 L664.2,1117 L664.6,1119.4 L665.1,1121.6 L665.5,1123.5 L666,1125.1 L666.5,1126.4 L666.9,1127.4 L667.4,1128.2 L667.8,1128.8 L668.3,1129.2 L668.8,1129.5 L669.2,1129.7 L669.7,1129.9 L670.1,1130 L670.6,1130.1 L671.1,1130.2 L671.5,1130.3 L672,1130.3 L672.4,1130.4 L672.9,1130.4 L673.4,1130.5 L673.8,1130.5 L674.3,1130.6 L674.7,1130.6 L675.2,1130.6 L675.7,1130.6 L676.1,1130.7 L676.6,1130.7 L677,1130.7 L677.5,1130.7 L678,1130.8 L678.4,1130.8 L678.9,1130.8 L679.3,1130.8 L679.8,1130.8 L680.3,1130.9 L680.7,1130.9 L681.2,1130.9 L681.6,1130.9 L682.1,1130.9 L682.6,1130.9 L683,1131 L683.5,1131 L683.9,1131 L684.4,1131 L684.9,1131 L685.3,1131 L685.8,1131 L686.2,1131 L686.7,1131.1 L687.2,1131.1 L687.6,1131.1 L688.1,1131.1 L688.5,1131.1 L689,1131.1 L689.5,1131.1 L689.9,1131.1 L690.4,1131.1 L690.8,1131.2 L691.3,1131.2 L691.8,1131.2 L692.2,1131.2 L692.7,1131.2 L693.1,1131.2 L693.6,1131.2 L694.1,1131.2 L694.5,1131.2 L695,1131.2 L695.4,1131.2 L695.9,1131.2 L696.4,1131.3 L696.8,1131.3 L697.3,1131.3 L697.7,1131.3 L698.2,1131.3 L698.7,1131.3 L699.1,1131.3 L699.6,1131.3 L700,1131.3 L700.5,1131.3 L701,1131.3 L701.4,1131.3 L701.9,1131.4 L702.3,1131.4 L702.8,1131.4 L703.3,1131.4 L703.7,1131.4 L704.2,1131.4 L704.6,1131.4 L705.1,1131.4 L705.6,1131.4 L706,1131.4 L707.4,1131.4 L711.5,1131.5 L715.7,1131.6 L719.8,1131.6 L724,1131.7 L728.1,1131.8 L732.2,1132.4 L736.4,1133 L740.5,1133.6 L744.7,1134.1 L748.8,1134.3 L752.9,1134.3 L757.1,1134.4 L761.2,1134.5 L765.4,1134.5 L769.5,1134.6 L773.6,1134.7 L777.8,1134.7 L781.9,1134.8 L786.1,1134.9 L790.2,1134.9 L794.3,1134.9 L798.5,1134.7 L802.6,1134.5 L806.8,1134.3 L810.9,1134.1 L815,1133.8 L819.2,1133.5 L823.3,1133.2 L827.5,1132.8 L831.6,1132.5 L835.7,1132.1 L839.9,1131.6 L844,1130.9 L848.2,1130.1 L852.3,1129.1 L854.6,1128.5 L855.1,1128.4 L855.5,1128.2 L856,1128.1 L856.4,1128 L856.9,1127.8 L857.4,1127.7 L857.8,1127.6 L858.3,1127.4 L858.7,1127.3 L859.2,1127.1 L859.7,1127 L860.1,1126.8 L860.6,1126.6 L861,1126.4 L861.5,1126.1 L862,1125.8 L862.4,1125.4 L862.9,1125.1 L863.3,1124.6 L863.8,1124.2 L864.3,1123.7 L864.7,1123.2 L865.2,1122.7 L865.6,1122.1 L866.1,1121.5 L866.6,1120.9 L867,1120.2 L867.5,1119.5 L867.9,1118.8 L868.4,1118 L868.9,1117.2 L869.3,1116.4 L869.8,1115.6 L870.2,1114.7 L870.7,1113.8 L871.2,1112.8 L871.6,1111.9 L872.1,1110.9 L872.5,1109.9 L873,1108.8 L873.5,1107.7 L873.9,1106.6 L874.4,1105.2 L874.8,1103.6 L875.3,1101.7 L875.8,1099.6 L876.2,1097.3 L876.7,1094.9 L877.1,1092.4 L877.6,1089.8 L878.1,1087.1 L878.5,1084.4 L879,1081.7 L879.4,1078.8 L879.9,1075.6 L880.4,1072.3 L880.8,1068.7 L881.3,1065.2 L881.7,1061.5 L882.2,1057.9 L882.7,1054.5 L883.1,1051.3 L883.6,1048.3 L884,1045.1 L884.5,1041.6 L885,1037.4 L885.4,1032.3 L885.9,1025.5 L886.3,1016.1 L886.8,1004.4 L887.3,990.9 L887.7,975.8 L888.2,959.5 L888.6,942.3 L889.1,924.5 L889.6,905 L890,883.5 L890.5,860 L890.9,834.3 L891.4,806.4 L891.9,776.3 L892.3,743.7 L892.8,708.7 L893.2,670.9 L893.7,618.9 L894.2,574.9 L894.6,539.7 L895.1,516.2 L895.5,493.6 L896,465.7 L896.5,437.9 L896.9,415 L897.4,394.2 L897.8,375.6 L898.3,359.8 L898.8,347.1 L899.2,336 L899.7,333.6 L900.1,344.6 L900.6,356.8 L901.1,372 L901.5,390.1 L902,410.5 L902.4,432.8 L902.9,459.6 L903.4,488.1 L903.8,511.9 L904.3,534.2 L904.7,566.5 L905.2,609.2 L905.7,660.9 L906.1,701.2 L906.6,736.8 L907,769.9 L907.5,800.6 L908,829 L908.4,855.2 L908.9,879.2 L909.3,901.2 L909.8,921.1 L910.3,939.2 L910.7,956.6 L911.2,973.1 L911.6,988.6 L912.1,1002.5 L912.6,1014.6 L913,1024.5 L913.5,1031.9 L913.9,1037.3 L914.4,1041.7 L914.9,1045.4 L915.3,1048.7 L915.8,1051.7 L916.2,1054.9 L916.7,1058.3 L917.2,1061.9 L917.6,1065.6 L918.1,1069.2 L918.5,1072.7 L919,1076.2 L919.5,1079.4 L919.9,1082.4 L920.4,1085.2 L920.8,1087.9 L921.3,1090.7 L921.8,1093.3 L922.2,1095.9 L922.7,1098.3 L923.1,1100.7 L923.6,1102.8 L924.1,1104.8 L924.5,1106.5 L925,1108 L925.4,1109.2 L925.9,1110.3 L926.4,1111.4 L926.8,1112.4 L927.3,1113.5 L927.7,1114.5 L928.2,1115.4 L928.7,1116.4 L929.1,1117.3 L929.6,1118.2 L930,1119 L930.5,1119.9 L931,1120.7 L931.4,1121.4 L931.9,1122.2 L932.3,1122.9 L932.8,1123.5 L933.3,1124.2 L933.7,1124.8 L934.2,1125.4 L934.6,1125.9 L935.1,1126.4 L935.6,1126.9 L936,1127.3 L936.5,1127.7 L936.9,1128.1 L937.4,1128.5 L937.9,1128.8 L938.3,1129.1 L938.8,1129.3 L939.2,1129.5 L939.7,1129.7 L940.2,1129.9 L940.6,1130 L941.1,1130.2 L941.5,1130.4 L942,1130.5 L942.5,1130.7 L942.9,1130.9 L943.4,1131 L943.8,1131.2 L944.3,1131.3 L947.5,1132.4 L951.7,1133.5 L955.8,1134.7 L959.9,1135.8 L964.1,1136.7 L968.2,1137.5 L972.4,1138.1 L976.5,1138.7 L980.6,1138.8 L984.8,1138.9 L988.9,1138.9 L993.1,1138.9 L997.2,1138.8 L1001.3,1138.6 L1005.5,1138.3 L1009.6,1138 L1013.8,1137.6 L1017.9,1137 L1022,1136.2 L1023.4,1135.9 L1023.9,1135.7 L1024.3,1135.6 L1024.8,1135.5 L1025.3,1135.4 L1025.7,1135.3 L1026.2,1135.1 L1026.6,1135 L1027.1,1134.8 L1027.6,1134.7 L1028,1134.5 L1028.5,1134.4 L1028.9,1134.2 L1029.4,1134 L1029.9,1133.9 L1030.3,1133.7 L1030.8,1133.5 L1031.2,1133.3 L1031.7,1133.1 L1032.2,1132.9 L1032.6,1132.7 L1033.1,1132.4 L1033.5,1132.2 L1034,1132 L1034.5,1131.7 L1034.9,1131.4 L1035.4,1131.1 L1035.8,1130.8 L1036.3,1130.5 L1036.8,1130.2 L1037.2,1129.9 L1037.7,1129.5 L1038.1,1129.1 L1038.6,1128.7 L1039.1,1128.3 L1039.5,1127.9 L1040,1127.4 L1040.4,1126.9 L1040.9,1126.3 L1041.4,1125.8 L1041.8,1125.2 L1042.3,1124.5 L1042.7,1123.8 L1043.2,1123 L1043.7,1122.2 L1044.1,1121.3 L1044.6,1120.4 L1045,1119.4 L1045.5,1118.3 L1046,1117.1 L1046.4,1115.8 L1046.9,1114.4 L1047.3,1112.9 L1047.8,1111.2 L1048.3,1109.4 L1048.7,1107.5 L1049.2,1105.4 L1049.6,1103.2 L1050.1,1100.7 L1050.6,1098.1 L1051,1095.3 L1051.5,1092.3 L1051.9,1089 L1052.4,1085.6 L1052.9,1081.9 L1053.3,1077.9 L1053.8,1073.7 L1054.2,1069.2 L1054.7,1064.5 L1055.2,1059.5 L1055.6,1054.2 L1056.1,1048.6 L1056.5,1042.8 L1057,1036.7 L1057.5,1030.4 L1057.9,1023.8 L1058.4,1017 L1058.8,1010 L1059.3,1002.8 L1059.8,995.4 L1060.2,987.9 L1060.7,980.3 L1061.1,972.6 L1061.6,964.9 L1062.1,957.3 L1062.5,949.7 L1063,942.3 L1063.4,935.2 L1063.9,928.4 L1064.4,922 L1064.8,916.1 L1065.3,910.7 L1065.7,906.1 L1066.2,902.1 L1066.7,899 L1067.1,896.8 L1067.6,895.4 L1068,895 L1068.5,895.6 L1069,897.1 L1069.4,899.5 L1069.9,902.8 L1070.3,906.8 L1070.8,911.6 L1071.3,917.1 L1071.7,923.1 L1072.2,929.6 L1072.6,936.4 L1073.1,943.6 L1073.6,951 L1074,958.6 L1074.5,966.3 L1074.9,974 L1075.4,981.6 L1075.9,989.3 L1076.3,996.8 L1076.8,1004.1 L1077.2,1011.3 L1077.7,1018.3 L1078.2,1025.1 L1078.6,1031.6 L1079.1,1037.9 L1079.5,1044 L1080,1049.8 L1080.5,1055.3 L1080.9,1060.5 L1081.4,1065.5 L1081.8,1070.2 L1082.3,1074.6 L1082.8,1078.8 L1083.2,1082.8 L1083.7,1086.4 L1084.1,1089.9 L1084.6,1093.1 L1085.1,1096.1 L1085.5,1098.9 L1086,1101.5 L1086.4,1103.9 L1086.9,1106.2 L1087.4,1108.2 L1087.8,1110.1 L1088.3,1111.9 L1088.7,1113.5 L1089.2,1115.1 L1089.7,1116.4 L1090.1,1117.7 L1090.6,1118.9 L1091,1120 L1091.5,1121.1 L1092,1122 L1092.4,1122.9 L1092.9,1123.7 L1093.3,1124.5 L1093.8,1125.2 L1094.3,1125.8 L1094.7,1126.4 L1095.2,1127 L1095.6,1127.6 L1096.1,1128.1 L1096.6,1128.6 L1097,1129 L1097.5,1129.4 L1097.9,1129.9 L1098.4,1130.2 L1098.9,1130.6 L1099.3,1131 L1099.8,1131.3 L1100.2,1131.6 L1100.7,1131.9 L1101.2,1132.2 L1101.6,1132.5 L1102.1,1132.8 L1102.5,1133 L1103,1133.3 L1103.5,1133.5 L1103.9,1133.7 L1104.4,1134 L1104.8,1134.2 L1105.3,1134.4 L1105.8,1134.6 L1106.2,1134.8 L1106.7,1135 L1107.1,1135.1 L1107.6,1135.3 L1108.1,1135.5 L1108.5,1135.6 L1109,1135.8 L1109.4,1136 L1109.9,1136.1 L1110.4,1136.3 L1110.8,1136.4 L1111.3,1136.5 L1111.7,1136.7 L1112.2,1136.8 L1112.7,1136.9 L1113.1,1137 L1117.3,1138 L1121.4,1138.7 L1125.5,1139.3 L1129.7,1139.7 L1133.8,1140.1 L1138,1140.4 L1142.1,1140.6 L1146.2,1140.9 L1150.4,1141 L1154.5,1141.2 L1158.7,1141.3 L1162.8,1141.4 L1166.9,1141.6 L1171.1,1141.7 L1175.2,1141.9 L1179.4,1142 L1183.5,1142.1 L1187.6,1142.2 L1191.8,1142.3 L1195.9,1142.5 L1200.1,1142.5 L1204.2,1142.6 L1208.3,1142.8 L1212.5,1142.9 L1216.6,1143 L1220.8,1143.1 L1224.9,1143.2 L1229,1143.3 L1233.2,1143.4 L1237.3,1143.5 L1241.5,1143.5 L1245.6,1143.6 L1249.7,1143.7 L1253.9,1143.8 L1258,1143.8 L1262.2,1143.9 L1266.3,1143.9 L1270.4,1144 L1274.6,1144 L1278.7,1144 L1282.9,1144.1 L1287,1144.1 L1291.1,1144.1 L1295.3,1144.2 L1299.4,1144.2 L1303.6,1144.2 L1307.7,1144.3 L1311.8,1144.3 L1316,1144.4 L1320.1,1144.5 L1324.3,1144.5 L1328.4,1144.6 L1332.5,1144.7 L1336.7,1144.7 L1340.8,1144.8 L1345,1144.9 L1349.1,1144.9 L1353.2,1145 L1357.4,1145 L1361.5,1145.1 L1365.7,1145.1 L1369.8,1145.2 L1373.9,1145.2 L1378.1,1145.2 L1382.2,1145.3 L1386.4,1145.3 L1390.5,1145.3 L1394.6,1145.4 L1398.8,1145.4 L1402.9,1145.4 L1407.1,1145.5 L1411.2,1145.6 L1415.3,1145.8 L1419.5,1146 L1423.6,1146 L1427.8,1146.1 L1431.9,1146.1 L1436,1146.1 L1440.2,1146.2 L1444.3,1146.2 L1448.5,1146.3 L1452.6,1146.3 L1456.7,1146.4 L1460.9,1146.4 L1465,1146.5 L1469.2,1146.5 L1473.3,1146.6 L1477.4,1146.6 L1481.6,1146.6 L1485.7,1146.6 L1489.9,1146.7 L1494,1146.7 L1498.1,1146.7 L1502.3,1146.7 L1506.4,1146.7 L1510.6,1146.8 L1514.7,1146.8 L1518.8,1146.8 L1523,1146.8 L1527.1,1146.8 L1531.3,1146.8 L1535.4,1146.7 L1539.5,1146.7 L1543.7,1146.6 L1547.8,1146.6 L1552,1146.5 L1556.1,1146.5 L1560.2,1146.4 L1564.4,1146.3 L1568.5,1146.2 L1572.7,1146 L1576.8,1145.8 L1578.6,1145.7 L1579.1,1145.7 L1579.6,1145.6 L1580,1145.6 L1580.5,1145.6 L1580.9,1145.6 L1581.4,1145.5 L1581.9,1145.5 L1582.3,1145.4 L1582.8,1145.4 L1583.2,1145.4 L1583.7,1145.3 L1584.2,1145.3 L1584.6,1145.2 L1585.1,1145.2 L1585.5,1145.2 L1586,1145.1 L1586.5,1145.1 L1586.9,1145 L1587.4,1144.9 L1587.8,1144.9 L1588.3,1144.8 L1588.8,1144.8 L1589.2,1144.7 L1589.7,1144.6 L1590.1,1144.5 L1590.6,1144.4 L1591.1,1144.4 L1591.5,1144.3 L1592,1144.2 L1592.4,1144.1 L1592.9,1143.9 L1593.4,1143.8 L1593.8,1143.7 L1594.3,1143.6 L1594.7,1143.4 L1595.2,1143.3 L1595.7,1143.1 L1596.1,1142.9 L1596.6,1142.7 L1597,1142.5 L1597.5,1142.3 L1598,1142.1 L1598.4,1141.9 L1598.9,1141.6 L1599.3,1141.4 L1599.8,1141.1 L1600.3,1140.8 L1600.7,1140.5 L1601.2,1140.1 L1601.6,1139.8 L1602.1,1139.4 L1602.6,1139 L1603,1138.6 L1603.5,1138.2 L1603.9,1137.7 L1604.4,1137.3 L1604.9,1136.8 L1605.3,1136.3 L1605.8,1135.7 L1606.2,1135.2 L1606.7,1134.6 L1607.2,1134 L1607.6,1133.3 L1608.1,1132.7 L1608.5,1132 L1609,1131.3 L1609.5,1130.6 L1609.9,1129.9 L1610.4,1129.1 L1610.8,1128.4 L1611.3,1127.6 L1611.8,1126.8 L1612.2,1126 L1612.7,1125.1 L1613.1,1124.3 L1613.6,1123.5 L1614.1,1122.6 L1614.5,1121.8 L1615,1121 L1615.4,1120.1 L1615.9,1119.3 L1616.4,1118.5 L1616.8,1117.7 L1617.3,1116.9 L1617.7,1116.2 L1618.2,1115.5 L1618.7,1114.8 L1619.1,1114.2 L1619.6,1113.6 L1620,1113 L1620.5,1112.6 L1621,1112.1 L1621.4,1111.8 L1621.9,1111.5 L1622.3,1111.3 L1622.8,1111.2 L1623.3,1111.1 L1623.7,1111.1 L1624.2,1111.2 L1624.6,1111.4 L1625.1,1111.6 L1625.6,1111.9 L1626,1112.3 L1626.5,1112.7 L1626.9,1113.2 L1627.4,1113.8 L1627.9,1114.4 L1628.3,1115.1 L1628.8,1115.7 L1629.2,1116.5 L1629.7,1117.2 L1630.2,1118 L1630.6,1118.8 L1631.1,1119.6 L1631.5,1120.4 L1632,1121.3 L1632.5,1122.1 L1632.9,1123 L1633.4,1123.8 L1633.8,1124.6 L1634.3,1125.5 L1634.8,1126.3 L1635.2,1127.1 L1635.7,1127.9 L1636.1,1128.7 L1636.6,1129.4 L1637.1,1130.2 L1637.5,1130.9 L1638,1131.6 L1638.4,1132.3 L1638.9,1132.9 L1639.4,1133.6 L1639.8,1134.2 L1640.3,1134.8 L1640.7,1135.4 L1641.2,1135.9 L1641.7,1136.5 L1642.1,1137 L1642.6,1137.4 L1643,1137.9 L1643.5,1138.3 L1644,1138.8 L1644.4,1139.2 L1644.9,1139.6 L1645.3,1139.9 L1645.8,1140.3 L1646.3,1140.6 L1646.7,1140.9 L1647.2,1141.2 L1647.6,1141.5 L1648.1,1141.7 L1648.6,1142 L1649,1142.2 L1649.5,1142.4 L1649.9,1142.6 L1650.4,1142.8 L1650.9,1143 L1651.3,1143.1 L1651.8,1143.3 L1652.2,1143.5 L1652.7,1143.6 L1653.2,1143.7 L1653.6,1143.9 L1654.1,1144 L1654.5,1144.1 L1655,1144.2 L1655.5,1144.3 L1655.9,1144.4 L1656.4,1144.5 L1656.8,1144.5 L1657.3,1144.6 L1657.8,1144.7 L1658.2,1144.8 L1658.7,1144.8 L1659.1,1144.9 L1659.6,1144.9 L1660.1,1145 L1660.5,1145.1 L1661,1145.1 L1661.4,1145.2 L1661.9,1145.2 L1662.4,1145.2 L1662.8,1145.3 L1663.3,1145.3 L1663.7,1145.4 L1664.2,1145.4 L1664.7,1145.4 L1665.1,1145.5 L1665.6,1145.5 L1666,1145.5 L1666.5,1145.6 L1667,1145.6 L1667.4,1145.6 L1667.9,1145.6 L1668.3,1145.7 L1672,1145.8 L1676.2,1145.9 L1680.3,1146 L1684.4,1146.1 L1688.6,1146.2 L1692.7,1146.2 L1696.9,1146.2 L1701,1146.2 L1705.1,1146.2 L1709.3,1146.2 L1713.4,1146.2 L1717.6,1146.3 L1721.7,1146.6 L1725.8,1146.8 L1730,1147 L1734.1,1147.2 L1738.3,1147.4 L1740.1,1147.5 L1740.1,1165.7 Z" fill="#fff"/><path d="M231.3,1083.2 L231.8,1089.1 L232.2,1076.3 L232.7,1081.9 L233.1,1090.2 L233.6,1081.4 L234.1,1089.3 L234.5,1087.2 L235,1089 L235.4,1088.9 L235.9,1089.3 L236.4,1079.8 L236.8,1069.9 L237.3,1087.2 L237.7,1077.4 L238.2,1089.6 L238.7,1085.3 L239.1,1072.2 L239.6,1088.5 L240,1078.1 L240.5,1090.5 L241,1095.7 L241.4,1074.8 L241.9,1085.3 L242.3,1083.4 L242.8,1093.5 L243.3,1091.4 L243.7,1095 L244.2,1085 L244.6,1082.3 L245.1,1082.4 L245.6,1082.7 L246,1092.5 L246.5,1085.3 L246.9,1088 L247.4,1091.1 L247.9,1088 L248.3,1094.3 L248.8,1094.6 L249.2,1096.9 L249.7,1080.8 L250.2,1083.4 L250.6,1085.4 L251.1,1084 L251.5,1078 L252,1085.2 L252.5,1090.1 L252.9,1101.9 L253.4,1083.2 L253.8,1093.1 L254.3,1075.6 L254.8,1092.5 L255.2,1088.8 L255.7,1083.5 L256.1,1087.3 L256.6,1093.4 L257.1,1090.9 L257.5,1099 L258,1090.4 L258.4,1090.9 L258.9,1079.8 L259.4,1095.2 L259.8,1091.1 L260.3,1098.4 L260.7,1096.6 L261.2,1093.8 L261.7,1096.7 L262.1,1084.1 L262.6,1093.2 L263,1085.4 L263.5,1092.6 L264,1106.2 L264.4,1094.5 L264.9,1086.2 L265.3,1089.5 L265.8,1100.6 L266.3,1099.7 L266.7,1087.1 L267.2,1093.3 L267.6,1098.8 L268.1,1098 L268.6,1097.7 L269,1100 L269.5,1100.3 L269.9,1091.1 L270.4,1106.3 L270.9,1100.9 L271.3,1100.1 L271.8,1106.9 L272.2,1089.6 L272.7,1095.7 L273.2,1087.9 L273.6,1109.4 L274.1,1103.2 L274.5,1090.3 L275,1096.7 L275.5,1097 L275.9,1100.2 L276.4,1097.3 L276.8,1089 L277.3,1096.4 L277.8,1094.3 L278.2,1106.7 L278.7,1091.8 L279.1,1099.6 L279.6,1092.3 L280.1,1092.2 L280.5,1094.1 L281,1092 L281.4,1090.3 L281.9,1098.2 L282.4,1105.7 L282.8,1102.4 L283.3,1096.4 L283.7,1090.5 L284.2,1093.4 L284.7,1097.5 L285.1,1088.6 L285.6,1091.9 L286,1091.7 L286.5,1095.4 L287,1088.3 L287.4,1086.5 L287.9,1097.6 L288.3,1092.3 L288.8,1098 L289.3,1105.8 L289.7,1102 L290.2,1097.7 L290.6,1106.9 L291.1,1099.7 L291.6,1094.1 L292,1086.4 L292.5,1112.4 L292.9,1107.4 L293.4,1104.1 L293.9,1106.7 L294.3,1098.4 L294.8,1101.3 L295.2,1097.6 L295.7,1104 L296.2,1101.7 L296.6,1099.8 L297.1,1106.5 L297.5,1113.4 L298,1095.9 L298.5,1102.9 L298.9,1101.2 L299.4,1096.1 L299.8,1094.1 L300.3,1112.4 L300.8,1095.1 L301.2,1096.3 L301.7,1109.8 L302.1,1098.6 L302.6,1112.3 L303.1,1098.8 L303.5,1097.6 L304,1113.1 L304.4,1111.6 L304.9,1102.7 L305.4,1105.1 L305.8,1104.3 L306.3,1112.1 L306.7,1110.9 L307.2,1113.5 L307.7,1105.9 L308.1,1103.6 L308.6,1094.3 L309,1095.8 L309.5,1103.6 L310,1100.4 L310.4,1108.5 L310.9,1100 L311.3,1094.4 L311.8,1104.5 L312.3,1093.5 L312.7,1109.4 L313.2,1105 L313.6,1094.5 L314.1,1106.2 L314.6,1094.3 L315,1095.2 L315.5,1100.3 L315.9,1104 L316.4,1088.2 L316.9,1094.6 L317.3,1110.8 L317.8,1101 L318.2,1095 L318.7,1110 L319.2,1099.7 L319.6,1103.1 L320.1,1095.5 L320.5,1096.9 L321,1108.8 L321.5,1095.8 L321.9,1102.5 L322.4,1109.2 L322.8,1106.2 L323.3,1102 L323.8,1098.6 L324.2,1105 L324.7,1112.5 L325.1,1101.1 L325.6,1109 L326.1,1099.8 L326.5,1107.3 L327,1105.6 L327.4,1113.2 L327.9,1108.5 L328.4,1096.2 L328.8,1095.8 L329.3,1095.5 L329.7,1105.5 L330.2,1109.5 L330.7,1113.5 L331.1,1106.1 L331.6,1105.4 L332,1112.1 L332.5,1100.2 L333,1106.7 L333.4,1095.9 L333.9,1101.8 L334.3,1099.2 L334.8,1114 L335.3,1115.7 L335.7,1109.5 L336.2,1094.7 L336.6,1106.8 L337.1,1095 L337.6,1105.3 L338,1111.4 L338.5,1112.3 L338.9,1103 L339.4,1113.9 L339.9,1111.2 L340.3,1106.5 L340.8,1108.7 L341.2,1109.5 L341.7,1116.6 L342.2,1104.3 L342.6,1100.7 L343.1,1104.7 L343.5,1108.9 L344,1102.4 L344.5,1110.7 L344.9,1108.1 L345.4,1116.7 L345.8,1106 L346.3,1110 L346.8,1106.1 L347.2,1102.5 L347.7,1112.4 L348.1,1107.3 L348.6,1094.1 L349.1,1116.6 L349.5,1107.9 L350,1110.6 L350.4,1115.5 L350.9,1107 L351.4,1108.6 L351.8,1111.8 L352.3,1107.7 L352.7,1105.7 L353.2,1108.7 L353.7,1101.4 L354.1,1095.6 L354.6,1095.6 L355,1107.9 L355.5,1109.9 L356,1106.5 L356.4,1105.9 L356.9,1109 L357.3,1100.7 L357.8,1095.8 L358.3,1107.2 L358.7,1118.9 L359.2,1106 L359.6,1113.7 L360.1,1103.5 L360.6,1113.1 L361,1115.3 L361.5,1106.8 L361.9,1101.9 L362.4,1115.6 L362.9,1110 L363.3,1106.5 L363.8,1108.5 L364.2,1109.6 L364.7,1108 L365.2,1115.1 L365.6,1121.1 L366.1,1114.8 L366.5,1116.1 L367,1108.5 L367.5,1099.4 L367.9,1112 L368.4,1114.4 L368.8,1102.8 L369.3,1113.6 L369.8,1115.3 L370.2,1111.4 L370.7,1111.1 L371.1,1117 L371.6,1109.6 L372.1,1112.5 L372.5,1116.1 L373,1118.9 L373.4,1104.2 L373.9,1109.9 L374.4,1107.5 L374.8,1107.9 L375.3,1104.1 L375.7,1103.9 L376.2,1109 L376.7,1100.6 L377.1,1112.8 L377.6,1120.2 L378,1109 L378.5,1114.8 L379,1104.6 L379.4,1106.4 L379.9,1100.6 L380.3,1100.9 L380.8,1103 L381.3,1119.1 L381.7,1120.2 L382.2,1120.5 L382.6,1113.1 L383.1,1115.9 L383.6,1103.5 L384,1106.6 L384.5,1117.4 L384.9,1120.2 L385.4,1108.1 L385.9,1107.6 L386.3,1116.3 L386.8,1110.5 L387.2,1118.2 L387.7,1111.4 L388.2,1113.8 L388.6,1110.9 L389.1,1117.1 L389.5,1119.4 L390,1102.4 L390.5,1113.5 L390.9,1115.1 L391.4,1111.1 L391.8,1108.2 L392.3,1106.3 L392.8,1113.9 L393.2,1119.6 L393.7,1112.6 L394.1,1122.8 L394.6,1115.6 L395.1,1116.4 L395.5,1111.6 L396,1116.6 L396.4,1122.2 L396.9,1116.7 L397.4,1109.3 L397.8,1110.2 L398.3,1108 L398.7,1110.8 L399.2,1107.7 L399.7,1110.4 L400.1,1110.7 L400.6,1111 L401,1118.3 L401.5,1107.8 L402,1116.9 L402.4,1111.2 L402.9,1109.3 L403.3,1111.8 L403.8,1102.4 L404.3,1118.9 L404.7,1116.1 L405.2,1123.2 L405.6,1113.1 L406.1,1108.9 L406.6,1105.4 L407,1112.7 L407.5,1121.6 L407.9,1111.8 L408.4,1110.7 L408.9,1115.5 L409.3,1111.1 L409.8,1108.9 L410.2,1107.8 L410.7,1113 L411.2,1103.5 L411.6,1112.1 L412.1,1123.7 L412.5,1114.4 L413,1109.5 L413.5,1120 L413.9,1118.1 L414.4,1121 L414.8,1121 L415.3,1114.1 L415.8,1121.5 L416.2,1113.1 L416.7,1117.9 L417.1,1123.8 L417.6,1120.8 L418.1,1124.1 L418.5,1113 L419,1113.7 L419.4,1109.1 L419.9,1117.4 L420.4,1119.8 L420.8,1106.3 L421.3,1118.5 L421.7,1123.1 L422.2,1118.3 L422.7,1116.5 L423.1,1118.8 L423.6,1121.2 L424,1113.7 L424.5,1119.7 L425,1128.1 L425.4,1128.3 L425.9,1112.4 L426.3,1115 L426.8,1118.5 L427.3,1127.2 L427.7,1118.1 L428.2,1114.4 L428.6,1111.9 L429.1,1111.5 L429.6,1109.5 L430,1115.2 L430.5,1124 L430.9,1123.2 L431.4,1118.8 L431.9,1115.2 L432.3,1121.9 L432.8,1114.9 L433.2,1117.7 L433.7,1112.3 L434.2,1110.7 L434.6,1118.8 L435.1,1107.6 L435.5,1115.6 L436,1114.9 L436.5,1121.6 L436.9,1117.5 L437.4,1116 L437.8,1116.1 L438.3,1122.3 L438.8,1120.5 L439.2,1117.1 L439.7,1122.8 L440.1,1114.6 L440.6,1110.9 L441.1,1124 L441.5,1116.5 L442,1106.6 L442.4,1114.3 L442.9,1116.5 L443.4,1119.3 L443.8,1109.9 L444.3,1107.2 L444.7,1111.5 L445.2,1108.2 L445.7,1112.9 L446.1,1104.1 L446.6,1108.6 L447,1110.2 L447.5,1105.4 L448,1108.3 L448.4,1108.2 L448.9,1100.7 L449.3,1110.1 L449.8,1099.8 L450.3,1107.6 L450.7,1108.1 L451.2,1102.1 L451.6,1117.5 L452.1,1106.4 L452.6,1106.6 L453,1119.2 L453.5,1106.3 L453.9,1113 L454.4,1112.2 L454.9,1110.5 L455.3,1110.5 L455.8,1114.9 L456.2,1117.5 L456.7,1124.8 L457.2,1121.1 L457.6,1121.1 L458.1,1111.9 L458.5,1118.2 L459,1120.9 L459.5,1126.3 L459.9,1120.6 L460.4,1114.5 L460.8,1121.1 L461.3,1111.7 L461.8,1127.2 L462.2,1116.3 L462.7,1117.3 L463.1,1122.6 L463.6,1124.1 L464.1,1114.4 L464.5,1126.2 L465,1121.4 L465.4,1127.7 L465.9,1121.6 L466.4,1115.4 L466.8,1121.5 L467.3,1114.3 L467.7,1119.3 L468.2,1113.4 L468.7,1118.3 L469.1,1122.1 L469.6,1128.2 L470,1118.8 L470.5,1124.3 L471,1113.2 L471.4,1124.4 L471.9,1123.6 L472.3,1118.5 L472.8,1111.2 L473.3,1111.4 L473.7,1123.3 L474.2,1115.5 L474.6,1117.4 L475.1,1112.1 L475.6,1122.8 L476,1124 L476.5,1114.3 L476.9,1115.6 L477.4,1120 L477.9,1120.8 L478.3,1127.7 L478.8,1119 L479.2,1116.8 L479.7,1112.5 L480.2,1118.9 L480.6,1112.4 L481.1,1125.5 L481.5,1123 L482,1115.3 L482.5,1114.7 L482.9,1117 L483.4,1112 L483.8,1119.6 L484.3,1118.2 L484.8,1122 L485.2,1119.6 L485.7,1120.9 L486.1,1111.5 L486.6,1117.4 L487.1,1125.6 L487.5,1117.8 L488,1111.3 L488.4,1113.3 L488.9,1118.8 L489.4,1127.1 L489.8,1123.7 L490.3,1112 L490.7,1126.2 L491.2,1129.2 L491.7,1122.1 L492.1,1124.1 L492.6,1121.4 L493,1115.1 L493.5,1122 L494,1122.5 L494.4,1124.1 L494.9,1116.4 L495.3,1129.6 L495.8,1123.4 L496.3,1115.8 L496.7,1123.6 L497.2,1118.1 L497.6,1113.4 L498.1,1125.3 L498.6,1116.9 L499,1118.6 L499.5,1126.5 L499.9,1120.5 L500.4,1123.8 L500.9,1123.4 L501.3,1118.7 L501.8,1123.5 L502.2,1123 L502.7,1126.6 L503.2,1129.6 L503.6,1129.1 L504.1,1117.9 L504.5,1118.7 L505,1122.8 L505.5,1123.4 L505.9,1123.6 L506.4,1116.6 L506.8,1130.3 L507.3,1120.5 L507.8,1127.1 L508.2,1129.8 L508.7,1118.7 L509.1,1123.1 L509.6,1117 L510.1,1124.4 L510.5,1115 L511,1130 L511.4,1120.6 L511.9,1129.9 L512.4,1124.4 L512.8,1118.7 L513.3,1130.2 L513.7,1123 L514.2,1118.9 L514.7,1121.2 L515.1,1118 L515.6,1126.4 L516,1120 L516.5,1129 L517,1128.9 L517.4,1119.1 L517.9,1122.9 L518.3,1124.4 L518.8,1119.3 L519.3,1128.7 L519.7,1114.9 L520.2,1114.8 L520.6,1124.1 L521.1,1128.3 L521.6,1120.2 L522,1114.4 L522.5,1125.1 L522.9,1119.8 L523.4,1119.9 L523.9,1124.8 L524.3,1124.6 L524.8,1117.9 L525.2,1131.2 L525.7,1121.7 L526.2,1126.5 L526.6,1126.5 L527.1,1122.6 L527.5,1113.5 L528,1120.9 L528.5,1130 L528.9,1118.9 L529.4,1127.3 L529.8,1130.9 L530.3,1127.4 L530.8,1116.3 L531.2,1125.4 L531.7,1125.6 L532.1,1130.3 L532.6,1128.3 L533.1,1122.7 L533.5,1134.3 L534,1133 L534.4,1117.7 L534.9,1120.6 L535.4,1128.3 L535.8,1118.9 L536.3,1132.3 L536.7,1125.1 L537.2,1125.8 L537.7,1129.5 L538.1,1116.7 L538.6,1129.8 L539,1121.1 L539.5,1126.5 L540,1127.5 L540.4,1125.7 L540.9,1116.3 L541.3,1127.3 L541.8,1115.4 L542.3,1119.7 L542.7,1128 L543.2,1119.2 L543.6,1126.5 L544.1,1125.6 L544.6,1126.3 L545,1128.7 L545.5,1122.9 L545.9,1122.6 L546.4,1122.2 L546.9,1125.9 L547.3,1131 L547.8,1132.4 L548.2,1118.1 L548.7,1126.6 L549.2,1131.1 L549.6,1123.5 L550.1,1128.5 L550.5,1130.9 L551,1126.1 L551.5,1132.5 L551.9,1129.4 L552.4,1122.7 L552.8,1126.1 L553.3,1129.9 L553.8,1129.1 L554.2,1132.7 L554.7,1126.1 L555.1,1130.9 L555.6,1123.6 L556.1,1122.4 L556.5,1124.4 L557,1121.3 L557.4,1118.9 L557.9,1120.9 L558.4,1122.8 L558.8,1133.3 L559.3,1128.3 L559.7,1121.3 L560.2,1129.5 L560.7,1129.6 L561.1,1126.4 L561.6,1130.7 L562,1127.2 L562.5,1122.7 L563,1127.3 L563.4,1125.8 L563.9,1125.9 L564.3,1128.5 L564.8,1129.1 L565.3,1129.8 L565.7,1129.6 L566.2,1118.4 L566.6,1133.2 L567.1,1125.2 L567.6,1133.8 L568,1124.5 L568.5,1124.4 L568.9,1120.7 L569.4,1128.2 L569.9,1131.1 L570.3,1117.5 L570.8,1124.6 L571.2,1124 L571.7,1128.3 L572.2,1123.8 L572.6,1126.7 L573.1,1128.8 L573.5,1131.1 L574,1126.5 L574.5,1126.3 L574.9,1122.3 L575.4,1122.5 L575.8,1129.1 L576.3,1128.9 L576.8,1129.1 L577.2,1132.6 L577.7,1128.8 L578.1,1127.5 L578.6,1130.1 L579.1,1127.7 L579.5,1129.1 L580,1129.4 L580.4,1121.4 L580.9,1127.8 L581.4,1128.8 L581.8,1123.4 L582.3,1134.7 L582.7,1121.8 L583.2,1134 L583.7,1119.5 L584.1,1134.1 L584.6,1138.9 L585,1127.6 L585.5,1126.7 L586,1120.1 L586.4,1139.5 L586.9,1129.8 L587.3,1130.5 L587.8,1134.6 L588.3,1126.3 L588.7,1132.6 L589.2,1128.1 L589.6,1134.3 L590.1,1135.2 L590.6,1138 L591,1131.4 L591.5,1130.8 L591.9,1123.2 L592.4,1135.8 L592.9,1129.9 L593.3,1128.3 L593.8,1135.1 L594.2,1134.2 L594.7,1126 L595.2,1131.3 L595.6,1127.6 L596.1,1133.5 L596.5,1129.4 L597,1132.2 L597.5,1137.3 L597.9,1129.9 L598.4,1126.4 L598.8,1132.3 L599.3,1136.7 L599.8,1128.5 L600.2,1126.6 L600.7,1131.2 L601.1,1136.2 L601.6,1130.6 L602.1,1129.3 L602.5,1132.4 L603,1139.8 L603.4,1135.5 L603.9,1119.8 L604.4,1123 L604.8,1138.6 L605.3,1130.9 L605.7,1124.9 L606.2,1123.6 L606.7,1133.6 L607.1,1126.7 L607.6,1135.4 L608,1125 L608.5,1122.2 L609,1117.3 L609.4,1123.9 L609.9,1120.4 L610.3,1119.5 L610.8,1129.1 L611.3,1128.6 L611.7,1128.3 L612.2,1132.9 L612.6,1126 L613.1,1127 L613.6,1136.5 L614,1126.7 L614.5,1125 L614.9,1129.1 L615.4,1132.6 L615.9,1137.7 L616.3,1128.8 L616.8,1121.4 L617.2,1123.2 L617.7,1137.3 L618.2,1128.2 L618.6,1139.3 L619.1,1132.7 L619.5,1137.1 L620,1129.5 L620.5,1128 L620.9,1131.7 L621.4,1131.2 L621.8,1138.7 L622.3,1141 L622.8,1129 L623.2,1133.1 L623.7,1122.9 L624.1,1120.6 L624.6,1130.7 L625.1,1129.6 L625.5,1122.1 L626,1125.1 L626.4,1130.1 L626.9,1131.5 L627.4,1120.7 L627.8,1129.3 L628.3,1128.6 L628.7,1119.3 L629.2,1122.1 L629.7,1124.1 L630.1,1130.7 L630.6,1133.7 L631,1130.7 L631.5,1132.2 L632,1129.3 L632.4,1134.3 L632.9,1127.8 L633.3,1136.4 L633.8,1132.6 L634.3,1127.9 L634.7,1126 L635.2,1130.7 L635.6,1131.8 L636.1,1122.5 L636.6,1137.9 L637,1132.4 L637.5,1132.7 L637.9,1128.9 L638.4,1130.7 L638.9,1140.8 L639.3,1127.1 L639.8,1136.2 L640.2,1133.9 L640.7,1130.6 L641.2,1131.6 L641.6,1131.9 L642.1,1133.1 L642.5,1125.4 L643,1126.8 L643.5,1134.4 L643.9,1134.5 L644.4,1131.9 L644.8,1121.8 L645.3,1139.6 L645.8,1131 L646.2,1132.7 L646.7,1123.6 L647.1,1130.8 L647.6,1132 L648.1,1134.3 L648.5,1142.3 L649,1130.9 L649.4,1135.3 L649.9,1132 L650.4,1131 L650.8,1134.3 L651.3,1138.9 L651.7,1126.9 L652.2,1122.2 L652.7,1131.2 L653.1,1129.8 L653.6,1128.6 L654,1125.6 L654.5,1139.1 L655,1127.7 L655.4,1132.2 L655.9,1127.1 L656.3,1129.1 L656.8,1133 L657.3,1125.2 L657.7,1121.7 L658.2,1115.7 L658.6,1112.5 L659.1,1114.2 L659.6,1118.3 L660,1110.6 L660.5,1111.1 L660.9,1115.1 L661.4,1107 L661.9,1108.1 L662.3,1117 L662.8,1102.5 L663.2,1115.8 L663.7,1119.7 L664.2,1118.7 L664.6,1111.8 L665.1,1116 L665.5,1121 L666,1116.5 L666.5,1132 L666.9,1126.8 L667.4,1126.5 L667.8,1119.2 L668.3,1134.9 L668.8,1128.4 L669.2,1132.8 L669.7,1130.7 L670.1,1130.6 L670.6,1141.6 L671.1,1129.7 L671.5,1127.6 L672,1133.7 L672.4,1121.8 L672.9,1127.9 L673.4,1129.9 L673.8,1132.5 L674.3,1122.1 L674.7,1130.6 L675.2,1127.9 L675.7,1130.5 L676.1,1127.6 L676.6,1125.7 L677,1134.3 L677.5,1137.2 L678,1135.6 L678.4,1131 L678.9,1135.3 L679.3,1128.9 L679.8,1141.3 L680.3,1130.2 L680.7,1129.6 L681.2,1138.3 L681.6,1132.4 L682.1,1132.4 L682.6,1142.5 L683,1140.4 L683.5,1135.3 L683.9,1133.5 L684.4,1132 L684.9,1130.6 L685.3,1134.2 L685.8,1130.2 L686.2,1121.3 L686.7,1124 L687.2,1134.5 L687.6,1128.9 L688.1,1133 L688.5,1129.1 L689,1136.8 L689.5,1120.7 L689.9,1129.9 L690.4,1134.5 L690.8,1129.6 L691.3,1134.5 L691.8,1128.8 L692.2,1124 L692.7,1124.7 L693.1,1130 L693.6,1119.5 L694.1,1121.9 L694.5,1122.8 L695,1136 L695.4,1123.5 L695.9,1126.3 L696.4,1135.1 L696.8,1134.8 L697.3,1135.3 L697.7,1129.4 L698.2,1133.2 L698.7,1127.9 L699.1,1121.3 L699.6,1117.9 L700,1125.7 L700.5,1121.7 L701,1123.6 L701.4,1123.9 L701.9,1132.9 L702.3,1130.3 L702.8,1137.1 L703.3,1134.2 L703.7,1127.1 L704.2,1129.6 L704.6,1126.1 L705.1,1138.6 L705.6,1125.1 L706,1129.9 L706.5,1124.8 L706.9,1136 L707.4,1123.8 L707.9,1136.2 L708.3,1133.6 L708.8,1137.4 L709.2,1128 L709.7,1120.9 L710.2,1128.1 L710.6,1138.9 L711.1,1121.2 L711.5,1133.1 L712,1133.3 L712.5,1134.7 L712.9,1135.7 L713.4,1125.8 L713.8,1127.4 L714.3,1121.3 L714.8,1133.9 L715.2,1125.7 L715.7,1123.9 L716.1,1129.3 L716.6,1126.4 L717.1,1139.5 L717.5,1127.1 L718,1134.7 L718.4,1130.1 L718.9,1135.2 L719.4,1134.4 L719.8,1124.6 L720.3,1126.5 L720.7,1135.5 L721.2,1126.5 L721.7,1128.5 L722.1,1121.4 L722.6,1133.7 L723,1130.6 L723.5,1129.7 L724,1139.4 L724.4,1126.8 L724.9,1129.9 L725.3,1139.7 L725.8,1139 L726.3,1135 L726.7,1137.2 L727.2,1136.7 L727.6,1124.5 L728.1,1134.9 L728.6,1130 L729,1132.2 L729.5,1124.4 L729.9,1136.5 L730.4,1133.7 L730.9,1137.4 L731.3,1140.9 L731.8,1131.5 L732.2,1134.1 L732.7,1129.4 L733.2,1130 L733.6,1122.9 L734.1,1124.5 L734.5,1135.4 L735,1127.2 L735.5,1128.9 L735.9,1142 L736.4,1137.3 L736.8,1135.2 L737.3,1122.5 L737.8,1133.1 L738.2,1140 L738.7,1128.5 L739.1,1138.9 L739.6,1130.4 L740.1,1131.9 L740.5,1126.6 L741,1135.3 L741.4,1131.5 L741.9,1133.4 L742.4,1134.8 L742.8,1127.8 L743.3,1137.1 L743.7,1134.7 L744.2,1135.7 L744.7,1137.7 L745.1,1142.7 L745.6,1130 L746,1135 L746.5,1125.2 L747,1137.7 L747.4,1145.1 L747.9,1133.6 L748.3,1142.1 L748.8,1131.2 L749.3,1134.3 L749.7,1141.9 L750.2,1126.2 L750.6,1133.7 L751.1,1134.7 L751.6,1126.4 L752,1139.7 L752.5,1133.8 L752.9,1134.9 L753.4,1134.1 L753.9,1134.2 L754.3,1133.8 L754.8,1136 L755.2,1145.1 L755.7,1131.9 L756.2,1127.3 L756.6,1141.6 L757.1,1130.1 L757.5,1133.9 L758,1136.9 L758.5,1133.4 L758.9,1126.9 L759.4,1130.2 L759.8,1129.3 L760.3,1134.2 L760.8,1136.8 L761.2,1132 L761.7,1124.5 L762.1,1129.5 L762.6,1136.5 L763.1,1139.1 L763.5,1138.1 L764,1127 L764.4,1126.8 L764.9,1135.7 L765.4,1130.2 L765.8,1138.6 L766.3,1123.2 L766.7,1136.2 L767.2,1132.4 L767.7,1141.8 L768.1,1127.8 L768.6,1137.1 L769,1128.5 L769.5,1130.7 L770,1137.6 L770.4,1132.8 L770.9,1124.7 L771.3,1126.6 L771.8,1137.3 L772.3,1124.2 L772.7,1139.2 L773.2,1141.9 L773.6,1131.1 L774.1,1132.1 L774.6,1142.1 L775,1133.8 L775.5,1137.9 L775.9,1126.5 L776.4,1131.9 L776.9,1141.4 L777.3,1136.1 L777.8,1127.9 L778.2,1123.9 L778.7,1125.9 L779.2,1133.8 L779.6,1126.3 L780.1,1139.7 L780.5,1132.3 L781,1133.1 L781.5,1135.1 L781.9,1134.1 L782.4,1137.7 L782.8,1129.8 L783.3,1142.4 L783.8,1127.4 L784.2,1132.7 L784.7,1140 L785.1,1126 L785.6,1131.4 L786.1,1132.7 L786.5,1135.8 L787,1133.7 L787.4,1126.6 L787.9,1138 L788.4,1138.1 L788.8,1144.8 L789.3,1131.4 L789.7,1137.8 L790.2,1138.6 L790.7,1139.2 L791.1,1132.6 L791.6,1132 L792,1126.7 L792.5,1126.6 L793,1136.7 L793.4,1139.7 L793.9,1144.4 L794.3,1132.1 L794.8,1126.9 L795.3,1142.8 L795.7,1133.4 L796.2,1136.8 L796.6,1135.9 L797.1,1132.6 L797.6,1133.1 L798,1143.3 L798.5,1130.6 L798.9,1143 L799.4,1130.4 L799.9,1137 L800.3,1139.5 L800.8,1131.1 L801.2,1128.3 L801.7,1129 L802.2,1132.9 L802.6,1129.3 L803.1,1130.6 L803.5,1141.4 L804,1125.9 L804.5,1134.8 L804.9,1129.7 L805.4,1125.6 L805.8,1131.3 L806.3,1136.1 L806.8,1137 L807.2,1136.9 L807.7,1129.5 L808.1,1135.5 L808.6,1133.3 L809.1,1134.5 L809.5,1135.2 L810,1131.1 L810.4,1135.4 L810.9,1135.1 L811.4,1140.7 L811.8,1127.6 L812.3,1125.9 L812.7,1133.7 L813.2,1130.5 L813.7,1131.5 L814.1,1138.8 L814.6,1131.7 L815,1136.8 L815.5,1130.4 L816,1126.7 L816.4,1129 L816.9,1128.9 L817.3,1125.2 L817.8,1136.6 L818.3,1140.8 L818.7,1137.1 L819.2,1123.7 L819.6,1134.9 L820.1,1133.4 L820.6,1134.3 L821,1130 L821.5,1128.4 L821.9,1132.3 L822.4,1131.9 L822.9,1130.4 L823.3,1140.1 L823.8,1141 L824.2,1135 L824.7,1130.5 L825.2,1134.4 L825.6,1133.7 L826.1,1135.2 L826.5,1139.3 L827,1133.9 L827.5,1134.9 L827.9,1139.5 L828.4,1134.6 L828.8,1130.6 L829.3,1131.8 L829.8,1132.4 L830.2,1128.4 L830.7,1142.2 L831.1,1133.6 L831.6,1138.4 L832.1,1130.6 L832.5,1136.5 L833,1137.8 L833.4,1130.7 L833.9,1130.6 L834.4,1132.6 L834.8,1135.6 L835.3,1129.6 L835.7,1137.7 L836.2,1141.4 L836.7,1131.9 L837.1,1140.5 L837.6,1133 L838,1131.4 L838.5,1133.3 L839,1133.4 L839.4,1128.8 L839.9,1140.7 L840.3,1136 L840.8,1132.2 L841.3,1125 L841.7,1125.8 L842.2,1137.2 L842.6,1132.7 L843.1,1126.9 L843.6,1136.1 L844,1137.3 L844.5,1132.5 L844.9,1124.6 L845.4,1138.4 L845.9,1132.8 L846.3,1135.7 L846.8,1126.9 L847.2,1123 L847.7,1127.2 L848.2,1125.9 L848.6,1137.5 L849.1,1126.6 L849.5,1135.7 L850,1123.7 L850.5,1130.4 L850.9,1134.8 L851.4,1120.2 L851.8,1129.2 L852.3,1125.9 L852.8,1132.4 L853.2,1136.8 L853.7,1132.5 L854.1,1127.7 L854.6,1135.6 L855.1,1121.6 L855.5,1123.7 L856,1123 L856.4,1123.5 L856.9,1125.9 L857.4,1122.1 L857.8,1120 L858.3,1120 L858.7,1136.4 L859.2,1130.2 L859.7,1130.3 L860.1,1120.8 L860.6,1119.2 L861,1127.3 L861.5,1130.2 L862,1125.1 L862.4,1121 L862.9,1123.9 L863.3,1121.6 L863.8,1127.5 L864.3,1121.6 L864.7,1119.3 L865.2,1124.3 L865.6,1120.1 L866.1,1127.2 L866.6,1129.8 L867,1120 L867.5,1115 L867.9,1124 L868.4,1124.3 L868.9,1114.8 L869.3,1110.7 L869.8,1121 L870.2,1106.7 L870.7,1118.6 L871.2,1118.4 L871.6,1116.5 L872.1,1117.4 L872.5,1112.4 L873,1113.2 L873.5,1116.5 L873.9,1108.1 L874.4,1108.1 L874.8,1099.6 L875.3,1105.6 L875.8,1103.2 L876.2,1104.5 L876.7,1093.3 L877.1,1092.5 L877.6,1090.4 L878.1,1085.1 L878.5,1083.8 L879,1078.9 L879.4,1071.4 L879.9,1076.2 L880.4,1069.6 L880.8,1069.6 L881.3,1063.8 L881.7,1060.2 L882.2,1053.1 L882.7,1054 L883.1,1049 L883.6,1046.4 L884,1043.4 L884.5,1041.5 L885,1036.2 L885.4,1029 L885.9,1023.8 L886.3,1014 L886.8,1002.5 L887.3,994.8 L887.7,977.1 L888.2,957.7 L888.6,945.1 L889.1,920.5 L889.6,906.3 L890,880.6 L890.5,858.9 L890.9,836.1 L891.4,809.2 L891.9,781.5 L892.3,741.4 L892.8,710.2 L893.2,666.3 L893.7,615.2 L894.2,570.4 L894.6,539 L895.1,520.7 L895.5,490.7 L896,468.1 L896.5,442 L896.9,416.7 L897.4,396.6 L897.8,373 L898.3,366.3 L898.8,346.5 L899.2,336 L899.7,337.2 L900.1,340.6 L900.6,357.6 L901.1,374.2 L901.5,389.8 L902,409.3 L902.4,432.3 L902.9,459.7 L903.4,490.8 L903.8,517.5 L904.3,538.4 L904.7,562.1 L905.2,612.4 L905.7,659.8 L906.1,699.6 L906.6,738.9 L907,769.6 L907.5,800.8 L908,824.6 L908.4,854.1 L908.9,882 L909.3,904.7 L909.8,921.3 L910.3,941.3 L910.7,954.2 L911.2,973.1 L911.6,992.4 L912.1,1001.8 L912.6,1016.5 L913,1030.8 L913.5,1030 L913.9,1039.6 L914.4,1040 L914.9,1043.1 L915.3,1048 L915.8,1051.4 L916.2,1052 L916.7,1063.9 L917.2,1067 L917.6,1064.8 L918.1,1070.8 L918.5,1073.6 L919,1078 L919.5,1073.6 L919.9,1080.7 L920.4,1081.8 L920.8,1081.9 L921.3,1091.6 L921.8,1096.4 L922.2,1090.2 L922.7,1092.9 L923.1,1099.2 L923.6,1103.3 L924.1,1100.6 L924.5,1103.1 L925,1106.6 L925.4,1116.1 L925.9,1103.4 L926.4,1105.9 L926.8,1111.8 L927.3,1104.8 L927.7,1109.9 L928.2,1112.8 L928.7,1119.5 L929.1,1118.8 L929.6,1115.3 L930,1124.5 L930.5,1123.9 L931,1130.3 L931.4,1123.9 L931.9,1123.2 L932.3,1131.2 L932.8,1132.2 L933.3,1129 L933.7,1127.6 L934.2,1131.4 L934.6,1127.1 L935.1,1126.5 L935.6,1131.6 L936,1126.6 L936.5,1133.1 L936.9,1127.6 L937.4,1122.6 L937.9,1133.8 L938.3,1123.5 L938.8,1127.1 L939.2,1128.7 L939.7,1130.1 L940.2,1133.1 L940.6,1132.8 L941.1,1128.2 L941.5,1128 L942,1133.4 L942.5,1139.8 L942.9,1127.2 L943.4,1133 L943.8,1124.3 L944.3,1130.9 L944.8,1134.1 L945.2,1132.2 L945.7,1138.4 L946.1,1130.1 L946.6,1131.3 L947.1,1128.6 L947.5,1138.2 L948,1136.5 L948.4,1134 L948.9,1127.7 L949.4,1135.5 L949.8,1142.5 L950.3,1142.6 L950.7,1134.3 L951.2,1139.4 L951.7,1137.1 L952.1,1139.2 L952.6,1136.3 L953,1139 L953.5,1138.5 L954,1132 L954.4,1139.2 L954.9,1132.4 L955.3,1130.8 L955.8,1140.4 L956.3,1135 L956.7,1137.2 L957.2,1140 L957.6,1135.6 L958.1,1130.5 L958.6,1135.1 L959,1136.6 L959.5,1132.2 L959.9,1136.5 L960.4,1139.1 L960.9,1135.5 L961.3,1136.6 L961.8,1131.2 L962.2,1133 L962.7,1140.7 L963.2,1134.1 L963.6,1135.8 L964.1,1140.8 L964.5,1132.5 L965,1139.2 L965.5,1137.6 L965.9,1132.3 L966.4,1135.3 L966.8,1133.4 L967.3,1138.2 L967.8,1135.9 L968.2,1144.1 L968.7,1140 L969.1,1135.5 L969.6,1130.9 L970.1,1130.6 L970.5,1128.1 L971,1137.4 L971.4,1138.2 L971.9,1132.3 L972.4,1135.8 L972.8,1132 L973.3,1142 L973.7,1140.3 L974.2,1131.1 L974.7,1138.2 L975.1,1135.1 L975.6,1132.9 L976,1132.5 L976.5,1139 L977,1139.3 L977.4,1127.5 L977.9,1139.4 L978.3,1132.6 L978.8,1134.2 L979.3,1131.4 L979.7,1130.7 L980.2,1141.1 L980.6,1137.6 L981.1,1133.7 L981.6,1140.6 L982,1132.8 L982.5,1130 L982.9,1130.5 L983.4,1139.2 L983.9,1131.2 L984.3,1145 L984.8,1136.2 L985.2,1140.2 L985.7,1140.8 L986.2,1136.2 L986.6,1136.5 L987.1,1140.3 L987.5,1132.1 L988,1132.3 L988.5,1142.8 L988.9,1130.2 L989.4,1137.4 L989.8,1140.2 L990.3,1137.7 L990.8,1134.3 L991.2,1141.9 L991.7,1131.1 L992.1,1139 L992.6,1142.2 L993.1,1139.2 L993.5,1131.5 L994,1144.4 L994.4,1129.5 L994.9,1135.3 L995.4,1139.5 L995.8,1135.7 L996.3,1129.4 L996.7,1137.7 L997.2,1135.6 L997.7,1140.6 L998.1,1136.8 L998.6,1134.9 L999,1129.6 L999.5,1141.1 L1000,1142.3 L1000.4,1142.8 L1000.9,1133.7 L1001.3,1145.5 L1001.8,1133.1 L1002.3,1131.3 L1002.7,1134.1 L1003.2,1133.1 L1003.6,1135.2 L1004.1,1132.3 L1004.6,1141.5 L1005,1132.7 L1005.5,1137.5 L1005.9,1135.4 L1006.4,1134 L1006.9,1135.2 L1007.3,1143.9 L1007.8,1137 L1008.2,1137.1 L1008.7,1137.7 L1009.2,1145.4 L1009.6,1140.8 L1010.1,1133.7 L1010.5,1144 L1011,1134.7 L1011.5,1138.9 L1011.9,1142.9 L1012.4,1145.6 L1012.8,1142.2 L1013.3,1142.1 L1013.8,1129.9 L1014.2,1129.8 L1014.7,1142.6 L1015.1,1138.4 L1015.6,1133 L1016.1,1141 L1016.5,1135.9 L1017,1142.4 L1017.4,1137.5 L1017.9,1139.2 L1018.4,1135.6 L1018.8,1142.8 L1019.3,1142.6 L1019.7,1132 L1020.2,1144.6 L1020.7,1145.6 L1021.1,1140.6 L1021.6,1140 L1022,1144.1 L1022.5,1142.3 L1023,1140.6 L1023.4,1147.5 L1023.9,1137.1 L1024.3,1135.3 L1024.8,1139.8 L1025.3,1136.7 L1025.7,1141.7 L1026.2,1136.1 L1026.6,1137.4 L1027.1,1129 L1027.6,1132.6 L1028,1139.6 L1028.5,1136.5 L1028.9,1132.4 L1029.4,1137.7 L1029.9,1133.7 L1030.3,1127.3 L1030.8,1130.5 L1031.2,1140 L1031.7,1131.5 L1032.2,1126.1 L1032.6,1127.5 L1033.1,1125.3 L1033.5,1131.8 L1034,1132.1 L1034.5,1128.2 L1034.9,1124.6 L1035.4,1130.8 L1035.8,1136.7 L1036.3,1129.3 L1036.8,1127.6 L1037.2,1119.6 L1037.7,1130.4 L1038.1,1133.8 L1038.6,1125.2 L1039.1,1126.7 L1039.5,1129.7 L1040,1131.3 L1040.4,1126.3 L1040.9,1123 L1041.4,1125.1 L1041.8,1127.5 L1042.3,1120.2 L1042.7,1126 L1043.2,1121.9 L1043.7,1123.8 L1044.1,1117.4 L1044.6,1121 L1045,1115.7 L1045.5,1109 L1046,1119.1 L1046.4,1117.5 L1046.9,1114.5 L1047.3,1119.2 L1047.8,1111.5 L1048.3,1101.4 L1048.7,1108 L1049.2,1100.5 L1049.6,1108.5 L1050.1,1096 L1050.6,1096.3 L1051,1095.8 L1051.5,1088.2 L1051.9,1092.6 L1052.4,1082.9 L1052.9,1084.8 L1053.3,1077.2 L1053.8,1069.2 L1054.2,1066.6 L1054.7,1062.8 L1055.2,1062.1 L1055.6,1055 L1056.1,1047.3 L1056.5,1044.3 L1057,1031.7 L1057.5,1029.3 L1057.9,1023.3 L1058.4,1019.8 L1058.8,1010.5 L1059.3,1001.1 L1059.8,996.3 L1060.2,989.2 L1060.7,983.7 L1061.1,972.6 L1061.6,969.9 L1062.1,955.6 L1062.5,953.8 L1063,941 L1063.4,934.9 L1063.9,927.4 L1064.4,924.3 L1064.8,910.7 L1065.3,916.1 L1065.7,904.4 L1066.2,896.8 L1066.7,901.6 L1067.1,895.4 L1067.6,897.4 L1068,896.1 L1068.5,893.2 L1069,897.8 L1069.4,896.8 L1069.9,904.5 L1070.3,900 L1070.8,908.1 L1071.3,916.4 L1071.7,920.7 L1072.2,927.7 L1072.6,938.4 L1073.1,936.6 L1073.6,948.5 L1074,953.5 L1074.5,967.1 L1074.9,974.6 L1075.4,974.8 L1075.9,984.8 L1076.3,1000.2 L1076.8,1000.1 L1077.2,1009.2 L1077.7,1017.7 L1078.2,1029.7 L1078.6,1031.1 L1079.1,1039.9 L1079.5,1042.9 L1080,1049.5 L1080.5,1054.5 L1080.9,1055.4 L1081.4,1070.3 L1081.8,1069.2 L1082.3,1076.9 L1082.8,1083.4 L1083.2,1081.3 L1083.7,1089.2 L1084.1,1092.1 L1084.6,1091.4 L1085.1,1105.9 L1085.5,1092.9 L1086,1112.5 L1086.4,1105.2 L1086.9,1104.2 L1087.4,1112.4 L1087.8,1117.9 L1088.3,1113.4 L1088.7,1113.5 L1089.2,1121.8 L1089.7,1117.2 L1090.1,1118.7 L1090.6,1115.7 L1091,1113.8 L1091.5,1125.7 L1092,1121.3 L1092.4,1123.1 L1092.9,1128.4 L1093.3,1128.1 L1093.8,1125.7 L1094.3,1118.3 L1094.7,1126.7 L1095.2,1122.7 L1095.6,1124.1 L1096.1,1136.7 L1096.6,1132.3 L1097,1123.6 L1097.5,1128 L1097.9,1132.6 L1098.4,1131.3 L1098.9,1126.8 L1099.3,1139.7 L1099.8,1131.3 L1100.2,1128.3 L1100.7,1132.8 L1101.2,1123.2 L1101.6,1127.2 L1102.1,1125.3 L1102.5,1140.3 L1103,1134.6 L1103.5,1132.3 L1103.9,1135.4 L1104.4,1132.7 L1104.8,1136.3 L1105.3,1128.5 L1105.8,1137.8 L1106.2,1123.3 L1106.7,1136 L1107.1,1130.5 L1107.6,1131.8 L1108.1,1129.8 L1108.5,1136.4 L1109,1127.2 L1109.4,1130.3 L1109.9,1135.1 L1110.4,1134.4 L1110.8,1132.5 L1111.3,1142.6 L1111.7,1140.6 L1112.2,1131.2 L1112.7,1126.5 L1113.1,1134.9 L1113.6,1139 L1114,1138.5 L1114.5,1138.5 L1115,1138.8 L1115.4,1132.6 L1115.9,1138.6 L1116.3,1142.8 L1116.8,1137.9 L1117.3,1136.6 L1117.7,1143.8 L1118.2,1146.4 L1118.6,1138.6 L1119.1,1140.8 L1119.6,1137.8 L1120,1142.5 L1120.5,1135.1 L1120.9,1138.1 L1121.4,1142.4 L1121.9,1137.9 L1122.3,1137.7 L1122.8,1138.1 L1123.2,1142.4 L1123.7,1142.9 L1124.2,1135.2 L1124.6,1136.2 L1125.1,1141.4 L1125.5,1144.6 L1126,1131 L1126.5,1132.8 L1126.9,1137.3 L1127.4,1145.2 L1127.8,1130.8 L1128.3,1133.9 L1128.8,1142.3 L1129.2,1130.4 L1129.7,1137.6 L1130.1,1142.1 L1130.6,1136.8 L1131.1,1139.3 L1131.5,1143.9 L1132,1143.1 L1132.4,1138.5 L1132.9,1142.2 L1133.4,1142.2 L1133.8,1136.6 L1134.3,1140.8 L1134.7,1141.5 L1135.2,1136.1 L1135.7,1130.2 L1136.1,1145.4 L1136.6,1130.4 L1137,1145.2 L1137.5,1134 L1138,1133.2 L1138.4,1138.9 L1138.9,1143.9 L1139.3,1141.2 L1139.8,1141.2 L1140.3,1132.9 L1140.7,1142.2 L1141.2,1135.9 L1141.6,1132.9 L1142.1,1138.7 L1142.6,1138.5 L1143,1131 L1143.5,1137.4 L1143.9,1134.9 L1144.4,1144.7 L1144.9,1137.1 L1145.3,1135.7 L1145.8,1137.9 L1146.2,1145.8 L1146.7,1147.5 L1147.2,1144.4 L1147.6,1134.8 L1148.1,1140.7 L1148.5,1138.7 L1149,1136.9 L1149.5,1133.4 L1149.9,1140.1 L1150.4,1145.8 L1150.8,1139.7 L1151.3,1145.7 L1151.8,1140.6 L1152.2,1140.9 L1152.7,1141.6 L1153.1,1133.5 L1153.6,1139.2 L1154.1,1146.2 L1154.5,1140.9 L1155,1143 L1155.4,1144.4 L1155.9,1142.9 L1156.4,1147.8 L1156.8,1146.9 L1157.3,1148 L1157.7,1134 L1158.2,1140.4 L1158.7,1135.2 L1159.1,1136.7 L1159.6,1145.2 L1160,1146.5 L1160.5,1144.4 L1161,1146.9 L1161.4,1143.6 L1161.9,1141.9 L1162.3,1140.9 L1162.8,1141.5 L1163.3,1135.7 L1163.7,1144.8 L1164.2,1142.5 L1164.6,1152.1 L1165.1,1152.1 L1165.6,1140.9 L1166,1144 L1166.5,1141.7 L1166.9,1141.7 L1167.4,1143.4 L1167.9,1143.1 L1168.3,1144.2 L1168.8,1138.2 L1169.2,1140.6 L1169.7,1143.1 L1170.2,1143.6 L1170.6,1146.7 L1171.1,1140.4 L1171.5,1140.3 L1172,1147.7 L1172.5,1136.1 L1172.9,1149.7 L1173.4,1142.7 L1173.8,1139.2 L1174.3,1143 L1174.8,1141.8 L1175.2,1141.1 L1175.7,1140.7 L1176.1,1144.1 L1176.6,1142.9 L1177.1,1132.2 L1177.5,1141.2 L1178,1139.5 L1178.4,1137.7 L1178.9,1139.9 L1179.4,1140.5 L1179.8,1139.6 L1180.3,1142.6 L1180.7,1139.6 L1181.2,1144.2 L1181.7,1131.6 L1182.1,1139.3 L1182.6,1148 L1183,1131.7 L1183.5,1137.3 L1184,1131.9 L1184.4,1136.4 L1184.9,1138.4 L1185.3,1132.5 L1185.8,1140.7 L1186.3,1148.5 L1186.7,1141.9 L1187.2,1144.5 L1187.6,1135.9 L1188.1,1135.8 L1188.6,1132.5 L1189,1148.8 L1189.5,1146.8 L1189.9,1140.9 L1190.4,1141.3 L1190.9,1135.8 L1191.3,1148.9 L1191.8,1145 L1192.2,1136.7 L1192.7,1148.1 L1193.2,1138.3 L1193.6,1147.9 L1194.1,1134.3 L1194.5,1144.3 L1195,1140.1 L1195.5,1141.8 L1195.9,1135.4 L1196.4,1149.3 L1196.8,1149.4 L1197.3,1152.4 L1197.8,1146.4 L1198.2,1144.9 L1198.7,1147.5 L1199.1,1138.7 L1199.6,1140.8 L1200.1,1147.3 L1200.5,1141.3 L1201,1145.7 L1201.4,1138.7 L1201.9,1146.3 L1202.4,1145.3 L1202.8,1145.9 L1203.3,1145 L1203.7,1139.5 L1204.2,1150.2 L1204.7,1139.2 L1205.1,1145.6 L1205.6,1141.1 L1206,1139.9 L1206.5,1134.8 L1207,1141.3 L1207.4,1144.8 L1207.9,1134.5 L1208.3,1135.9 L1208.8,1142.5 L1209.3,1142.2 L1209.7,1146.8 L1210.2,1138.4 L1210.6,1148.8 L1211.1,1142.9 L1211.6,1143.5 L1212,1142.9 L1212.5,1144.2 L1212.9,1140.2 L1213.4,1147.4 L1213.9,1143.7 L1214.3,1140.3 L1214.8,1147.6 L1215.2,1141.1 L1215.7,1141.1 L1216.2,1148.7 L1216.6,1149.8 L1217.1,1141.8 L1217.5,1148.3 L1218,1143 L1218.5,1143.5 L1218.9,1143.4 L1219.4,1146.5 L1219.8,1142.2 L1220.3,1137.5 L1220.8,1137.5 L1221.2,1145.4 L1221.7,1144 L1222.1,1141 L1222.6,1145.1 L1223.1,1138.3 L1223.5,1151.6 L1224,1143.1 L1224.4,1137.5 L1224.9,1151.5 L1225.4,1145.4 L1225.8,1148.3 L1226.3,1143.9 L1226.7,1140.2 L1227.2,1152 L1227.7,1147.6 L1228.1,1142.9 L1228.6,1145.2 L1229,1140.1 L1229.5,1137.1 L1230,1145.7 L1230.4,1146 L1230.9,1145.8 L1231.3,1146.7 L1231.8,1142.8 L1232.3,1144.7 L1232.7,1141.6 L1233.2,1142.9 L1233.6,1148.7 L1234.1,1138.5 L1234.6,1139.8 L1235,1149.9 L1235.5,1142.2 L1235.9,1144.3 L1236.4,1148.5 L1236.9,1148.4 L1237.3,1146.5 L1237.8,1143.3 L1238.2,1138.3 L1238.7,1139.6 L1239.2,1143.2 L1239.6,1147.9 L1240.1,1144.5 L1240.5,1146.4 L1241,1140.6 L1241.5,1141.6 L1241.9,1141.7 L1242.4,1144.1 L1242.8,1143.9 L1243.3,1138.3 L1243.8,1149.6 L1244.2,1139.6 L1244.7,1138.4 L1245.1,1143.3 L1245.6,1150.3 L1246.1,1151.1 L1246.5,1154.2 L1247,1148.7 L1247.4,1147.8 L1247.9,1140.4 L1248.4,1144.9 L1248.8,1144 L1249.3,1141.4 L1249.7,1145.1 L1250.2,1146.1 L1250.7,1148.2 L1251.1,1139 L1251.6,1147.4 L1252,1141 L1252.5,1153.4 L1253,1150.2 L1253.4,1149.7 L1253.9,1143.2 L1254.3,1148.5 L1254.8,1153.9 L1255.3,1142.4 L1255.7,1153.3 L1256.2,1137.4 L1256.6,1140.8 L1257.1,1147.1 L1257.6,1135.7 L1258,1142.6 L1258.5,1139.6 L1258.9,1143.7 L1259.4,1137.3 L1259.9,1147.5 L1260.3,1145.8 L1260.8,1139.5 L1261.2,1141.8 L1261.7,1138.1 L1262.2,1144.6 L1262.6,1147.9 L1263.1,1140 L1263.5,1139 L1264,1142.7 L1264.5,1144.8 L1264.9,1144.4 L1265.4,1147.6 L1265.8,1138.7 L1266.3,1142.6 L1266.8,1141.8 L1267.2,1141.9 L1267.7,1145.7 L1268.1,1137.3 L1268.6,1145.7 L1269.1,1139.9 L1269.5,1147.5 L1270,1147 L1270.4,1142.1 L1270.9,1148.5 L1271.4,1140.3 L1271.8,1139.4 L1272.3,1141.8 L1272.7,1147.6 L1273.2,1142.8 L1273.7,1141.6 L1274.1,1146.1 L1274.6,1141.7 L1275,1147.7 L1275.5,1141.5 L1276,1148.2 L1276.4,1144.8 L1276.9,1141.6 L1277.3,1138.1 L1277.8,1144.8 L1278.3,1150 L1278.7,1154.8 L1279.2,1146.8 L1279.6,1152.7 L1280.1,1150.2 L1280.6,1147.3 L1281,1145.3 L1281.5,1151.6 L1281.9,1148.6 L1282.4,1146 L1282.9,1152.4 L1283.3,1154.9 L1283.8,1144.3 L1284.2,1150.4 L1284.7,1140.5 L1285.2,1144.5 L1285.6,1156.4 L1286.1,1141.9 L1286.5,1154.1 L1287,1146 L1287.5,1154.8 L1287.9,1142.3 L1288.4,1144.8 L1288.8,1141.7 L1289.3,1146 L1289.8,1152.1 L1290.2,1148.7 L1290.7,1141.7 L1291.1,1151.5 L1291.6,1150.3 L1292.1,1137.2 L1292.5,1144.5 L1293,1148 L1293.4,1143.1 L1293.9,1146.7 L1294.4,1150.3 L1294.8,1147.1 L1295.3,1148.6 L1295.7,1138.5 L1296.2,1148.1 L1296.7,1137.9 L1297.1,1142.9 L1297.6,1141.5 L1298,1147.3 L1298.5,1143 L1299,1146.7 L1299.4,1135.9 L1299.9,1144.6 L1300.3,1145.2 L1300.8,1134.7 L1301.3,1138.3 L1301.7,1149.2 L1302.2,1143.5 L1302.6,1141.5 L1303.1,1138.5 L1303.6,1144.2 L1304,1139.2 L1304.5,1146.3 L1304.9,1138.3 L1305.4,1144.8 L1305.9,1136.7 L1306.3,1144.1 L1306.8,1141.9 L1307.2,1147.7 L1307.7,1140.4 L1308.2,1145.2 L1308.6,1141.7 L1309.1,1137.4 L1309.5,1144.6 L1310,1133.5 L1310.5,1139.1 L1310.9,1142.3 L1311.4,1142.3 L1311.8,1138.9 L1312.3,1134.8 L1312.8,1143.2 L1313.2,1139.1 L1313.7,1140.9 L1314.1,1144.8 L1314.6,1147.6 L1315.1,1144.2 L1315.5,1145.9 L1316,1151.8 L1316.4,1147.1 L1316.9,1151 L1317.4,1148.2 L1317.8,1144.5 L1318.3,1148.2 L1318.7,1149.1 L1319.2,1149.3 L1319.7,1148.8 L1320.1,1151.9 L1320.6,1148 L1321,1146.3 L1321.5,1148.6 L1322,1148.3 L1322.4,1145.7 L1322.9,1142.7 L1323.3,1142.8 L1323.8,1145.2 L1324.3,1143.4 L1324.7,1139.8 L1325.2,1143.7 L1325.6,1147.5 L1326.1,1143.5 L1326.6,1138.4 L1327,1144.9 L1327.5,1148.4 L1327.9,1152.1 L1328.4,1147.5 L1328.9,1147.4 L1329.3,1144.6 L1329.8,1145.2 L1330.2,1141.1 L1330.7,1141.8 L1331.2,1143.1 L1331.6,1142.3 L1332.1,1148.3 L1332.5,1145.2 L1333,1145.2 L1333.5,1136.8 L1333.9,1142.3 L1334.4,1136.7 L1334.8,1144 L1335.3,1142.8 L1335.8,1151.7 L1336.2,1143.1 L1336.7,1145.8 L1337.1,1136.4 L1337.6,1140.6 L1338.1,1142.2 L1338.5,1142.1 L1339,1144.4 L1339.4,1139.5 L1339.9,1151.3 L1340.4,1151.2 L1340.8,1138.8 L1341.3,1144.2 L1341.7,1138.2 L1342.2,1140.5 L1342.7,1143.3 L1343.1,1151.5 L1343.6,1150.4 L1344,1142.1 L1344.5,1151.1 L1345,1140.8 L1345.4,1143.8 L1345.9,1140.5 L1346.3,1147.5 L1346.8,1137.4 L1347.3,1144.8 L1347.7,1145 L1348.2,1148.3 L1348.6,1140.8 L1349.1,1150.3 L1349.6,1151 L1350,1144.3 L1350.5,1137.7 L1350.9,1143.3 L1351.4,1151.9 L1351.9,1151.7 L1352.3,1147.5 L1352.8,1147.7 L1353.2,1141.6 L1353.7,1142.8 L1354.2,1141.7 L1354.6,1137.4 L1355.1,1141.6 L1355.5,1147.8 L1356,1142.5 L1356.5,1139.2 L1356.9,1149.2 L1357.4,1144.5 L1357.8,1136.5 L1358.3,1142.8 L1358.8,1147 L1359.2,1140.2 L1359.7,1144.6 L1360.1,1143.9 L1360.6,1147.5 L1361.1,1138.6 L1361.5,1144.1 L1362,1137.4 L1362.4,1137.1 L1362.9,1140.5 L1363.4,1143.5 L1363.8,1146.2 L1364.3,1141 L1364.7,1141.3 L1365.2,1141 L1365.7,1149.7 L1366.1,1140.9 L1366.6,1139.3 L1367,1138.6 L1367.5,1141.8 L1368,1146.5 L1368.4,1150.3 L1368.9,1148 L1369.3,1142.5 L1369.8,1148.4 L1370.3,1138.3 L1370.7,1147.3 L1371.2,1145.7 L1371.6,1149 L1372.1,1141.5 L1372.6,1144.4 L1373,1151.5 L1373.5,1141.9 L1373.9,1146.5 L1374.4,1147.6 L1374.9,1143.6 L1375.3,1151.6 L1375.8,1142.1 L1376.2,1146.3 L1376.7,1145.9 L1377.2,1153.1 L1377.6,1148.8 L1378.1,1142.2 L1378.5,1149.7 L1379,1144.1 L1379.5,1139.4 L1379.9,1143.8 L1380.4,1147.8 L1380.8,1146.3 L1381.3,1141.5 L1381.8,1138.3 L1382.2,1144.1 L1382.7,1150.5 L1383.1,1144.2 L1383.6,1150.2 L1384.1,1142.7 L1384.5,1152.8 L1385,1144.4 L1385.4,1152.2 L1385.9,1148.5 L1386.4,1147.1 L1386.8,1151.4 L1387.3,1149 L1387.7,1140.3 L1388.2,1137.9 L1388.7,1145.8 L1389.1,1146.1 L1389.6,1143 L1390,1143 L1390.5,1152.5 L1391,1142.6 L1391.4,1152.5 L1391.9,1149.7 L1392.3,1139.6 L1392.8,1149.9 L1393.3,1151.1 L1393.7,1144.7 L1394.2,1138.2 L1394.6,1150.3 L1395.1,1146 L1395.6,1144.2 L1396,1146.2 L1396.5,1144.4 L1396.9,1145.2 L1397.4,1152.6 L1397.9,1145.8 L1398.3,1150.7 L1398.8,1144.2 L1399.2,1147.5 L1399.7,1150.4 L1400.2,1150.4 L1400.6,1144 L1401.1,1155 L1401.5,1153.4 L1402,1150.3 L1402.5,1140.6 L1402.9,1152.9 L1403.4,1145.9 L1403.8,1148 L1404.3,1151.9 L1404.8,1154.9 L1405.2,1151.6 L1405.7,1144.4 L1406.1,1149.4 L1406.6,1147.4 L1407.1,1146.9 L1407.5,1143.8 L1408,1139.6 L1408.4,1151.2 L1408.9,1140.1 L1409.4,1152 L1409.8,1143.4 L1410.3,1145.9 L1410.7,1145.7 L1411.2,1143.8 L1411.7,1142 L1412.1,1138.9 L1412.6,1143.8 L1413,1143.7 L1413.5,1145.5 L1414,1146.9 L1414.4,1146.6 L1414.9,1150 L1415.3,1139.3 L1415.8,1146.8 L1416.3,1147.5 L1416.7,1141.7 L1417.2,1140.5 L1417.6,1140.9 L1418.1,1149.4 L1418.6,1143.9 L1419,1143.8 L1419.5,1141.6 L1419.9,1144.3 L1420.4,1144.6 L1420.9,1143.4 L1421.3,1150.3 L1421.8,1150.5 L1422.2,1140.2 L1422.7,1147.6 L1423.2,1145.3 L1423.6,1145.9 L1424.1,1138.9 L1424.5,1145.5 L1425,1151.2 L1425.5,1150.2 L1425.9,1148.7 L1426.4,1144.8 L1426.8,1138.5 L1427.3,1141.4 L1427.8,1144 L1428.2,1150.8 L1428.7,1139 L1429.1,1141 L1429.6,1149.8 L1430.1,1145.4 L1430.5,1147 L1431,1142.8 L1431.4,1148.7 L1431.9,1147.8 L1432.4,1142.4 L1432.8,1145.3 L1433.3,1150.2 L1433.7,1147.8 L1434.2,1154.6 L1434.7,1154.8 L1435.1,1144.8 L1435.6,1152.4 L1436,1149.8 L1436.5,1150.2 L1437,1144.8 L1437.4,1154.4 L1437.9,1145 L1438.3,1149.6 L1438.8,1149.6 L1439.3,1151.9 L1439.7,1156.3 L1440.2,1146.4 L1440.6,1143 L1441.1,1147.8 L1441.6,1144.1 L1442,1149.6 L1442.5,1151.8 L1442.9,1142.6 L1443.4,1151.3 L1443.9,1145.4 L1444.3,1145.7 L1444.8,1149 L1445.2,1152.2 L1445.7,1146.4 L1446.2,1147.8 L1446.6,1154.4 L1447.1,1151.5 L1447.5,1153.5 L1448,1143.8 L1448.5,1154.3 L1448.9,1151.6 L1449.4,1147.2 L1449.8,1144.1 L1450.3,1150.5 L1450.8,1152.2 L1451.2,1149.3 L1451.7,1143.3 L1452.1,1145.7 L1452.6,1145.4 L1453.1,1144.3 L1453.5,1139 L1454,1144.1 L1454.4,1150.8 L1454.9,1148.6 L1455.4,1144.3 L1455.8,1144.4 L1456.3,1149.7 L1456.7,1148.5 L1457.2,1142.4 L1457.7,1150.9 L1458.1,1145.7 L1458.6,1148.8 L1459,1144.7 L1459.5,1145.5 L1460,1144.5 L1460.4,1139.2 L1460.9,1148.7 L1461.3,1144.9 L1461.8,1149.3 L1462.3,1146.3 L1462.7,1146.6 L1463.2,1149.2 L1463.6,1149 L1464.1,1143.6 L1464.6,1148 L1465,1145.4 L1465.5,1144.2 L1465.9,1148.3 L1466.4,1146.1 L1466.9,1145.1 L1467.3,1153.2 L1467.8,1147.4 L1468.2,1146.3 L1468.7,1149.5 L1469.2,1148 L1469.6,1142.9 L1470.1,1146.5 L1470.5,1150.8 L1471,1141.4 L1471.5,1144.1 L1471.9,1143.1 L1472.4,1150.1 L1472.8,1147.9 L1473.3,1145.5 L1473.8,1145.9 L1474.2,1140.1 L1474.7,1144.2 L1475.1,1150.3 L1475.6,1141.7 L1476.1,1145.2 L1476.5,1148.7 L1477,1148.8 L1477.4,1150.4 L1477.9,1139.8 L1478.4,1146.8 L1478.8,1148.1 L1479.3,1145.4 L1479.7,1146.6 L1480.2,1139.4 L1480.7,1141.5 L1481.1,1151.8 L1481.6,1152.4 L1482,1141.3 L1482.5,1144.4 L1483,1149.1 L1483.4,1141.9 L1483.9,1147.9 L1484.3,1142.6 L1484.8,1142.3 L1485.3,1146.5 L1485.7,1140.9 L1486.2,1147.1 L1486.6,1150.3 L1487.1,1146.5 L1487.6,1143.4 L1488,1147.1 L1488.5,1140.8 L1488.9,1138.9 L1489.4,1140 L1489.9,1146 L1490.3,1144 L1490.8,1152.7 L1491.2,1139.1 L1491.7,1145.6 L1492.2,1149.3 L1492.6,1148.1 L1493.1,1144.3 L1493.5,1141.9 L1494,1142 L1494.5,1149.9 L1494.9,1143.6 L1495.4,1151.6 L1495.8,1148.8 L1496.3,1142.8 L1496.8,1149.9 L1497.2,1145.6 L1497.7,1140.8 L1498.1,1140.5 L1498.6,1146.9 L1499.1,1145 L1499.5,1138.7 L1500,1148.1 L1500.4,1142.7 L1500.9,1143.8 L1501.4,1141.6 L1501.8,1143.6 L1502.3,1145.3 L1502.7,1152.1 L1503.2,1142.2 L1503.7,1145.8 L1504.1,1151.6 L1504.6,1154 L1505,1146.5 L1505.5,1140.4 L1506,1147.7 L1506.4,1145.6 L1506.9,1147.3 L1507.3,1149.9 L1507.8,1148.4 L1508.3,1146.4 L1508.7,1150.3 L1509.2,1149.6 L1509.6,1140.8 L1510.1,1145.7 L1510.6,1140.1 L1511,1144.8 L1511.5,1142.6 L1511.9,1147.5 L1512.4,1143.8 L1512.9,1149.6 L1513.3,1143.7 L1513.8,1144.6 L1514.2,1145.6 L1514.7,1146.2 L1515.2,1144.8 L1515.6,1144.8 L1516.1,1138.9 L1516.5,1145.3 L1517,1143 L1517.5,1147.5 L1517.9,1144 L1518.4,1142.5 L1518.8,1143.1 L1519.3,1150.4 L1519.8,1139.1 L1520.2,1146.8 L1520.7,1147.2 L1521.1,1139.8 L1521.6,1149.7 L1522.1,1146.3 L1522.5,1148.6 L1523,1145.4 L1523.4,1147.8 L1523.9,1149.8 L1524.4,1151.7 L1524.8,1147.1 L1525.3,1153.5 L1525.7,1154 L1526.2,1144.7 L1526.7,1144.2 L1527.1,1143.5 L1527.6,1139.3 L1528,1147.2 L1528.5,1152.5 L1529,1141.2 L1529.4,1153.7 L1529.9,1152.7 L1530.3,1150.6 L1530.8,1148.7 L1531.3,1145.8 L1531.7,1146.4 L1532.2,1147.6 L1532.6,1146.6 L1533.1,1149 L1533.6,1146.5 L1534,1152.4 L1534.5,1154.6 L1534.9,1144.6 L1535.4,1140.3 L1535.9,1147.8 L1536.3,1145.5 L1536.8,1142.5 L1537.2,1145.6 L1537.7,1147.5 L1538.2,1153.9 L1538.6,1154 L1539.1,1142 L1539.5,1146.6 L1540,1151.7 L1540.5,1145.3 L1540.9,1152.4 L1541.4,1154.3 L1541.8,1141.8 L1542.3,1144.8 L1542.8,1149.9 L1543.2,1150.8 L1543.7,1147.5 L1544.1,1142.8 L1544.6,1142.8 L1545.1,1147.4 L1545.5,1150.2 L1546,1146.9 L1546.4,1141 L1546.9,1142.9 L1547.4,1142.7 L1547.8,1152.2 L1548.3,1141.4 L1548.7,1145.2 L1549.2,1147 L1549.7,1149.7 L1550.1,1138 L1550.6,1150.2 L1551,1148.3 L1551.5,1150.8 L1552,1138.6 L1552.4,1140 L1552.9,1142.8 L1553.3,1146.3 L1553.8,1144.9 L1554.3,1144.9 L1554.7,1144.6 L1555.2,1136.1 L1555.6,1142.7 L1556.1,1144.2 L1556.6,1146.3 L1557,1144.4 L1557.5,1137.2 L1557.9,1150.6 L1558.4,1143.6 L1558.9,1138.4 L1559.3,1142.3 L1559.8,1141.6 L1560.2,1142.7 L1560.7,1142.9 L1561.2,1141.5 L1561.6,1151.2 L1562.1,1139.4 L1562.5,1149.1 L1563,1147.5 L1563.5,1142.7 L1563.9,1148.1 L1564.4,1139.3 L1564.8,1152.3 L1565.3,1142.5 L1565.8,1152.1 L1566.2,1152.8 L1566.7,1144.1 L1567.1,1144.9 L1567.6,1144.5 L1568.1,1139.8 L1568.5,1146.8 L1569,1142.2 L1569.4,1140.4 L1569.9,1146.6 L1570.4,1149.6 L1570.8,1142.4 L1571.3,1140.6 L1571.7,1139.9 L1572.2,1139.5 L1572.7,1147.7 L1573.1,1146.2 L1573.6,1147.1 L1574,1142.1 L1574.5,1144.6 L1575,1144.7 L1575.4,1136.9 L1575.9,1144.3 L1576.3,1141.2 L1576.8,1145.5 L1577.3,1139.8 L1577.7,1151.7 L1578.2,1141.1 L1578.6,1151.5 L1579.1,1143.4 L1579.6,1147.4 L1580,1143.7 L1580.5,1144.4 L1580.9,1141.5 L1581.4,1137.9 L1581.9,1152.2 L1582.3,1145.7 L1582.8,1142.1 L1583.2,1142.4 L1583.7,1151.2 L1584.2,1146.5 L1584.6,1149.6 L1585.1,1142.3 L1585.5,1142.2 L1586,1148.3 L1586.5,1138.4 L1586.9,1145.6 L1587.4,1141.9 L1587.8,1144.5 L1588.3,1145.7 L1588.8,1146.6 L1589.2,1151.3 L1589.7,1144.9 L1590.1,1148.4 L1590.6,1150.8 L1591.1,1143 L1591.5,1141.9 L1592,1141.9 L1592.4,1143.1 L1592.9,1150.5 L1593.4,1147.2 L1593.8,1138.4 L1594.3,1143.6 L1594.7,1142.7 L1595.2,1146.8 L1595.7,1148.3 L1596.1,1135.1 L1596.6,1137.1 L1597,1137.7 L1597.5,1144.1 L1598,1141.3 L1598.4,1143.1 L1598.9,1142.2 L1599.3,1134.2 L1599.8,1136.9 L1600.3,1147.1 L1600.7,1140.7 L1601.2,1140.9 L1601.6,1146 L1602.1,1143.5 L1602.6,1130.4 L1603,1134.3 L1603.5,1134 L1603.9,1135.9 L1604.4,1140.3 L1604.9,1136.3 L1605.3,1139.9 L1605.8,1142.1 L1606.2,1130.3 L1606.7,1136 L1607.2,1137.3 L1607.6,1136.6 L1608.1,1131.5 L1608.5,1130.2 L1609,1125.6 L1609.5,1129.8 L1609.9,1126.5 L1610.4,1131.6 L1610.8,1133.4 L1611.3,1124.9 L1611.8,1127.2 L1612.2,1127 L1612.7,1126.6 L1613.1,1119.9 L1613.6,1124.1 L1614.1,1125.3 L1614.5,1119.8 L1615,1125.6 L1615.4,1113 L1615.9,1117.8 L1616.4,1116.2 L1616.8,1118.2 L1617.3,1115.6 L1617.7,1113.1 L1618.2,1115.9 L1618.7,1107.5 L1619.1,1118.5 L1619.6,1118.5 L1620,1107 L1620.5,1110.5 L1621,1108.3 L1621.4,1110.5 L1621.9,1115.8 L1622.3,1112.3 L1622.8,1113.3 L1623.3,1111.1 L1623.7,1119.3 L1624.2,1113.7 L1624.6,1105.7 L1625.1,1119.8 L1625.6,1106.7 L1626,1116.1 L1626.5,1106.1 L1626.9,1117.8 L1627.4,1118.2 L1627.9,1118.1 L1628.3,1118.6 L1628.8,1116.9 L1629.2,1109.9 L1629.7,1114.7 L1630.2,1117.1 L1630.6,1119.2 L1631.1,1115.2 L1631.5,1128.1 L1632,1118.7 L1632.5,1127.7 L1632.9,1126.6 L1633.4,1122.8 L1633.8,1124.1 L1634.3,1133.5 L1634.8,1128.2 L1635.2,1134.6 L1635.7,1135.7 L1636.1,1136.4 L1636.6,1128.9 L1637.1,1133.7 L1637.5,1138.5 L1638,1135.5 L1638.4,1131 L1638.9,1133.2 L1639.4,1132 L1639.8,1135.3 L1640.3,1132.8 L1640.7,1129.7 L1641.2,1130.6 L1641.7,1131.6 L1642.1,1140.6 L1642.6,1145.2 L1643,1139.4 L1643.5,1134.9 L1644,1138.5 L1644.4,1137.4 L1644.9,1141.7 L1645.3,1135.3 L1645.8,1139.4 L1646.3,1148.6 L1646.7,1139.8 L1647.2,1142.4 L1647.6,1145.4 L1648.1,1149.7 L1648.6,1135.3 L1649,1142.9 L1649.5,1143.7 L1649.9,1147.3 L1650.4,1141.3 L1650.9,1150.4 L1651.3,1148.4 L1651.8,1146.6 L1652.2,1139.1 L1652.7,1136.7 L1653.2,1142.3 L1653.6,1143.7 L1654.1,1147.6 L1654.5,1137.2 L1655,1144.3 L1655.5,1137.4 L1655.9,1139.6 L1656.4,1147.4 L1656.8,1146.4 L1657.3,1147.1 L1657.8,1142.6 L1658.2,1144.6 L1658.7,1147.5 L1659.1,1146 L1659.6,1137.5 L1660.1,1141.2 L1660.5,1144.6 L1661,1142 L1661.4,1145.9 L1661.9,1143.5 L1662.4,1146.3 L1662.8,1137.8 L1663.3,1145.2 L1663.7,1149.8 L1664.2,1143.6 L1664.7,1140.3 L1665.1,1144.6 L1665.6,1138.1 L1666,1149.6 L1666.5,1149.8 L1667,1138.4 L1667.4,1145.8 L1667.9,1148.3 L1668.3,1141 L1668.8,1146.9 L1669.3,1142.1 L1669.7,1147.3 L1670.2,1148.8 L1670.6,1145 L1671.1,1139.3 L1671.6,1144.8 L1672,1143.7 L1672.5,1144.8 L1672.9,1142.9 L1673.4,1153.9 L1673.9,1147.2 L1674.3,1146.6 L1674.8,1149.6 L1675.2,1147.5 L1675.7,1152 L1676.2,1144.8 L1676.6,1148.1 L1677.1,1146.8 L1677.5,1148.3 L1678,1144.2 L1678.5,1151.4 L1678.9,1148.2 L1679.4,1144 L1679.8,1149.7 L1680.3,1142.1 L1680.8,1145.9 L1681.2,1149.9 L1681.7,1145.6 L1682.1,1146.8 L1682.6,1153.9 L1683.1,1147.9 L1683.5,1144.9 L1684,1144.6 L1684.4,1145.3 L1684.9,1151.2 L1685.4,1151.4 L1685.8,1145.1 L1686.3,1149.7 L1686.7,1152 L1687.2,1147.7 L1687.7,1140.9 L1688.1,1144.5 L1688.6,1143 L1689,1149.9 L1689.5,1139.8 L1690,1139.4 L1690.4,1144.9 L1690.9,1152.8 L1691.3,1149 L1691.8,1151.9 L1692.3,1143.3 L1692.7,1152.2 L1693.2,1139.9 L1693.6,1148.8 L1694.1,1146.6 L1694.6,1146.8 L1695,1147.3 L1695.5,1152.9 L1695.9,1149.8 L1696.4,1142.7 L1696.9,1154.3 L1697.3,1150.8 L1697.8,1152.1 L1698.2,1149.1 L1698.7,1142.1 L1699.2,1148.3 L1699.6,1146 L1700.1,1147.6 L1700.5,1149.2 L1701,1144.1 L1701.5,1139.2 L1701.9,1148.5 L1702.4,1147.8 L1702.8,1142.5 L1703.3,1145.3 L1703.8,1146.2 L1704.2,1147.3 L1704.7,1148.2 L1705.1,1147.7 L1705.6,1141.9 L1706.1,1140.3 L1706.5,1141.3 L1707,1147.4 L1707.4,1145.4 L1707.9,1150.8 L1708.4,1145.5 L1708.8,1148.3 L1709.3,1144.6 L1709.7,1140.2 L1710.2,1148 L1710.7,1146.5 L1711.1,1148.2 L1711.6,1150.6 L1712,1149.6 L1712.5,1144.8 L1713,1153.7 L1713.4,1143.8 L1713.9,1146 L1714.3,1147 L1714.8,1148.8 L1715.3,1148.4 L1715.7,1140.9 L1716.2,1151.3 L1716.6,1140.3 L1717.1,1146.5 L1717.6,1150.4 L1718,1142.1 L1718.5,1140 L1718.9,1146.7 L1719.4,1143.6 L1719.9,1149.9 L1720.3,1150.6 L1720.8,1140.1 L1721.2,1139.3 L1721.7,1148.2 L1722.2,1145.3 L1722.6,1143.7 L1723.1,1149 L1723.5,1148.3 L1724,1138.3 L1724.5,1143.6 L1724.9,1145.5 L1725.4,1152.1 L1725.8,1146.4 L1726.3,1143.4 L1726.8,1137.5 L1727.2,1151.8 L1727.7,1148.4 L1728.1,1144.9 L1728.6,1151.3 L1729.1,1147.5 L1729.5,1139.3 L1730,1140 L1730.4,1143.9 L1730.9,1138.9 L1731.4,1147.5 L1731.8,1143.5 L1732.3,1150.1 L1732.7,1142.8 L1733.2,1147.1 L1733.7,1147.2 L1734.1,1143.5 L1734.6,1137.7 L1735,1145.5 L1735.5,1144.6 L1736,1147.7 L1736.4,1145.1 L1736.9,1143.9 L1737.3,1145.5 L1737.8,1149.3 L1738.3,1154 L1738.7,1151.2 L1739.2,1147.7 L1739.6,1140.6 L1740.1,1151.2" fill="none" stroke="#0000ff" stroke-width="9.9" stroke-linejoin="round" stroke-linecap="round"/><path d="M226.6,1083.2 V1170 H1744.8 V1151.2 H1735.3 V1161.4 H236.1 V1083.2 Z" fill="#0000ff"/>
<path d="M102.2,1298.2 L102.2,1227.7 L106.3,1228.4 L110.5,1229.1 L114.6,1229.8 L118.8,1230.7 L122.9,1231.6 L127,1232.5 L131.2,1233.5 L135.3,1234.4 L139.5,1235.3 L143.6,1236.3 L147.7,1237.3 L151.9,1238.2 L156,1239.2 L160.2,1240.2 L164.3,1241.1 L168.4,1242 L172.6,1242.8 L176.7,1243.6 L180.9,1244.4 L185,1245.2 L189.1,1246.1 L193.3,1246.8 L197.4,1247.2 L201.6,1247.6 L205.7,1248 L209.8,1248.4 L214,1248.8 L218.1,1249.2 L222.3,1249.6 L226.4,1250 L230.5,1250.4 L234.7,1250.8 L238.8,1251.2 L243,1251.5 L247.1,1251.9 L251.2,1252.7 L255.4,1253.5 L259.5,1254.3 L263.7,1255.1 L267.8,1255.9 L271.9,1256.7 L276.1,1257.1 L280.2,1257.4 L284.4,1257.7 L288.5,1258.1 L292.6,1258.4 L296.8,1258.7 L300.9,1259 L305.1,1259.3 L309.2,1259.4 L313.3,1259.6 L317.5,1259.7 L321.6,1259.8 L325.8,1259.9 L329.9,1260.1 L334,1260.2 L338.2,1260.3 L342.3,1260.4 L346.5,1260.6 L350.6,1260.7 L354.7,1260.8 L358.9,1261 L363,1261.1 L367.2,1261.2 L371.3,1261.4 L375.4,1261.5 L379.6,1261.7 L383.7,1261.9 L387.9,1262 L392,1262.3 L396.1,1262.7 L400.3,1263 L404.4,1263.4 L408.6,1263.7 L412.7,1264.1 L416.8,1264.6 L421,1265 L425.1,1265.5 L429.3,1265.9 L433.4,1266.4 L437.5,1266.8 L441.7,1267.2 L445.8,1267.6 L450,1268 L454.1,1268.4 L458.2,1268.7 L462.4,1269.1 L466.5,1269.3 L470.7,1269.4 L474.8,1269.5 L478.9,1269.6 L483.1,1269.7 L487.2,1269.7 L491.4,1269.6 L495.5,1269.5 L499.6,1269.4 L503.8,1269.4 L507.9,1269.3 L512.1,1269.3 L516.2,1269.3 L520.3,1269.4 L524.5,1269.4 L528.6,1269.4 L532.8,1269.7 L536.9,1269.9 L541,1270.1 L545.2,1270.4 L549.3,1270.6 L553.5,1270.7 L557.6,1270.9 L561.7,1271 L565.9,1271.1 L570,1271.3 L574.2,1271.4 L578.3,1271.5 L582.4,1271.8 L586.6,1272.1 L590.7,1272.4 L594.9,1272.7 L599,1272.9 L603.1,1273.2 L607.3,1273.5 L611.4,1273.7 L615.6,1273.9 L619.7,1274.4 L623.8,1274.8 L628,1275.2 L632.1,1275.6 L636.3,1276 L640.4,1276.4 L644.5,1276.7 L648.7,1276.8 L652.8,1276.8 L657,1276.9 L661.1,1276.9 L665.2,1277 L669.4,1276.8 L673.5,1276.5 L677.7,1276.2 L681.8,1276 L685.9,1275.7 L690.1,1275.4 L694.2,1275 L698.4,1274.6 L702.5,1274.3 L706.6,1274 L710.8,1273.7 L714.9,1273.2 L719.1,1272.7 L721.8,1272.3 L722.3,1272.3 L722.7,1272.2 L723.2,1272.1 L723.7,1272.1 L724.1,1272 L724.6,1271.9 L725,1271.8 L725.5,1271.8 L726,1271.7 L726.4,1271.6 L726.9,1271.6 L727.3,1271.5 L727.8,1271.4 L728.3,1271.3 L728.7,1271.2 L729.2,1271.1 L729.6,1271 L730.1,1270.9 L730.6,1270.8 L731,1270.6 L731.5,1270.5 L731.9,1270.3 L732.4,1270.2 L732.9,1270 L733.3,1269.8 L733.8,1269.7 L734.2,1269.5 L734.7,1269.3 L735.2,1269 L735.6,1268.8 L736.1,1268.6 L736.5,1268.3 L737,1268.1 L737.5,1267.8 L737.9,1267.5 L738.4,1267.2 L738.8,1266.9 L739.3,1266.6 L739.8,1266.3 L740.2,1265.9 L740.7,1265.6 L741.1,1265.2 L741.6,1264.8 L742.1,1264.4 L742.5,1264 L743,1263.5 L743.4,1263.1 L743.9,1262.6 L744.4,1262.1 L744.8,1261.5 L745.3,1260.7 L745.7,1259.8 L746.2,1258.7 L746.7,1257.5 L747.1,1256.2 L747.6,1254.7 L748,1253 L748.5,1251.2 L749,1249.2 L749.4,1247 L749.9,1244.7 L750.3,1242.2 L750.8,1239.5 L751.3,1236.6 L751.7,1233.6 L752.2,1230.4 L752.6,1226 L753.1,1219.1 L753.6,1211 L754,1202.8 L754.5,1195.1 L754.9,1187.3 L755.4,1179 L755.9,1169.9 L756.3,1159.5 L756.8,1147.2 L757.2,1131.7 L757.7,1113.4 L758.2,1093.3 L758.6,1072.2 L759.1,1050.7 L759.5,1027 L760,1001.3 L760.5,974.7 L760.9,948.6 L761.4,923.9 L761.8,901.8 L762.3,881.8 L762.8,861.7 L763.2,839 L763.7,812.7 L764.1,786.7 L764.6,765.3 L765.1,749 L765.5,735 L766,721.9 L766.4,710.7 L766.9,724.2 L767.4,737.4 L767.8,751.7 L768.3,768.7 L768.7,791.2 L769.2,817.5 L769.7,843.4 L770.1,865.5 L770.6,885.5 L771,905.7 L771.5,928.3 L772,953.4 L772.4,979.7 L772.9,1006.2 L773.3,1031.7 L773.8,1055 L774.3,1076.4 L774.7,1097.4 L775.2,1117.3 L775.6,1135.1 L776.1,1150.1 L776.6,1162 L777,1172.2 L777.5,1181.1 L777.9,1189.3 L778.4,1197.1 L778.9,1204.9 L779.3,1213.2 L779.8,1221.2 L780.2,1227.8 L780.7,1231.8 L781.2,1235 L781.6,1238 L782.1,1240.9 L782.5,1243.6 L783,1246.1 L783.5,1248.4 L783.9,1250.5 L784.4,1252.5 L784.8,1254.4 L785.3,1256 L785.8,1257.6 L786.2,1258.9 L786.7,1260.1 L787.1,1261.2 L787.6,1262.1 L788.1,1262.9 L788.5,1263.5 L789,1264 L789.4,1264.5 L789.9,1265 L790.4,1265.4 L790.8,1265.9 L791.3,1266.3 L791.7,1266.7 L792.2,1267.1 L792.7,1267.5 L793.1,1267.9 L793.6,1268.2 L794,1268.6 L794.5,1268.9 L795,1269.2 L795.4,1269.5 L795.9,1269.8 L796.3,1270.1 L796.8,1270.4 L797.3,1270.6 L797.7,1270.9 L798.2,1271.1 L798.6,1271.4 L799.1,1271.6 L799.6,1271.8 L800,1272 L800.5,1272.2 L800.9,1272.4 L801.4,1272.5 L801.9,1272.7 L802.3,1272.9 L802.8,1273 L803.2,1273.1 L803.7,1273.3 L804.2,1273.4 L804.6,1273.5 L805.1,1273.6 L805.5,1273.8 L806,1273.9 L806.5,1274 L806.9,1274.1 L807.4,1274.2 L807.8,1274.3 L808.3,1274.5 L808.8,1274.6 L809.2,1274.7 L809.7,1274.8 L810.1,1274.9 L810.6,1275 L811.1,1275.1 L814.3,1275.8 L818.4,1276.7 L822.6,1277.4 L826.7,1278.1 L830.8,1278.7 L835,1279.1 L839.1,1279.4 L843.3,1279.6 L847.4,1279.9 L851.5,1280.1 L855.7,1280.2 L859.8,1280.4 L864,1280.5 L868.1,1280.7 L872.2,1280.7 L876.4,1280.7 L880.5,1280.6 L884.7,1280.5 L888.8,1280.3 L892,1280.1 L892.5,1280.1 L892.9,1280.1 L893.4,1280 L893.9,1280 L894.3,1280 L894.8,1279.9 L895.2,1279.9 L895.7,1279.9 L896.2,1279.8 L896.6,1279.8 L897.1,1279.7 L897.5,1279.7 L898,1279.6 L898.5,1279.6 L898.9,1279.5 L899.4,1279.5 L899.8,1279.4 L900.3,1279.4 L900.8,1279.3 L901.2,1279.2 L901.7,1279.2 L902.1,1279.1 L902.6,1279 L903.1,1278.9 L903.5,1278.9 L904,1278.8 L904.4,1278.7 L904.9,1278.6 L905.4,1278.5 L905.8,1278.4 L906.3,1278.3 L906.7,1278.2 L907.2,1278.1 L907.7,1278 L908.1,1277.8 L908.6,1277.7 L909,1277.6 L909.5,1277.4 L910,1277.3 L910.4,1277.1 L910.9,1276.9 L911.3,1276.7 L911.8,1276.5 L912.3,1276.3 L912.7,1276.1 L913.2,1275.9 L913.6,1275.6 L914.1,1275.3 L914.6,1275 L915,1274.7 L915.5,1274.3 L915.9,1273.9 L916.4,1273.5 L916.9,1273 L917.3,1272.5 L917.8,1271.9 L918.2,1271.3 L918.7,1270.5 L919.2,1269.8 L919.6,1268.9 L920.1,1267.9 L920.5,1266.8 L921,1265.7 L921.5,1264.4 L921.9,1262.9 L922.4,1261.4 L922.8,1259.6 L923.3,1257.7 L923.8,1255.7 L924.2,1253.4 L924.7,1251 L925.1,1248.4 L925.6,1245.5 L926.1,1242.5 L926.5,1239.3 L927,1235.8 L927.4,1232.1 L927.9,1228.3 L928.4,1224.3 L928.8,1220 L929.3,1215.7 L929.7,1211.2 L930.2,1206.5 L930.7,1201.9 L931.1,1197.1 L931.6,1192.4 L932,1187.7 L932.5,1183.1 L933,1178.7 L933.4,1174.5 L933.9,1170.6 L934.3,1167.1 L934.8,1164.1 L935.3,1161.6 L935.7,1159.6 L936.2,1158.4 L936.6,1157.8 L937.1,1157.9 L937.6,1158.7 L938,1160.2 L938.5,1162.3 L938.9,1164.9 L939.4,1168.1 L939.9,1171.8 L940.3,1175.7 L940.8,1180 L941.2,1184.5 L941.7,1189.1 L942.2,1193.8 L942.6,1198.6 L943.1,1203.3 L943.5,1208 L944,1212.6 L944.5,1217 L944.9,1221.4 L945.4,1225.5 L945.8,1229.5 L946.3,1233.3 L946.8,1236.9 L947.2,1240.3 L947.7,1243.5 L948.1,1246.5 L948.6,1249.2 L949.1,1251.8 L949.5,1254.2 L950,1256.4 L950.4,1258.4 L950.9,1260.3 L951.4,1262 L951.8,1263.5 L952.3,1264.9 L952.7,1266.2 L953.2,1267.4 L953.7,1268.4 L954.1,1269.4 L954.6,1270.2 L955,1271 L955.5,1271.7 L956,1272.3 L956.4,1272.9 L956.9,1273.4 L957.3,1273.9 L957.8,1274.3 L958.3,1274.7 L958.7,1275.1 L959.2,1275.4 L959.6,1275.7 L960.1,1276 L960.6,1276.3 L961,1276.5 L961.5,1276.8 L961.9,1277 L962.4,1277.2 L962.9,1277.4 L963.3,1277.5 L963.8,1277.7 L964.2,1277.9 L964.7,1278 L965.2,1278.2 L965.6,1278.3 L966.1,1278.4 L966.5,1278.6 L967,1278.7 L967.5,1278.8 L967.9,1278.9 L968.4,1279 L968.8,1279.1 L969.3,1279.2 L969.8,1279.3 L970.2,1279.4 L970.7,1279.5 L971.1,1279.6 L971.6,1279.7 L972.1,1279.7 L972.5,1279.8 L973,1279.9 L973.4,1280 L973.9,1280 L974.4,1280.1 L974.8,1280.2 L975.3,1280.2 L975.7,1280.3 L976.2,1280.3 L976.7,1280.4 L977.1,1280.4 L977.6,1280.5 L978,1280.6 L978.5,1280.6 L979,1280.6 L979.4,1280.7 L979.9,1280.7 L980.3,1280.8 L980.8,1280.8 L981.3,1280.9 L981.7,1280.9 L984,1281.1 L988.2,1281.4 L992.3,1281.5 L996.4,1281.7 L1000.6,1281.8 L1004.7,1281.9 L1008.9,1282 L1013,1282 L1017.1,1282.1 L1021.3,1282.1 L1025.4,1282.1 L1029.6,1282.1 L1033.7,1282.1 L1037.8,1282.2 L1042,1282.2 L1046.1,1282.4 L1050.3,1282.5 L1054.4,1282.6 L1058.5,1282.7 L1062.7,1282.8 L1066.8,1282.9 L1071,1283 L1075.1,1283.1 L1079.2,1283.2 L1083.4,1283.3 L1087.5,1283.4 L1091.7,1283.4 L1095.8,1283.4 L1099.9,1283.4 L1104.1,1283.4 L1108.2,1283.4 L1112.4,1283.4 L1116.5,1283.4 L1120.6,1283.3 L1124.8,1283.3 L1128.9,1283.3 L1133.1,1283.3 L1137.2,1283.3 L1141.3,1283.3 L1145.5,1283.3 L1149.6,1283.2 L1153.8,1283.2 L1157.9,1283.2 L1162,1283.1 L1166.2,1283.1 L1170.3,1283.1 L1174.5,1283 L1178.6,1283 L1182.7,1282.9 L1186.9,1282.9 L1191,1282.8 L1195.2,1282.8 L1199.3,1282.7 L1203.4,1282.7 L1207.6,1282.6 L1211.7,1282.6 L1215.9,1282.5 L1220,1282.5 L1224.1,1282.4 L1228.3,1282.4 L1232.4,1282.5 L1236.6,1282.7 L1240.7,1282.9 L1244.8,1283.1 L1249,1283.3 L1253.1,1283.6 L1257.3,1283.8 L1261.4,1284 L1265.5,1284.2 L1269.7,1284.6 L1273.8,1285.1 L1278,1285.7 L1282.1,1285.9 L1286.2,1285.9 L1290.4,1285.9 L1294.5,1286 L1298.7,1286 L1302.8,1286 L1306.9,1286 L1311.1,1286 L1315.2,1286 L1319.4,1286 L1323.5,1286 L1327.6,1286 L1331.8,1286.1 L1335.9,1286.1 L1340.1,1286.1 L1344.2,1286.1 L1348.3,1286.1 L1352.5,1286.1 L1356.6,1286.1 L1360.8,1286.1 L1364.9,1286.1 L1369,1286.1 L1373.2,1286.1 L1377.3,1286.1 L1381.5,1286.1 L1385.6,1286.1 L1389.7,1286 L1393.9,1286 L1398,1286 L1402.2,1286 L1406.3,1285.9 L1410.4,1285.9 L1414.6,1285.9 L1418.7,1285.8 L1422.9,1285.8 L1427,1285.7 L1431.1,1285.6 L1435.3,1285.5 L1439.4,1285.4 L1443.6,1285.3 L1447.2,1285.1 L1447.7,1285.1 L1448.2,1285.1 L1448.6,1285.1 L1449.1,1285 L1449.5,1285 L1450,1285 L1450.5,1285 L1450.9,1284.9 L1451.4,1284.9 L1451.8,1284.9 L1452.3,1284.8 L1452.8,1284.8 L1453.2,1284.7 L1453.7,1284.7 L1454.1,1284.7 L1454.6,1284.6 L1455.1,1284.6 L1455.5,1284.5 L1456,1284.5 L1456.4,1284.4 L1456.9,1284.3 L1457.4,1284.3 L1457.8,1284.2 L1458.3,1284.2 L1458.7,1284.1 L1459.2,1284 L1459.7,1283.9 L1460.1,1283.8 L1460.6,1283.8 L1461,1283.7 L1461.5,1283.6 L1462,1283.5 L1462.4,1283.3 L1462.9,1283.2 L1463.3,1283.1 L1463.8,1283 L1464.3,1282.9 L1464.7,1282.7 L1465.2,1282.6 L1465.6,1282.4 L1466.1,1282.2 L1466.6,1282.1 L1467,1281.9 L1467.5,1281.7 L1467.9,1281.5 L1468.4,1281.3 L1468.9,1281.1 L1469.3,1280.9 L1469.8,1280.7 L1470.2,1280.4 L1470.7,1280.2 L1471.2,1279.9 L1471.6,1279.6 L1472.1,1279.4 L1472.5,1279.1 L1473,1278.8 L1473.5,1278.5 L1473.9,1278.2 L1474.4,1277.8 L1474.8,1277.5 L1475.3,1277.2 L1475.8,1276.8 L1476.2,1276.5 L1476.7,1276.1 L1477.1,1275.7 L1477.6,1275.3 L1478.1,1274.9 L1478.5,1274.5 L1479,1274.1 L1479.4,1273.7 L1479.9,1273.3 L1480.4,1272.9 L1480.8,1272.5 L1481.3,1272.1 L1481.7,1271.7 L1482.2,1271.2 L1482.7,1270.8 L1483.1,1270.4 L1483.6,1270 L1484,1269.6 L1484.5,1269.2 L1485,1268.8 L1485.4,1268.5 L1485.9,1268.1 L1486.3,1267.8 L1486.8,1267.4 L1487.3,1267.1 L1487.7,1266.9 L1488.2,1266.6 L1488.6,1266.4 L1489.1,1266.2 L1489.6,1266 L1490,1265.8 L1490.5,1265.7 L1490.9,1265.6 L1491.4,1265.5 L1491.9,1265.5 L1492.3,1265.5 L1492.8,1265.6 L1493.2,1265.6 L1493.7,1265.7 L1494.2,1265.9 L1494.6,1266 L1495.1,1266.2 L1495.5,1266.4 L1496,1266.7 L1496.5,1266.9 L1496.9,1267.2 L1497.4,1267.5 L1497.8,1267.9 L1498.3,1268.2 L1498.8,1268.6 L1499.2,1268.9 L1499.7,1269.3 L1500.1,1269.7 L1500.6,1270.1 L1501.1,1270.5 L1501.5,1270.9 L1502,1271.3 L1502.4,1271.7 L1502.9,1272.1 L1503.4,1272.6 L1503.8,1273 L1504.3,1273.4 L1504.7,1273.8 L1505.2,1274.2 L1505.7,1274.6 L1506.1,1275 L1506.6,1275.3 L1507,1275.7 L1507.5,1276.1 L1508,1276.5 L1508.4,1276.8 L1508.9,1277.1 L1509.3,1277.5 L1509.8,1277.8 L1510.3,1278.1 L1510.7,1278.4 L1511.2,1278.7 L1511.6,1279 L1512.1,1279.3 L1512.6,1279.6 L1513,1279.8 L1513.5,1280.1 L1513.9,1280.3 L1514.4,1280.6 L1514.9,1280.8 L1515.3,1281 L1515.8,1281.2 L1516.2,1281.4 L1516.7,1281.6 L1517.2,1281.8 L1517.6,1281.9 L1518.1,1282.1 L1518.5,1282.2 L1519,1282.4 L1519.5,1282.5 L1519.9,1282.7 L1520.4,1282.8 L1520.8,1282.9 L1521.3,1283 L1521.8,1283.1 L1522.2,1283.2 L1522.7,1283.3 L1523.1,1283.4 L1523.6,1283.5 L1524.1,1283.6 L1524.5,1283.7 L1525,1283.7 L1525.4,1283.8 L1525.9,1283.9 L1526.4,1283.9 L1526.8,1284 L1527.3,1284.1 L1527.7,1284.1 L1528.2,1284.2 L1528.7,1284.2 L1529.1,1284.3 L1529.6,1284.3 L1530,1284.3 L1530.5,1284.4 L1531,1284.4 L1531.4,1284.5 L1531.9,1284.5 L1532.3,1284.5 L1532.8,1284.5 L1533.3,1284.6 L1533.7,1284.6 L1534.2,1284.6 L1534.6,1284.7 L1535.1,1284.7 L1535.6,1284.7 L1536,1284.7 L1536.5,1284.7 L1536.9,1284.8 L1538.8,1284.8 L1542.9,1285 L1547.1,1285.1 L1551.2,1285.1 L1555.3,1285.2 L1559.5,1285.2 L1563.6,1285.3 L1567.8,1285.6 L1571.9,1286 L1576,1286.5 L1580.2,1286.9 L1584.3,1287.4 L1588.5,1287.8 L1592.6,1288.2 L1596.7,1288.7 L1600.9,1289.1 L1605,1289.5 L1609.2,1290 L1609.6,1298.2 Z" fill="#fff"/><path d="M102.2,1225.5 L102.7,1226.1 L103.1,1229.8 L103.6,1221.4 L104,1223.6 L104.5,1237.2 L105,1234.6 L105.4,1233.3 L105.9,1224.8 L106.3,1223.1 L106.8,1232.6 L107.3,1237.1 L107.7,1229.8 L108.2,1232.8 L108.6,1228.1 L109.1,1228 L109.6,1225.2 L110,1219.5 L110.5,1235.2 L110.9,1226.4 L111.4,1231.5 L111.9,1230.1 L112.3,1236.1 L112.8,1224.9 L113.2,1231.2 L113.7,1230.4 L114.2,1219.4 L114.6,1228 L115.1,1231.3 L115.5,1226.5 L116,1227.1 L116.5,1226.4 L116.9,1234.2 L117.4,1224.2 L117.8,1236.3 L118.3,1238.1 L118.8,1233.1 L119.2,1235.3 L119.7,1234.9 L120.1,1233 L120.6,1232.7 L121.1,1227.7 L121.5,1220.1 L122,1228.1 L122.4,1232.1 L122.9,1228.6 L123.4,1225.3 L123.8,1229.1 L124.3,1239.9 L124.7,1227.6 L125.2,1233.9 L125.7,1229 L126.1,1243.8 L126.6,1239.4 L127,1244.3 L127.5,1225.8 L128,1230.2 L128.4,1235.2 L128.9,1240.3 L129.3,1240.9 L129.8,1230.9 L130.3,1245.7 L130.7,1231.1 L131.2,1236.6 L131.6,1235.3 L132.1,1225.4 L132.6,1235.6 L133,1232.4 L133.5,1227.3 L133.9,1247 L134.4,1229.5 L134.9,1242.4 L135.3,1232.5 L135.8,1230.9 L136.2,1247.6 L136.7,1237.7 L137.2,1243.8 L137.6,1235.7 L138.1,1230.9 L138.5,1232.4 L139,1232.4 L139.5,1245.9 L139.9,1235.7 L140.4,1240.3 L140.8,1236.4 L141.3,1225.8 L141.8,1225.2 L142.2,1244 L142.7,1238.9 L143.1,1229 L143.6,1235.1 L144.1,1242.3 L144.5,1230.6 L145,1235.8 L145.4,1238.1 L145.9,1244.5 L146.4,1230.7 L146.8,1237.8 L147.3,1234.1 L147.7,1237.4 L148.2,1243.3 L148.7,1234.6 L149.1,1233.9 L149.6,1235.9 L150,1250.8 L150.5,1237.7 L151,1232.9 L151.4,1240.5 L151.9,1232.3 L152.3,1247.1 L152.8,1247.3 L153.3,1239.9 L153.7,1239.5 L154.2,1246.3 L154.6,1251.8 L155.1,1245.2 L155.6,1245.9 L156,1232.7 L156.5,1227.9 L156.9,1231.6 L157.4,1227.9 L157.9,1243.1 L158.3,1248.9 L158.8,1252 L159.2,1237.2 L159.7,1252.2 L160.2,1236.6 L160.6,1240.6 L161.1,1244 L161.5,1252.5 L162,1245.7 L162.5,1238.3 L162.9,1252.6 L163.4,1232.7 L163.8,1245.5 L164.3,1237.5 L164.8,1228.6 L165.2,1248.8 L165.7,1243.3 L166.1,1239.6 L166.6,1228.2 L167.1,1238.4 L167.5,1233.7 L168,1236.7 L168.4,1233.2 L168.9,1237 L169.4,1240.1 L169.8,1242 L170.3,1238 L170.7,1239.9 L171.2,1235.4 L171.7,1234.7 L172.1,1236.2 L172.6,1243 L173,1248.8 L173.5,1236.5 L174,1232.6 L174.4,1241.3 L174.9,1239.3 L175.3,1245.9 L175.8,1236 L176.3,1239 L176.7,1250.6 L177.2,1245.7 L177.6,1239.8 L178.1,1233.3 L178.6,1230.2 L179,1252.6 L179.5,1230.8 L179.9,1244.4 L180.4,1238.6 L180.9,1231.9 L181.3,1236.8 L181.8,1250.6 L182.2,1244.2 L182.7,1239.5 L183.2,1248.3 L183.6,1239.1 L184.1,1246.6 L184.5,1258 L185,1238.9 L185.5,1253.2 L185.9,1246.6 L186.4,1241.3 L186.8,1249 L187.3,1255.5 L187.8,1243.9 L188.2,1245.2 L188.7,1249.9 L189.1,1249.2 L189.6,1253.5 L190.1,1244.4 L190.5,1238.9 L191,1237 L191.4,1243.8 L191.9,1249.1 L192.4,1250.3 L192.8,1250.7 L193.3,1251.5 L193.7,1243.5 L194.2,1248.3 L194.7,1249.8 L195.1,1250.3 L195.6,1239.9 L196,1236.7 L196.5,1248.5 L197,1253.3 L197.4,1242.9 L197.9,1257.7 L198.3,1244.6 L198.8,1237.9 L199.3,1246.1 L199.7,1253.1 L200.2,1246.6 L200.6,1249.6 L201.1,1241.6 L201.6,1236.8 L202,1247.5 L202.5,1256.4 L202.9,1252.1 L203.4,1236.7 L203.9,1243.1 L204.3,1249.8 L204.8,1244 L205.2,1257.8 L205.7,1244.2 L206.2,1249.4 L206.6,1252 L207.1,1248.9 L207.5,1242.9 L208,1259.3 L208.5,1255.1 L208.9,1245.3 L209.4,1256.9 L209.8,1243.4 L210.3,1260.7 L210.8,1254.9 L211.2,1245.1 L211.7,1259.2 L212.1,1239.2 L212.6,1256 L213.1,1253.5 L213.5,1240.4 L214,1251.4 L214.4,1256.4 L214.9,1241.5 L215.4,1251.2 L215.8,1253.4 L216.3,1251.5 L216.7,1247.2 L217.2,1244 L217.7,1258 L218.1,1253.8 L218.6,1244.9 L219,1261.8 L219.5,1266 L220,1250.8 L220.4,1245.6 L220.9,1250 L221.3,1242.7 L221.8,1260.7 L222.3,1254.1 L222.7,1245.5 L223.2,1244 L223.6,1244.9 L224.1,1242.6 L224.6,1261 L225,1247.5 L225.5,1256.6 L225.9,1243.4 L226.4,1248.8 L226.9,1241.2 L227.3,1254.1 L227.8,1253.7 L228.2,1260.6 L228.7,1250.1 L229.2,1238.3 L229.6,1247.6 L230.1,1253.3 L230.5,1254.9 L231,1241.3 L231.5,1260.3 L231.9,1242 L232.4,1256.3 L232.8,1243.1 L233.3,1246.8 L233.8,1247.4 L234.2,1242.7 L234.7,1248.2 L235.1,1246.3 L235.6,1254.5 L236.1,1245.7 L236.5,1245.2 L237,1248.4 L237.4,1246.1 L237.9,1251.6 L238.4,1259.7 L238.8,1251.8 L239.3,1240.4 L239.7,1262.7 L240.2,1248.1 L240.7,1241 L241.1,1241.5 L241.6,1253.4 L242,1252.9 L242.5,1251.3 L243,1247.7 L243.4,1251.7 L243.9,1255.4 L244.3,1250.4 L244.8,1250.1 L245.3,1254.4 L245.7,1249.8 L246.2,1249.2 L246.6,1242.5 L247.1,1256.9 L247.6,1247.1 L248,1249.8 L248.5,1250.9 L248.9,1255.1 L249.4,1252.4 L249.9,1254.5 L250.3,1247.6 L250.8,1261.5 L251.2,1251.9 L251.7,1241.9 L252.2,1255.1 L252.6,1249.8 L253.1,1260.7 L253.5,1248.7 L254,1255.1 L254.5,1257.6 L254.9,1252.2 L255.4,1266.3 L255.8,1255.1 L256.3,1254.8 L256.8,1255.7 L257.2,1253.9 L257.7,1247.3 L258.1,1249.1 L258.6,1250.4 L259.1,1262.8 L259.5,1248.1 L260,1271.5 L260.4,1252.4 L260.9,1252 L261.4,1266.8 L261.8,1267 L262.3,1267.6 L262.7,1260.7 L263.2,1264.5 L263.7,1254.6 L264.1,1263.4 L264.6,1256.9 L265,1262.7 L265.5,1263.3 L266,1267.3 L266.4,1260.7 L266.9,1257.6 L267.3,1255.3 L267.8,1257.7 L268.3,1257.7 L268.7,1267.1 L269.2,1265.4 L269.6,1264.1 L270.1,1255.9 L270.6,1272.8 L271,1255.4 L271.5,1263.8 L271.9,1254.9 L272.4,1254.1 L272.9,1264.4 L273.3,1268.8 L273.8,1258.8 L274.2,1264.1 L274.7,1268.6 L275.2,1252.5 L275.6,1268 L276.1,1250.9 L276.5,1261 L277,1268.3 L277.5,1262.2 L277.9,1252.7 L278.4,1260.3 L278.8,1247.8 L279.3,1258.1 L279.8,1249.7 L280.2,1258.7 L280.7,1260.6 L281.1,1254.8 L281.6,1243.8 L282.1,1257.3 L282.5,1262.3 L283,1250.6 L283.4,1248 L283.9,1249.9 L284.4,1244.3 L284.8,1247.9 L285.3,1251.1 L285.7,1262.3 L286.2,1251.4 L286.7,1250 L287.1,1260.4 L287.6,1258.4 L288,1249 L288.5,1253.4 L289,1266.3 L289.4,1254.6 L289.9,1247.5 L290.3,1255.3 L290.8,1258 L291.3,1253.4 L291.7,1256.9 L292.2,1258.3 L292.6,1257.9 L293.1,1256.2 L293.6,1251.6 L294,1253.2 L294.5,1262.3 L294.9,1267.4 L295.4,1261.6 L295.9,1257.5 L296.3,1267.9 L296.8,1270 L297.2,1256.4 L297.7,1259.5 L298.2,1270.4 L298.6,1258.9 L299.1,1260.8 L299.5,1256.4 L300,1255 L300.5,1256.2 L300.9,1249.9 L301.4,1263.8 L301.8,1255.6 L302.3,1264.7 L302.8,1264.9 L303.2,1264.2 L303.7,1251.1 L304.1,1260.6 L304.6,1252.1 L305.1,1258.3 L305.5,1258.2 L306,1253.4 L306.4,1260.5 L306.9,1248.9 L307.4,1263.1 L307.8,1248.8 L308.3,1251.2 L308.7,1261.6 L309.2,1248.8 L309.7,1255.7 L310.1,1258.3 L310.6,1249.9 L311,1257.3 L311.5,1267.2 L312,1265.8 L312.4,1265.1 L312.9,1263.6 L313.3,1261.1 L313.8,1261.2 L314.3,1269.2 L314.7,1265.8 L315.2,1250.6 L315.6,1261.3 L316.1,1260 L316.6,1255.5 L317,1255.8 L317.5,1260.8 L317.9,1254.9 L318.4,1258.4 L318.9,1255.8 L319.3,1257.6 L319.8,1254.9 L320.2,1253.3 L320.7,1270.3 L321.2,1258 L321.6,1268 L322.1,1261.1 L322.5,1259.5 L323,1262.5 L323.5,1264.8 L323.9,1258.5 L324.4,1270 L324.8,1256.7 L325.3,1269 L325.8,1255.6 L326.2,1261.6 L326.7,1264.7 L327.1,1254.4 L327.6,1257.5 L328.1,1257.9 L328.5,1262.1 L329,1261.9 L329.4,1260.2 L329.9,1261.6 L330.4,1256.5 L330.8,1262 L331.3,1265.9 L331.7,1266.9 L332.2,1261.5 L332.7,1266.4 L333.1,1270.4 L333.6,1266.1 L334,1268.6 L334.5,1258.1 L335,1250.7 L335.4,1270.1 L335.9,1261.6 L336.3,1269.4 L336.8,1253.4 L337.3,1254.9 L337.7,1259.4 L338.2,1249.9 L338.6,1259.2 L339.1,1260.1 L339.6,1257.9 L340,1253.6 L340.5,1259.1 L340.9,1261.6 L341.4,1252.5 L341.9,1262.3 L342.3,1252.2 L342.8,1252.9 L343.2,1256.8 L343.7,1258.2 L344.2,1264.9 L344.6,1260.6 L345.1,1262.4 L345.5,1269.6 L346,1250.9 L346.5,1259.5 L346.9,1253 L347.4,1261.1 L347.8,1260.9 L348.3,1270.1 L348.8,1258.3 L349.2,1260.8 L349.7,1256.9 L350.1,1258.3 L350.6,1264.2 L351.1,1266.2 L351.5,1262.7 L352,1261.9 L352.4,1264.8 L352.9,1253.8 L353.4,1262.4 L353.8,1254.8 L354.3,1261 L354.7,1259 L355.2,1266.5 L355.7,1260.7 L356.1,1258.6 L356.6,1264.4 L357,1258.4 L357.5,1261.1 L358,1250.6 L358.4,1267.3 L358.9,1263 L359.3,1267.2 L359.8,1251.9 L360.3,1261.7 L360.7,1266.2 L361.2,1260 L361.6,1267 L362.1,1259.6 L362.6,1249.2 L363,1252.6 L363.5,1253.7 L363.9,1264.7 L364.4,1252.3 L364.9,1259 L365.3,1259.1 L365.8,1257.3 L366.2,1260.2 L366.7,1268.8 L367.2,1260.9 L367.6,1256 L368.1,1261.8 L368.5,1263 L369,1265.5 L369.5,1258.9 L369.9,1259.3 L370.4,1267.8 L370.8,1254.6 L371.3,1254.9 L371.8,1250.1 L372.2,1251.9 L372.7,1260.5 L373.1,1268.4 L373.6,1265.6 L374.1,1261.3 L374.5,1257.4 L375,1265.3 L375.4,1264.9 L375.9,1271.6 L376.4,1262.1 L376.8,1256.9 L377.3,1262.9 L377.7,1261.7 L378.2,1264.8 L378.7,1262.2 L379.1,1257.6 L379.6,1264.4 L380,1272.2 L380.5,1267.7 L381,1264.6 L381.4,1270.8 L381.9,1266.7 L382.3,1267.8 L382.8,1256.6 L383.3,1262.5 L383.7,1267.4 L384.2,1258.6 L384.6,1259.7 L385.1,1258.8 L385.6,1266.8 L386,1265.5 L386.5,1272.5 L386.9,1266.2 L387.4,1263.1 L387.9,1258.3 L388.3,1253 L388.8,1254.7 L389.2,1258.3 L389.7,1262.5 L390.2,1255.3 L390.6,1268 L391.1,1259.7 L391.5,1272 L392,1264.4 L392.5,1253.1 L392.9,1266.8 L393.4,1270.5 L393.8,1260.9 L394.3,1262.2 L394.8,1258.9 L395.2,1263 L395.7,1262.9 L396.1,1265.4 L396.6,1257.8 L397.1,1261.8 L397.5,1265.4 L398,1268.9 L398.4,1258.6 L398.9,1273.5 L399.4,1273.2 L399.8,1257.8 L400.3,1273.4 L400.7,1263.5 L401.2,1264.2 L401.7,1267.3 L402.1,1263 L402.6,1258.6 L403,1262.3 L403.5,1269.2 L404,1264.1 L404.4,1262.1 L404.9,1267.5 L405.3,1266.8 L405.8,1261.7 L406.3,1259.3 L406.7,1259.2 L407.2,1255 L407.6,1265.7 L408.1,1265.5 L408.6,1265.4 L409,1273.6 L409.5,1263.4 L409.9,1261.6 L410.4,1263 L410.9,1259.4 L411.3,1257.9 L411.8,1265 L412.2,1266.2 L412.7,1256.4 L413.2,1263.1 L413.6,1263.4 L414.1,1256.1 L414.5,1264.7 L415,1264.4 L415.5,1256.9 L415.9,1257.1 L416.4,1273.1 L416.8,1272.1 L417.3,1266.4 L417.8,1263 L418.2,1261.5 L418.7,1256.3 L419.1,1257.7 L419.6,1267.5 L420.1,1266.9 L420.5,1268.4 L421,1267.6 L421.4,1268.1 L421.9,1266.7 L422.4,1266 L422.8,1260.3 L423.3,1271.5 L423.7,1263.7 L424.2,1266.8 L424.7,1262.5 L425.1,1270.3 L425.6,1261.3 L426,1265.9 L426.5,1260 L427,1261 L427.4,1257.8 L427.9,1264 L428.3,1264.9 L428.8,1266.6 L429.3,1264.7 L429.7,1270.3 L430.2,1264.1 L430.6,1268.9 L431.1,1262.7 L431.6,1266.6 L432,1255.2 L432.5,1254.3 L432.9,1268 L433.4,1253.4 L433.9,1271.8 L434.3,1258.6 L434.8,1270.5 L435.2,1253 L435.7,1262.6 L436.2,1253.1 L436.6,1272.4 L437.1,1259.2 L437.5,1265.7 L438,1265.2 L438.5,1269.4 L438.9,1261.8 L439.4,1260.6 L439.8,1265.4 L440.3,1265.3 L440.8,1271 L441.2,1262.9 L441.7,1273.9 L442.1,1265.7 L442.6,1262.7 L443.1,1268 L443.5,1268.5 L444,1263.6 L444.4,1259.7 L444.9,1265.5 L445.4,1263.5 L445.8,1264.1 L446.3,1257.3 L446.7,1272.4 L447.2,1269.9 L447.7,1267 L448.1,1278.2 L448.6,1259 L449,1271.3 L449.5,1263.8 L450,1269 L450.4,1272 L450.9,1268.2 L451.3,1272.3 L451.8,1274.1 L452.3,1270.9 L452.7,1268.7 L453.2,1264.5 L453.6,1274.1 L454.1,1279.2 L454.6,1259.3 L455,1274.8 L455.5,1263.7 L455.9,1261.4 L456.4,1258.8 L456.9,1269.6 L457.3,1273.7 L457.8,1275.4 L458.2,1262.9 L458.7,1270.4 L459.2,1265.2 L459.6,1263.7 L460.1,1258.2 L460.5,1263.8 L461,1271.6 L461.5,1265.3 L461.9,1269.9 L462.4,1262.6 L462.8,1259.8 L463.3,1264.1 L463.8,1257.9 L464.2,1263.8 L464.7,1266.6 L465.1,1270.8 L465.6,1270.8 L466.1,1264 L466.5,1271.8 L467,1270.5 L467.4,1268.5 L467.9,1265.4 L468.4,1265.1 L468.8,1277.6 L469.3,1259.6 L469.7,1270.3 L470.2,1269.6 L470.7,1268.1 L471.1,1269.9 L471.6,1274.8 L472,1275.1 L472.5,1266.8 L473,1267.1 L473.4,1270.3 L473.9,1275.4 L474.3,1264.3 L474.8,1281.6 L475.3,1267.4 L475.7,1267.2 L476.2,1264.5 L476.6,1283 L477.1,1272.6 L477.6,1281.8 L478,1274.5 L478.5,1273.2 L478.9,1278.8 L479.4,1270.6 L479.9,1279.1 L480.3,1264.7 L480.8,1272.4 L481.2,1272.4 L481.7,1267.6 L482.2,1267.6 L482.6,1266.7 L483.1,1275.5 L483.5,1272.7 L484,1272.2 L484.5,1274.7 L484.9,1269.2 L485.4,1265.7 L485.8,1276.8 L486.3,1270.9 L486.8,1269.3 L487.2,1276.3 L487.7,1274 L488.1,1269.5 L488.6,1273.8 L489.1,1279.6 L489.5,1273.1 L490,1269.9 L490.4,1267.4 L490.9,1276.9 L491.4,1269.6 L491.8,1276.1 L492.3,1264.2 L492.7,1270.5 L493.2,1274.1 L493.7,1273.7 L494.1,1274.4 L494.6,1266.7 L495,1266.7 L495.5,1271 L496,1268.4 L496.4,1269 L496.9,1266.3 L497.3,1273 L497.8,1278.3 L498.3,1265 L498.7,1276.6 L499.2,1278.4 L499.6,1267.1 L500.1,1276.5 L500.6,1268.1 L501,1276.9 L501.5,1268.3 L501.9,1278.9 L502.4,1270.3 L502.9,1268.4 L503.3,1272.4 L503.8,1272.1 L504.2,1269.9 L504.7,1276.7 L505.2,1271.5 L505.6,1276.3 L506.1,1266.1 L506.5,1278.7 L507,1273.6 L507.5,1269.6 L507.9,1272.6 L508.4,1261.5 L508.8,1270.5 L509.3,1274.7 L509.8,1266.9 L510.2,1261.2 L510.7,1269.2 L511.1,1276.8 L511.6,1274.8 L512.1,1266.5 L512.5,1271.4 L513,1274.8 L513.4,1261.2 L513.9,1269.7 L514.4,1269.5 L514.8,1272.2 L515.3,1264.6 L515.7,1267.4 L516.2,1264.2 L516.7,1275.7 L517.1,1271.2 L517.6,1278.7 L518,1272 L518.5,1272.7 L519,1272.2 L519.4,1269.7 L519.9,1270.8 L520.3,1277.9 L520.8,1271.9 L521.3,1266.1 L521.7,1269.6 L522.2,1267.9 L522.6,1273.4 L523.1,1264 L523.6,1272.4 L524,1269.6 L524.5,1273.4 L524.9,1270.7 L525.4,1270.6 L525.9,1269.9 L526.3,1273.2 L526.8,1267.2 L527.2,1277.7 L527.7,1274.6 L528.2,1271.8 L528.6,1267.8 L529.1,1267.4 L529.5,1273.7 L530,1271.2 L530.5,1271.2 L530.9,1262.8 L531.4,1272 L531.8,1270.4 L532.3,1265.9 L532.8,1269.5 L533.2,1277.2 L533.7,1277.8 L534.1,1262.5 L534.6,1271.5 L535.1,1265.2 L535.5,1263.6 L536,1267.5 L536.4,1276.5 L536.9,1269.9 L537.4,1267.3 L537.8,1263.2 L538.3,1271 L538.7,1272.2 L539.2,1264 L539.7,1276.8 L540.1,1263.6 L540.6,1271.1 L541,1269.4 L541.5,1274.9 L542,1272 L542.4,1263.6 L542.9,1271 L543.3,1268.8 L543.8,1278 L544.3,1266.3 L544.7,1265.1 L545.2,1280.1 L545.6,1263.6 L546.1,1270.2 L546.6,1265.4 L547,1279.8 L547.5,1277.3 L547.9,1273 L548.4,1268.3 L548.9,1273.3 L549.3,1265.1 L549.8,1264.4 L550.2,1273.6 L550.7,1272.8 L551.2,1279.1 L551.6,1277.5 L552.1,1268.2 L552.5,1281.6 L553,1274.6 L553.5,1278.8 L553.9,1274.3 L554.4,1273.2 L554.8,1270.5 L555.3,1265.6 L555.8,1271.7 L556.2,1272.6 L556.7,1276.3 L557.1,1269.5 L557.6,1269.6 L558.1,1272.7 L558.5,1273 L559,1270.2 L559.4,1273.8 L559.9,1268.3 L560.4,1274.3 L560.8,1277.2 L561.3,1267.3 L561.7,1267.2 L562.2,1275.2 L562.7,1264.5 L563.1,1269.6 L563.6,1278.1 L564,1279.3 L564.5,1265.5 L565,1272.7 L565.4,1277.9 L565.9,1272.3 L566.3,1268.2 L566.8,1278.8 L567.3,1271.9 L567.7,1274.2 L568.2,1277 L568.6,1273.9 L569.1,1275.1 L569.6,1265.4 L570,1264.6 L570.5,1268.1 L570.9,1264.5 L571.4,1272 L571.9,1268.7 L572.3,1274.3 L572.8,1275.5 L573.2,1267.6 L573.7,1267.9 L574.2,1264.2 L574.6,1272.6 L575.1,1276.6 L575.5,1277.6 L576,1273.1 L576.5,1273.1 L576.9,1265.9 L577.4,1275.1 L577.8,1273.8 L578.3,1273.9 L578.8,1272.4 L579.2,1279.1 L579.7,1273.9 L580.1,1270 L580.6,1276.7 L581.1,1278.5 L581.5,1279 L582,1271.1 L582.4,1265.9 L582.9,1274.5 L583.4,1276.6 L583.8,1268.2 L584.3,1275 L584.7,1280.3 L585.2,1271.5 L585.7,1270.5 L586.1,1272 L586.6,1268.2 L587,1275.2 L587.5,1268.5 L588,1272.8 L588.4,1277.2 L588.9,1272.1 L589.3,1272.5 L589.8,1270.7 L590.3,1279.4 L590.7,1276.2 L591.2,1275 L591.6,1263.3 L592.1,1263.8 L592.6,1267.1 L593,1271.7 L593.5,1272.5 L593.9,1272.3 L594.4,1278 L594.9,1271.5 L595.3,1269.2 L595.8,1275.1 L596.2,1270.3 L596.7,1274.3 L597.2,1271.4 L597.6,1272.2 L598.1,1271.8 L598.5,1269.8 L599,1269.6 L599.5,1275.7 L599.9,1273.4 L600.4,1268.1 L600.8,1279.9 L601.3,1271.4 L601.8,1268.3 L602.2,1277.4 L602.7,1273.4 L603.1,1278.2 L603.6,1272.8 L604.1,1268 L604.5,1268.7 L605,1267.9 L605.4,1266.2 L605.9,1271.9 L606.4,1269.8 L606.8,1270.9 L607.3,1273.6 L607.7,1281.1 L608.2,1269 L608.7,1270.1 L609.1,1272.9 L609.6,1271.7 L610,1267 L610.5,1269.3 L611,1269.9 L611.4,1272.5 L611.9,1275 L612.3,1273.6 L612.8,1272.5 L613.3,1274.1 L613.7,1280.9 L614.2,1280.4 L614.6,1274.8 L615.1,1273 L615.6,1264.8 L616,1275.4 L616.5,1278.3 L616.9,1272.3 L617.4,1270.5 L617.9,1269.5 L618.3,1274.3 L618.8,1274.4 L619.2,1273.1 L619.7,1272.6 L620.2,1270.2 L620.6,1278 L621.1,1282.5 L621.5,1269.5 L622,1276.8 L622.5,1273.3 L622.9,1279.2 L623.4,1273.4 L623.8,1281.8 L624.3,1280.9 L624.8,1283.9 L625.2,1273.2 L625.7,1285 L626.1,1270.9 L626.6,1272.8 L627.1,1280.2 L627.5,1282.7 L628,1277.3 L628.4,1279.8 L628.9,1280 L629.4,1270.5 L629.8,1278.4 L630.3,1271.8 L630.7,1279.8 L631.2,1279.8 L631.7,1279.6 L632.1,1282.6 L632.6,1283.5 L633,1272.4 L633.5,1276.3 L634,1281.1 L634.4,1281.8 L634.9,1284.8 L635.3,1280.1 L635.8,1270.2 L636.3,1282.2 L636.7,1287 L637.2,1282.9 L637.6,1273.1 L638.1,1279.8 L638.6,1272.5 L639,1273.6 L639.5,1278 L639.9,1274.4 L640.4,1282 L640.9,1286 L641.3,1268.7 L641.8,1276.6 L642.2,1275 L642.7,1273.7 L643.2,1273.5 L643.6,1277 L644.1,1268.7 L644.5,1284.3 L645,1278.4 L645.5,1276.5 L645.9,1272.1 L646.4,1278.5 L646.8,1275 L647.3,1269.1 L647.8,1286.6 L648.2,1278.1 L648.7,1280.6 L649.1,1274.8 L649.6,1279.4 L650.1,1274.6 L650.5,1280.6 L651,1276.2 L651.4,1283.7 L651.9,1279.8 L652.4,1275.7 L652.8,1269.5 L653.3,1279.5 L653.7,1272.5 L654.2,1278.5 L654.7,1279.7 L655.1,1279.4 L655.6,1283.6 L656,1276.9 L656.5,1276.5 L657,1282.9 L657.4,1274.1 L657.9,1269.9 L658.3,1273.7 L658.8,1273.1 L659.3,1271.1 L659.7,1274.3 L660.2,1278.2 L660.6,1275.2 L661.1,1276.1 L661.6,1276 L662,1266.8 L662.5,1269.4 L662.9,1278.7 L663.4,1276.6 L663.9,1270.4 L664.3,1276.6 L664.8,1278 L665.2,1271 L665.7,1273.5 L666.2,1274.7 L666.6,1269.1 L667.1,1276.3 L667.5,1277.2 L668,1274.4 L668.5,1280.7 L668.9,1275 L669.4,1268.6 L669.8,1275.9 L670.3,1280.6 L670.8,1272.2 L671.2,1278.5 L671.7,1271.8 L672.1,1283.8 L672.6,1282 L673.1,1272.4 L673.5,1273.6 L674,1271.9 L674.4,1286.3 L674.9,1273.5 L675.4,1279 L675.8,1282.1 L676.3,1279.5 L676.7,1285.2 L677.2,1281.1 L677.7,1285.6 L678.1,1279.2 L678.6,1279.8 L679,1269.5 L679.5,1276.3 L680,1280.6 L680.4,1277.8 L680.9,1272.3 L681.3,1276.8 L681.8,1270.6 L682.3,1268.7 L682.7,1280.8 L683.2,1276 L683.6,1286 L684.1,1280.3 L684.6,1270.5 L685,1284.7 L685.5,1284.7 L685.9,1281.7 L686.4,1283.8 L686.9,1270.7 L687.3,1273.2 L687.8,1280.5 L688.2,1270.6 L688.7,1271.8 L689.2,1272.1 L689.6,1277.4 L690.1,1285.7 L690.5,1272.6 L691,1274.3 L691.5,1275.5 L691.9,1276 L692.4,1282.1 L692.8,1279.5 L693.3,1279.9 L693.8,1268.7 L694.2,1278.9 L694.7,1277.7 L695.1,1272.3 L695.6,1280.1 L696.1,1286.2 L696.5,1282.1 L697,1277.2 L697.4,1269.7 L697.9,1279 L698.4,1274.5 L698.8,1270.4 L699.3,1276.1 L699.7,1279.6 L700.2,1280.7 L700.7,1272.8 L701.1,1266.7 L701.6,1282.9 L702,1270.3 L702.5,1270.6 L703,1273.7 L703.4,1264.7 L703.9,1275.6 L704.3,1274.5 L704.8,1271.8 L705.3,1271.3 L705.7,1273.1 L706.2,1274.3 L706.6,1274.6 L707.1,1275.5 L707.6,1266.2 L708,1276.4 L708.5,1276.7 L708.9,1276.7 L709.4,1276.9 L709.9,1271.1 L710.3,1273.6 L710.8,1279.3 L711.2,1275.7 L711.7,1278.1 L712.2,1269.5 L712.6,1269.3 L713.1,1279.2 L713.5,1276.2 L714,1278.3 L714.5,1275.6 L714.9,1279.4 L715.4,1275.3 L715.8,1275.8 L716.3,1265.7 L716.8,1274.2 L717.2,1268.5 L717.7,1278.7 L718.1,1265.3 L718.6,1269.3 L719.1,1267.4 L719.5,1270.1 L720,1264.1 L720.4,1275.7 L720.9,1277.8 L721.4,1264.3 L721.8,1273.5 L722.3,1272 L722.7,1277.6 L723.2,1279.7 L723.7,1267 L724.1,1272.2 L724.6,1278.8 L725,1278.6 L725.5,1277.5 L726,1271.1 L726.4,1270 L726.9,1265.7 L727.3,1276.6 L727.8,1267.7 L728.3,1271.9 L728.7,1271.4 L729.2,1269.9 L729.6,1268.1 L730.1,1268.2 L730.6,1260.6 L731,1269.8 L731.5,1265.7 L731.9,1268 L732.4,1268.8 L732.9,1266.1 L733.3,1259.7 L733.8,1273.3 L734.2,1272.7 L734.7,1267 L735.2,1265.1 L735.6,1259.1 L736.1,1272.6 L736.5,1270.5 L737,1258.5 L737.5,1266.2 L737.9,1274.7 L738.4,1268.8 L738.8,1273.9 L739.3,1271.7 L739.8,1269.8 L740.2,1266.3 L740.7,1267.2 L741.1,1262.5 L741.6,1264.4 L742.1,1264.6 L742.5,1260.8 L743,1261.1 L743.4,1261.7 L743.9,1266.4 L744.4,1264 L744.8,1264.9 L745.3,1260.1 L745.7,1255.4 L746.2,1253.5 L746.7,1263.4 L747.1,1255.8 L747.6,1250.6 L748,1252.3 L748.5,1247.8 L749,1253.3 L749.4,1249.4 L749.9,1250.6 L750.3,1241.2 L750.8,1243.6 L751.3,1244 L751.7,1229 L752.2,1221.5 L752.6,1233.8 L753.1,1214.1 L753.6,1208.9 L754,1200.4 L754.5,1194.8 L754.9,1184.4 L755.4,1172.9 L755.9,1168.3 L756.3,1153.2 L756.8,1151.7 L757.2,1127.5 L757.7,1110.7 L758.2,1091.6 L758.6,1074.7 L759.1,1051.4 L759.5,1023.6 L760,1000.9 L760.5,969.7 L760.9,948.6 L761.4,923.2 L761.8,904.2 L762.3,882.7 L762.8,859.7 L763.2,838.6 L763.7,816.6 L764.1,789.5 L764.6,767.5 L765.1,744.5 L765.5,733.7 L766,721.6 L766.4,709.2 L766.9,724.8 L767.4,734.5 L767.8,746.2 L768.3,763.7 L768.7,789.1 L769.2,815.9 L769.7,844.1 L770.1,868.4 L770.6,889.5 L771,911.8 L771.5,928.6 L772,956.7 L772.4,975.2 L772.9,1005.6 L773.3,1032.8 L773.8,1051.9 L774.3,1077.6 L774.7,1094.3 L775.2,1120.6 L775.6,1134 L776.1,1149.5 L776.6,1162.9 L777,1173 L777.5,1179.7 L777.9,1189.4 L778.4,1198.5 L778.9,1208.8 L779.3,1220.1 L779.8,1223 L780.2,1223.5 L780.7,1235.6 L781.2,1230.5 L781.6,1244 L782.1,1239.4 L782.5,1243 L783,1254.2 L783.5,1251.9 L783.9,1250.7 L784.4,1256.9 L784.8,1255.4 L785.3,1264.6 L785.8,1268.5 L786.2,1257.7 L786.7,1258.9 L787.1,1264 L787.6,1268.2 L788.1,1256.9 L788.5,1268.8 L789,1260.9 L789.4,1259.3 L789.9,1265.1 L790.4,1271.3 L790.8,1270 L791.3,1259.3 L791.7,1268.2 L792.2,1263.3 L792.7,1272.2 L793.1,1268.6 L793.6,1266.8 L794,1261.8 L794.5,1269.8 L795,1272.9 L795.4,1276.5 L795.9,1260.6 L796.3,1272.2 L796.8,1264.8 L797.3,1264.5 L797.7,1269.9 L798.2,1267.2 L798.6,1275.6 L799.1,1275.9 L799.6,1274.4 L800,1276 L800.5,1266 L800.9,1278.6 L801.4,1274.6 L801.9,1265 L802.3,1273.3 L802.8,1275 L803.2,1269.3 L803.7,1283.1 L804.2,1275.1 L804.6,1279.4 L805.1,1275.5 L805.5,1274 L806,1277.4 L806.5,1278.6 L806.9,1278.2 L807.4,1280.1 L807.8,1274.9 L808.3,1277.8 L808.8,1273.7 L809.2,1275.5 L809.7,1280.6 L810.1,1266.8 L810.6,1272.4 L811.1,1271.5 L811.5,1270.5 L812,1276 L812.4,1276.9 L812.9,1275.8 L813.4,1276.5 L813.8,1276.6 L814.3,1273.5 L814.7,1266.9 L815.2,1274.7 L815.7,1273.1 L816.1,1271.7 L816.6,1271 L817,1271.9 L817.5,1277.5 L818,1267.1 L818.4,1275.3 L818.9,1278.7 L819.3,1269 L819.8,1275.9 L820.3,1275.7 L820.7,1276.4 L821.2,1272.6 L821.6,1271.5 L822.1,1275.2 L822.6,1279.7 L823,1274.6 L823.5,1275.7 L823.9,1277.7 L824.4,1274.4 L824.9,1276.2 L825.3,1282.5 L825.8,1277.2 L826.2,1277.7 L826.7,1280.1 L827.2,1278.6 L827.6,1281 L828.1,1279.4 L828.5,1277 L829,1273.3 L829.5,1279.1 L829.9,1275.1 L830.4,1278.3 L830.8,1281 L831.3,1276.6 L831.8,1272.8 L832.2,1283.3 L832.7,1287.3 L833.1,1283.8 L833.6,1281.7 L834.1,1278.4 L834.5,1284 L835,1279.6 L835.4,1289.3 L835.9,1285.2 L836.4,1284.7 L836.8,1286.2 L837.3,1280.7 L837.7,1280.5 L838.2,1277.5 L838.7,1278.5 L839.1,1282 L839.6,1282.1 L840,1284.7 L840.5,1281.4 L841,1282.3 L841.4,1279.2 L841.9,1284.8 L842.3,1278.3 L842.8,1278.5 L843.3,1278.9 L843.7,1277.6 L844.2,1276.1 L844.6,1282.2 L845.1,1277.4 L845.6,1276.6 L846,1282 L846.5,1279.7 L846.9,1281.5 L847.4,1279 L847.9,1279.6 L848.3,1275.1 L848.8,1280.8 L849.2,1279.5 L849.7,1277.6 L850.2,1283.8 L850.6,1279.7 L851.1,1277.1 L851.5,1278.3 L852,1284.8 L852.5,1277.6 L852.9,1277.2 L853.4,1284.6 L853.8,1282.5 L854.3,1275.2 L854.8,1281.4 L855.2,1273.4 L855.7,1276.8 L856.1,1273.3 L856.6,1283.8 L857.1,1277.8 L857.5,1280.6 L858,1281.9 L858.4,1277.9 L858.9,1276.4 L859.4,1282.7 L859.8,1276.4 L860.3,1281.7 L860.7,1277.7 L861.2,1281 L861.7,1281.4 L862.1,1277.7 L862.6,1281.4 L863,1276.2 L863.5,1272.8 L864,1277.2 L864.4,1285.2 L864.9,1279.6 L865.3,1279.7 L865.8,1275 L866.3,1279.8 L866.7,1285.5 L867.2,1282.3 L867.6,1284.2 L868.1,1274.1 L868.6,1282.5 L869,1276.8 L869.5,1278.2 L869.9,1283.7 L870.4,1279.3 L870.9,1279.8 L871.3,1279.9 L871.8,1280.3 L872.2,1278.3 L872.7,1282.2 L873.2,1276.7 L873.6,1282 L874.1,1283.8 L874.5,1281.3 L875,1278.2 L875.5,1281.4 L875.9,1278.7 L876.4,1283.3 L876.8,1285 L877.3,1280 L877.8,1278.1 L878.2,1282.5 L878.7,1284.1 L879.1,1279.6 L879.6,1280.3 L880.1,1283.9 L880.5,1286.3 L881,1276.5 L881.4,1281.9 L881.9,1280.2 L882.4,1276.9 L882.8,1278.8 L883.3,1282.4 L883.7,1274.8 L884.2,1275.3 L884.7,1280.7 L885.1,1275.3 L885.6,1276.1 L886,1280.3 L886.5,1276.8 L887,1282.9 L887.4,1282.5 L887.9,1279.1 L888.3,1278.9 L888.8,1280.1 L889.3,1281.8 L889.7,1280.9 L890.2,1283.7 L890.6,1284.8 L891.1,1280.6 L891.6,1281.9 L892,1281.8 L892.5,1280.2 L892.9,1279.4 L893.4,1279.9 L893.9,1279.4 L894.3,1278.6 L894.8,1282.4 L895.2,1278.1 L895.7,1277.1 L896.2,1286.2 L896.6,1279.9 L897.1,1281.9 L897.5,1281.6 L898,1285.9 L898.5,1281.1 L898.9,1275.2 L899.4,1284.9 L899.8,1279.3 L900.3,1282.2 L900.8,1284.6 L901.2,1279.8 L901.7,1279.8 L902.1,1277.7 L902.6,1282.4 L903.1,1281.6 L903.5,1279.2 L904,1280.7 L904.4,1275.7 L904.9,1276.9 L905.4,1279.7 L905.8,1275.8 L906.3,1275.7 L906.7,1280.8 L907.2,1276.7 L907.7,1273.7 L908.1,1276.2 L908.6,1274.9 L909,1279.9 L909.5,1276.2 L910,1275.2 L910.4,1280.5 L910.9,1276.7 L911.3,1277.9 L911.8,1278.1 L912.3,1281.4 L912.7,1272.6 L913.2,1275.5 L913.6,1279.4 L914.1,1274.7 L914.6,1273.8 L915,1272.6 L915.5,1279.9 L915.9,1272.2 L916.4,1276.3 L916.9,1274.8 L917.3,1271.2 L917.8,1270 L918.2,1270.2 L918.7,1271.7 L919.2,1274.1 L919.6,1264.2 L920.1,1265.7 L920.5,1269.2 L921,1267.3 L921.5,1267.2 L921.9,1266.1 L922.4,1259.8 L922.8,1256.4 L923.3,1259.2 L923.8,1256.4 L924.2,1251.3 L924.7,1248.3 L925.1,1249.3 L925.6,1251.8 L926.1,1244.3 L926.5,1240.4 L927,1234.7 L927.4,1233.3 L927.9,1232.5 L928.4,1219.3 L928.8,1220.7 L929.3,1218.6 L929.7,1212.8 L930.2,1206.2 L930.7,1206.1 L931.1,1200.4 L931.6,1187.4 L932,1193.2 L932.5,1184.9 L933,1177.8 L933.4,1174.4 L933.9,1169.2 L934.3,1169.8 L934.8,1162.8 L935.3,1165.1 L935.7,1162.9 L936.2,1156.8 L936.6,1158.7 L937.1,1156.8 L937.6,1160.4 L938,1165.6 L938.5,1167.2 L938.9,1163.2 L939.4,1164.3 L939.9,1174.4 L940.3,1180.6 L940.8,1177.7 L941.2,1189.1 L941.7,1192.2 L942.2,1194.2 L942.6,1196.3 L943.1,1206.3 L943.5,1201 L944,1216.2 L944.5,1219.9 L944.9,1222.4 L945.4,1217.9 L945.8,1225.9 L946.3,1233.5 L946.8,1231.3 L947.2,1241.7 L947.7,1243.5 L948.1,1243.7 L948.6,1252.9 L949.1,1247.8 L949.5,1256.7 L950,1251.4 L950.4,1256.5 L950.9,1260.7 L951.4,1256.1 L951.8,1262.3 L952.3,1263.5 L952.7,1261.6 L953.2,1271.1 L953.7,1265 L954.1,1265.6 L954.6,1272.6 L955,1270.5 L955.5,1269.4 L956,1273.2 L956.4,1276.7 L956.9,1271.5 L957.3,1273.9 L957.8,1275.5 L958.3,1279.2 L958.7,1270.2 L959.2,1273.2 L959.6,1277.2 L960.1,1280.5 L960.6,1279.5 L961,1277 L961.5,1275.9 L961.9,1281.8 L962.4,1274.2 L962.9,1282.4 L963.3,1277.2 L963.8,1278.9 L964.2,1275.7 L964.7,1278.5 L965.2,1278.2 L965.6,1277.6 L966.1,1278 L966.5,1282.5 L967,1277.2 L967.5,1278.2 L967.9,1276.2 L968.4,1283.8 L968.8,1283.9 L969.3,1276.5 L969.8,1275.4 L970.2,1285.1 L970.7,1277.8 L971.1,1276.6 L971.6,1278.5 L972.1,1284.9 L972.5,1283.1 L973,1281.2 L973.4,1283.4 L973.9,1279.8 L974.4,1279.6 L974.8,1284.2 L975.3,1280.6 L975.7,1281.9 L976.2,1277.8 L976.7,1281.3 L977.1,1287 L977.6,1279.5 L978,1283 L978.5,1284.2 L979,1284.8 L979.4,1276.7 L979.9,1285 L980.3,1281.4 L980.8,1280.5 L981.3,1282.7 L981.7,1282.4 L982.2,1282.3 L982.6,1281.3 L983.1,1281.9 L983.6,1283.7 L984,1285.4 L984.5,1280.4 L984.9,1282 L985.4,1276.5 L985.9,1283.9 L986.3,1279.1 L986.8,1282.2 L987.2,1280.7 L987.7,1281.9 L988.2,1277.3 L988.6,1280.6 L989.1,1286.6 L989.5,1283.9 L990,1283.8 L990.5,1278.6 L990.9,1286 L991.4,1281.4 L991.8,1276.6 L992.3,1280.7 L992.8,1279.1 L993.2,1285.3 L993.7,1285.3 L994.1,1276.1 L994.6,1282.4 L995.1,1280.5 L995.5,1286.2 L996,1278.7 L996.4,1280.1 L996.9,1281.1 L997.4,1280 L997.8,1284.1 L998.3,1284.2 L998.7,1282 L999.2,1278.4 L999.7,1281.9 L1000.1,1283.5 L1000.6,1278.4 L1001,1284.1 L1001.5,1279.6 L1002,1282.5 L1002.4,1282.2 L1002.9,1284.6 L1003.3,1277.1 L1003.8,1281.7 L1004.3,1282 L1004.7,1280.7 L1005.2,1284.1 L1005.6,1282.5 L1006.1,1280.6 L1006.6,1282.8 L1007,1280.2 L1007.5,1283.7 L1007.9,1281.7 L1008.4,1278.1 L1008.9,1285.3 L1009.3,1283.4 L1009.8,1282.8 L1010.2,1282.6 L1010.7,1283.5 L1011.2,1282.2 L1011.6,1283.9 L1012.1,1282.1 L1012.5,1283.1 L1013,1280.1 L1013.5,1283.4 L1013.9,1283.1 L1014.4,1282.1 L1014.8,1284.4 L1015.3,1281.7 L1015.8,1284 L1016.2,1279.6 L1016.7,1285.2 L1017.1,1285.2 L1017.6,1281 L1018.1,1283.3 L1018.5,1279.4 L1019,1280.1 L1019.4,1283.3 L1019.9,1285.1 L1020.4,1285.2 L1020.8,1279.9 L1021.3,1282 L1021.7,1281.6 L1022.2,1278.7 L1022.7,1285.2 L1023.1,1283.8 L1023.6,1282.6 L1024,1284 L1024.5,1287.9 L1025,1281.8 L1025.4,1283.5 L1025.9,1280.9 L1026.3,1282.1 L1026.8,1283.7 L1027.3,1282.7 L1027.7,1288 L1028.2,1288.1 L1028.6,1281.5 L1029.1,1287.5 L1029.6,1287.3 L1030,1284.1 L1030.5,1282.9 L1030.9,1283.2 L1031.4,1284 L1031.9,1281 L1032.3,1285.3 L1032.8,1284.1 L1033.2,1280.9 L1033.7,1282.4 L1034.2,1285.6 L1034.6,1279.6 L1035.1,1278.3 L1035.5,1284.1 L1036,1286 L1036.5,1281.2 L1036.9,1281.5 L1037.4,1283.2 L1037.8,1280.9 L1038.3,1277.8 L1038.8,1281.3 L1039.2,1284.3 L1039.7,1282.7 L1040.1,1281 L1040.6,1283.4 L1041.1,1280.5 L1041.5,1282 L1042,1281.3 L1042.4,1281.3 L1042.9,1280.4 L1043.4,1281.7 L1043.8,1285.2 L1044.3,1277.5 L1044.7,1282.8 L1045.2,1277.5 L1045.7,1284.5 L1046.1,1280.4 L1046.6,1282.6 L1047,1283.1 L1047.5,1280.1 L1048,1277.4 L1048.4,1286.8 L1048.9,1280.3 L1049.3,1281.5 L1049.8,1278.2 L1050.3,1278.8 L1050.7,1280.4 L1051.2,1277.6 L1051.6,1283.5 L1052.1,1287 L1052.6,1282 L1053,1283.7 L1053.5,1280.9 L1053.9,1280.9 L1054.4,1282.3 L1054.9,1281.6 L1055.3,1280.7 L1055.8,1283 L1056.2,1282 L1056.7,1282.2 L1057.2,1281.2 L1057.6,1283.1 L1058.1,1286.4 L1058.5,1282.3 L1059,1283 L1059.5,1285.3 L1059.9,1284.8 L1060.4,1284.5 L1060.8,1285.2 L1061.3,1284.6 L1061.8,1286.4 L1062.2,1282.9 L1062.7,1278 L1063.1,1284 L1063.6,1285.5 L1064.1,1280.9 L1064.5,1282.2 L1065,1283.7 L1065.4,1286.5 L1065.9,1282.3 L1066.4,1279.4 L1066.8,1277.4 L1067.3,1282.6 L1067.7,1286.3 L1068.2,1280.1 L1068.7,1278.3 L1069.1,1284.9 L1069.6,1282.8 L1070,1279 L1070.5,1282.7 L1071,1279.3 L1071.4,1281.9 L1071.9,1283.7 L1072.3,1282.2 L1072.8,1284.8 L1073.3,1280.7 L1073.7,1279.2 L1074.2,1284.2 L1074.6,1283.3 L1075.1,1281.1 L1075.6,1279.3 L1076,1282.6 L1076.5,1283.4 L1076.9,1286.5 L1077.4,1282 L1077.9,1282.6 L1078.3,1284.7 L1078.8,1287.4 L1079.2,1281.8 L1079.7,1279.3 L1080.2,1283.5 L1080.6,1283.5 L1081.1,1284.1 L1081.5,1283.4 L1082,1283.1 L1082.5,1280.3 L1082.9,1284.5 L1083.4,1284 L1083.8,1282.2 L1084.3,1279.4 L1084.8,1286.7 L1085.2,1283.6 L1085.7,1279.3 L1086.1,1283.8 L1086.6,1280 L1087.1,1286.5 L1087.5,1281.3 L1088,1279.8 L1088.4,1282.9 L1088.9,1284.2 L1089.4,1282.6 L1089.8,1281.7 L1090.3,1283.6 L1090.7,1282.2 L1091.2,1284.3 L1091.7,1281.2 L1092.1,1282.9 L1092.6,1282.6 L1093,1285 L1093.5,1282.9 L1094,1279 L1094.4,1282.6 L1094.9,1281.4 L1095.3,1283.8 L1095.8,1285.8 L1096.3,1282.9 L1096.7,1285.5 L1097.2,1282.5 L1097.6,1286.5 L1098.1,1285 L1098.6,1279 L1099,1281.1 L1099.5,1287.2 L1099.9,1282.1 L1100.4,1282.5 L1100.9,1280.6 L1101.3,1285 L1101.8,1283.2 L1102.2,1283.7 L1102.7,1280.4 L1103.2,1283.3 L1103.6,1282.9 L1104.1,1281.8 L1104.5,1285 L1105,1282.4 L1105.5,1280.6 L1105.9,1279.1 L1106.4,1279.7 L1106.8,1282.9 L1107.3,1285 L1107.8,1282.9 L1108.2,1285.1 L1108.7,1282.9 L1109.1,1286.1 L1109.6,1284 L1110.1,1285.2 L1110.5,1285.7 L1111,1278.9 L1111.4,1282.8 L1111.9,1281.1 L1112.4,1283.1 L1112.8,1282.5 L1113.3,1283 L1113.7,1279.8 L1114.2,1283.3 L1114.7,1281.7 L1115.1,1282.7 L1115.6,1284.5 L1116,1286.6 L1116.5,1281.3 L1117,1279.5 L1117.4,1287.6 L1117.9,1282.3 L1118.3,1284.1 L1118.8,1282.5 L1119.3,1286.2 L1119.7,1284.6 L1120.2,1283.8 L1120.6,1282.5 L1121.1,1287.9 L1121.6,1282.9 L1122,1284.6 L1122.5,1281.6 L1122.9,1281.4 L1123.4,1286.5 L1123.9,1287.4 L1124.3,1284.4 L1124.8,1280.5 L1125.2,1282.9 L1125.7,1282.2 L1126.2,1287 L1126.6,1282.4 L1127.1,1283.3 L1127.5,1283.9 L1128,1281.1 L1128.5,1280.1 L1128.9,1283.3 L1129.4,1282.7 L1129.8,1280.2 L1130.3,1282.5 L1130.8,1283.4 L1131.2,1283.7 L1131.7,1286.2 L1132.1,1279.8 L1132.6,1282.4 L1133.1,1283.8 L1133.5,1285 L1134,1284.1 L1134.4,1288 L1134.9,1280 L1135.4,1282.8 L1135.8,1284.3 L1136.3,1282.4 L1136.7,1281.8 L1137.2,1280.6 L1137.7,1282.7 L1138.1,1283.4 L1138.6,1288.1 L1139,1281.5 L1139.5,1285.4 L1140,1281.3 L1140.4,1279.9 L1140.9,1282.8 L1141.3,1284.9 L1141.8,1285.2 L1142.3,1282.3 L1142.7,1281.3 L1143.2,1282.7 L1143.6,1281.6 L1144.1,1282.1 L1144.6,1284.9 L1145,1282.5 L1145.5,1283.9 L1145.9,1284.6 L1146.4,1281.1 L1146.9,1285.5 L1147.3,1286.5 L1147.8,1285.7 L1148.2,1280.7 L1148.7,1280.4 L1149.2,1282.2 L1149.6,1281.9 L1150.1,1285.1 L1150.5,1281.3 L1151,1281.3 L1151.5,1281.8 L1151.9,1282.3 L1152.4,1283 L1152.8,1281.5 L1153.3,1283.2 L1153.8,1282.5 L1154.2,1281.4 L1154.7,1284.2 L1155.1,1282.3 L1155.6,1278 L1156.1,1282.6 L1156.5,1280.9 L1157,1283.7 L1157.4,1282.9 L1157.9,1282.9 L1158.4,1281.3 L1158.8,1278.7 L1159.3,1280.3 L1159.7,1277.9 L1160.2,1285.5 L1160.7,1283.6 L1161.1,1279.6 L1161.6,1281.2 L1162,1283.1 L1162.5,1282.5 L1163,1281.5 L1163.4,1283.3 L1163.9,1282.1 L1164.3,1282 L1164.8,1282.8 L1165.3,1283.9 L1165.7,1279.2 L1166.2,1280.1 L1166.6,1283.1 L1167.1,1281.1 L1167.6,1280.5 L1168,1286.7 L1168.5,1283.7 L1168.9,1283.8 L1169.4,1285.6 L1169.9,1280.1 L1170.3,1286.9 L1170.8,1278.7 L1171.2,1283.3 L1171.7,1279.9 L1172.2,1281.3 L1172.6,1285.5 L1173.1,1283 L1173.5,1283.2 L1174,1278.7 L1174.5,1281.4 L1174.9,1283.1 L1175.4,1282.3 L1175.8,1281.1 L1176.3,1283.9 L1176.8,1286.9 L1177.2,1281.9 L1177.7,1281.7 L1178.1,1283.3 L1178.6,1279.9 L1179.1,1283.7 L1179.5,1285.2 L1180,1280.2 L1180.4,1281.5 L1180.9,1285.2 L1181.4,1285 L1181.8,1279.8 L1182.3,1285.2 L1182.7,1281.4 L1183.2,1282.9 L1183.7,1283.2 L1184.1,1283.6 L1184.6,1281 L1185,1286.8 L1185.5,1283.7 L1186,1283.3 L1186.4,1284.4 L1186.9,1278.4 L1187.3,1286.5 L1187.8,1283.6 L1188.3,1285.8 L1188.7,1279.9 L1189.2,1281 L1189.6,1283.1 L1190.1,1283.6 L1190.6,1284.5 L1191,1279.4 L1191.5,1281 L1191.9,1283.8 L1192.4,1281.2 L1192.9,1286.5 L1193.3,1280 L1193.8,1281.1 L1194.2,1279.8 L1194.7,1284.6 L1195.2,1286.7 L1195.6,1279.9 L1196.1,1281.4 L1196.5,1282.1 L1197,1281 L1197.5,1281.2 L1197.9,1285.5 L1198.4,1278.5 L1198.8,1282.5 L1199.3,1282.4 L1199.8,1282.9 L1200.2,1282.4 L1200.7,1283.9 L1201.1,1283.6 L1201.6,1284.3 L1202.1,1281.9 L1202.5,1279.9 L1203,1282.6 L1203.4,1283.3 L1203.9,1286.4 L1204.4,1286.5 L1204.8,1282.4 L1205.3,1281.5 L1205.7,1281.7 L1206.2,1285.5 L1206.7,1281.5 L1207.1,1283 L1207.6,1282 L1208,1286 L1208.5,1282.6 L1209,1283.5 L1209.4,1282.2 L1209.9,1284.2 L1210.3,1281.6 L1210.8,1282.7 L1211.3,1285.3 L1211.7,1282.6 L1212.2,1279.5 L1212.6,1282.8 L1213.1,1283.1 L1213.6,1281.4 L1214,1280.6 L1214.5,1280.5 L1214.9,1283.9 L1215.4,1279.5 L1215.9,1284.8 L1216.3,1282.9 L1216.8,1283.9 L1217.2,1283.4 L1217.7,1284.1 L1218.2,1280.3 L1218.6,1285.6 L1219.1,1285.8 L1219.5,1282 L1220,1284 L1220.5,1285.7 L1220.9,1283.9 L1221.4,1283.9 L1221.8,1285.8 L1222.3,1282.4 L1222.8,1278.7 L1223.2,1287 L1223.7,1283.1 L1224.1,1279.8 L1224.6,1284 L1225.1,1283.2 L1225.5,1283.1 L1226,1282.5 L1226.4,1287.3 L1226.9,1279.8 L1227.4,1280.4 L1227.8,1285.2 L1228.3,1283.6 L1228.7,1283.3 L1229.2,1279.4 L1229.7,1284.7 L1230.1,1283.1 L1230.6,1282.8 L1231,1284 L1231.5,1287.8 L1232,1280.4 L1232.4,1283.5 L1232.9,1279.5 L1233.3,1282.6 L1233.8,1285.9 L1234.3,1285.2 L1234.7,1283.5 L1235.2,1282 L1235.6,1283.3 L1236.1,1279.9 L1236.6,1279.9 L1237,1285.7 L1237.5,1283 L1237.9,1287.8 L1238.4,1284.4 L1238.9,1282.6 L1239.3,1282.3 L1239.8,1287.5 L1240.2,1287.9 L1240.7,1281.9 L1241.2,1281.7 L1241.6,1280.5 L1242.1,1280.3 L1242.5,1287.1 L1243,1286.5 L1243.5,1281.8 L1243.9,1286.3 L1244.4,1283.3 L1244.8,1280.9 L1245.3,1284.9 L1245.8,1282.6 L1246.2,1283.1 L1246.7,1285.9 L1247.1,1285.4 L1247.6,1284.4 L1248.1,1284.2 L1248.5,1283.3 L1249,1288.5 L1249.4,1282 L1249.9,1284.6 L1250.4,1280.2 L1250.8,1282.4 L1251.3,1284.1 L1251.7,1279.7 L1252.2,1279.7 L1252.7,1283.9 L1253.1,1283.6 L1253.6,1287.1 L1254,1286.2 L1254.5,1281.3 L1255,1286.4 L1255.4,1287.8 L1255.9,1283.6 L1256.3,1282.1 L1256.8,1281.3 L1257.3,1283.3 L1257.7,1283.7 L1258.2,1282.1 L1258.6,1284.4 L1259.1,1282.8 L1259.6,1283.2 L1260,1281.6 L1260.5,1286.5 L1260.9,1287.6 L1261.4,1282 L1261.9,1283.4 L1262.3,1283.8 L1262.8,1283 L1263.2,1284.7 L1263.7,1284.4 L1264.2,1284.3 L1264.6,1284.6 L1265.1,1285.1 L1265.5,1286 L1266,1282.2 L1266.5,1287 L1266.9,1286.9 L1267.4,1286.8 L1267.8,1281.5 L1268.3,1288.4 L1268.8,1286.5 L1269.2,1286.9 L1269.7,1285.8 L1270.1,1286.6 L1270.6,1288 L1271.1,1283.5 L1271.5,1282.2 L1272,1285.4 L1272.4,1283.9 L1272.9,1285.3 L1273.4,1285.9 L1273.8,1282.5 L1274.3,1283.9 L1274.7,1289 L1275.2,1288.1 L1275.7,1284.3 L1276.1,1282.8 L1276.6,1284.5 L1277,1284.9 L1277.5,1285.6 L1278,1288.2 L1278.4,1284.8 L1278.9,1288.2 L1279.3,1285 L1279.8,1286.5 L1280.3,1286 L1280.7,1287.1 L1281.2,1289.3 L1281.6,1284.3 L1282.1,1281.6 L1282.6,1284.6 L1283,1286.8 L1283.5,1284.2 L1283.9,1282.6 L1284.4,1281.4 L1284.9,1283.8 L1285.3,1286.9 L1285.8,1285.1 L1286.2,1283.4 L1286.7,1282 L1287.2,1282.3 L1287.6,1284.7 L1288.1,1284.9 L1288.5,1288 L1289,1284.2 L1289.5,1285.8 L1289.9,1284.9 L1290.4,1286.1 L1290.8,1287.2 L1291.3,1287.3 L1291.8,1284 L1292.2,1284.1 L1292.7,1287.3 L1293.1,1285.2 L1293.6,1282.7 L1294.1,1285.5 L1294.5,1287.9 L1295,1288.1 L1295.4,1285.6 L1295.9,1286.1 L1296.4,1283.9 L1296.8,1284.4 L1297.3,1290 L1297.7,1287.2 L1298.2,1283.4 L1298.7,1286.6 L1299.1,1283.3 L1299.6,1287.8 L1300,1286.8 L1300.5,1281.7 L1301,1288.4 L1301.4,1286.7 L1301.9,1285.3 L1302.3,1288.4 L1302.8,1286.1 L1303.3,1287 L1303.7,1289.1 L1304.2,1283.5 L1304.6,1284 L1305.1,1285 L1305.6,1288 L1306,1287.3 L1306.5,1285.9 L1306.9,1289.1 L1307.4,1283.5 L1307.9,1286.8 L1308.3,1288.8 L1308.8,1283.5 L1309.2,1282.9 L1309.7,1288.1 L1310.2,1284.6 L1310.6,1286.2 L1311.1,1284.7 L1311.5,1286.6 L1312,1281.2 L1312.5,1287.9 L1312.9,1286.4 L1313.4,1286.4 L1313.8,1288.4 L1314.3,1282.8 L1314.8,1284 L1315.2,1286.2 L1315.7,1286.2 L1316.1,1284.4 L1316.6,1288.3 L1317.1,1283.2 L1317.5,1284.7 L1318,1284.5 L1318.4,1284.4 L1318.9,1289.9 L1319.4,1283.9 L1319.8,1290 L1320.3,1289.7 L1320.7,1289 L1321.2,1282.1 L1321.7,1282.2 L1322.1,1284.1 L1322.6,1285.7 L1323,1285.9 L1323.5,1284.4 L1324,1288.8 L1324.4,1285.2 L1324.9,1286.4 L1325.3,1285.4 L1325.8,1282.8 L1326.3,1284.7 L1326.7,1288.8 L1327.2,1286.2 L1327.6,1288.2 L1328.1,1284.6 L1328.6,1285.9 L1329,1285.6 L1329.5,1287.4 L1329.9,1289.5 L1330.4,1285.7 L1330.9,1288.7 L1331.3,1285.7 L1331.8,1282.8 L1332.2,1287.6 L1332.7,1285.4 L1333.2,1287.2 L1333.6,1285.5 L1334.1,1284.7 L1334.5,1285.7 L1335,1288.7 L1335.5,1284.6 L1335.9,1282.1 L1336.4,1282.4 L1336.8,1282.5 L1337.3,1287.1 L1337.8,1288.5 L1338.2,1281.5 L1338.7,1288.5 L1339.1,1282.3 L1339.6,1284 L1340.1,1287.9 L1340.5,1286.1 L1341,1286.5 L1341.4,1290.3 L1341.9,1284.8 L1342.4,1284.1 L1342.8,1286.6 L1343.3,1290.2 L1343.7,1286.6 L1344.2,1285 L1344.7,1290 L1345.1,1287.8 L1345.6,1286.6 L1346,1283.8 L1346.5,1286.8 L1347,1285.8 L1347.4,1290.5 L1347.9,1282.5 L1348.3,1286.7 L1348.8,1285.9 L1349.3,1285.3 L1349.7,1289.1 L1350.2,1287.6 L1350.6,1283.2 L1351.1,1290.1 L1351.6,1283.8 L1352,1287.6 L1352.5,1283.4 L1352.9,1287.5 L1353.4,1287.9 L1353.9,1284.3 L1354.3,1286.8 L1354.8,1287.8 L1355.2,1288.6 L1355.7,1283.6 L1356.2,1287.4 L1356.6,1284.3 L1357.1,1286 L1357.5,1282.8 L1358,1283.3 L1358.5,1286.3 L1358.9,1284.1 L1359.4,1286.4 L1359.8,1287.8 L1360.3,1286.9 L1360.8,1287.6 L1361.2,1283.9 L1361.7,1285.6 L1362.1,1285.9 L1362.6,1290.4 L1363.1,1285.2 L1363.5,1286.9 L1364,1285.5 L1364.4,1285.9 L1364.9,1286.1 L1365.4,1289.5 L1365.8,1287.3 L1366.3,1286 L1366.7,1286.6 L1367.2,1284.8 L1367.7,1286.5 L1368.1,1282.7 L1368.6,1290.7 L1369,1286.8 L1369.5,1286.9 L1370,1291.2 L1370.4,1285.7 L1370.9,1287.8 L1371.3,1287.1 L1371.8,1288.8 L1372.3,1290.9 L1372.7,1291.2 L1373.2,1287.7 L1373.6,1291.6 L1374.1,1288.6 L1374.6,1289.7 L1375,1290.8 L1375.5,1284.5 L1375.9,1288.1 L1376.4,1288.5 L1376.9,1291.6 L1377.3,1289.4 L1377.8,1285.2 L1378.2,1283.3 L1378.7,1289.5 L1379.2,1288.6 L1379.6,1285.2 L1380.1,1284.8 L1380.5,1291.4 L1381,1290.4 L1381.5,1288.3 L1381.9,1288.1 L1382.4,1289.1 L1382.8,1284.5 L1383.3,1290.7 L1383.8,1287.7 L1384.2,1287.5 L1384.7,1287.6 L1385.1,1287.3 L1385.6,1285.8 L1386.1,1288.4 L1386.5,1291 L1387,1284.5 L1387.4,1286.3 L1387.9,1289.7 L1388.4,1283.5 L1388.8,1290.9 L1389.3,1286.5 L1389.7,1289.3 L1390.2,1289.8 L1390.7,1286.3 L1391.1,1288.5 L1391.6,1283.4 L1392,1284.1 L1392.5,1286.7 L1393,1286.1 L1393.4,1287.5 L1393.9,1288 L1394.3,1288.7 L1394.8,1285.7 L1395.3,1287.6 L1395.7,1287.9 L1396.2,1287.5 L1396.6,1288.3 L1397.1,1284.7 L1397.6,1287.1 L1398,1284.7 L1398.5,1286 L1398.9,1281.7 L1399.4,1288 L1399.9,1288 L1400.3,1282 L1400.8,1287.6 L1401.2,1288.4 L1401.7,1287.5 L1402.2,1288.1 L1402.6,1286.2 L1403.1,1284.7 L1403.5,1290 L1404,1286 L1404.5,1287.3 L1404.9,1287.7 L1405.4,1286.4 L1405.8,1285.1 L1406.3,1284.1 L1406.8,1288.4 L1407.2,1286.4 L1407.7,1290.6 L1408.1,1287.5 L1408.6,1286 L1409.1,1290.7 L1409.5,1289.4 L1410,1287.9 L1410.4,1289.2 L1410.9,1282.4 L1411.4,1285.6 L1411.8,1286.7 L1412.3,1287 L1412.7,1287.9 L1413.2,1285 L1413.7,1286 L1414.1,1287.6 L1414.6,1286.9 L1415,1282.6 L1415.5,1282.2 L1416,1284.9 L1416.4,1289.1 L1416.9,1285.9 L1417.3,1285.8 L1417.8,1286.1 L1418.3,1285 L1418.7,1285.8 L1419.2,1288.2 L1419.6,1287.4 L1420.1,1286.5 L1420.6,1286.1 L1421,1284.3 L1421.5,1287.9 L1421.9,1281.8 L1422.4,1283.8 L1422.9,1282.9 L1423.3,1287.5 L1423.8,1285 L1424.2,1286.9 L1424.7,1284.8 L1425.2,1283.1 L1425.6,1287.5 L1426.1,1283.7 L1426.5,1284.9 L1427,1287 L1427.5,1284.2 L1427.9,1286.7 L1428.4,1286.8 L1428.8,1286.5 L1429.3,1286.5 L1429.8,1286.2 L1430.2,1288.5 L1430.7,1285.4 L1431.1,1284.6 L1431.6,1288.2 L1432.1,1287.6 L1432.5,1287.3 L1433,1283 L1433.4,1286 L1433.9,1284.9 L1434.4,1284.5 L1434.8,1287.4 L1435.3,1287.8 L1435.7,1286.4 L1436.2,1290.2 L1436.7,1287.1 L1437.1,1287.6 L1437.6,1287.9 L1438,1289.9 L1438.5,1287.8 L1439,1288.5 L1439.4,1288.8 L1439.9,1287.7 L1440.3,1285.4 L1440.8,1285.4 L1441.3,1285.1 L1441.7,1284.7 L1442.2,1286.4 L1442.6,1286.7 L1443.1,1285.5 L1443.6,1285.8 L1444,1283.6 L1444.5,1285.1 L1444.9,1287.2 L1445.4,1285.4 L1445.9,1287.5 L1446.3,1285.7 L1446.8,1281.7 L1447.2,1284.9 L1447.7,1285.9 L1448.2,1289.7 L1448.6,1285.6 L1449.1,1286.7 L1449.5,1283.4 L1450,1281.4 L1450.5,1289.2 L1450.9,1286.8 L1451.4,1283.3 L1451.8,1289.4 L1452.3,1289.3 L1452.8,1287.5 L1453.2,1280.8 L1453.7,1283.9 L1454.1,1285.5 L1454.6,1284.6 L1455.1,1283.2 L1455.5,1281.9 L1456,1284.2 L1456.4,1282.1 L1456.9,1283 L1457.4,1285 L1457.8,1285.1 L1458.3,1285.6 L1458.7,1279.9 L1459.2,1282.6 L1459.7,1286.8 L1460.1,1287.4 L1460.6,1281.6 L1461,1281.5 L1461.5,1286.6 L1462,1281.8 L1462.4,1283.9 L1462.9,1283.7 L1463.3,1283.4 L1463.8,1287.2 L1464.3,1283.9 L1464.7,1279.1 L1465.2,1284.1 L1465.6,1281.7 L1466.1,1282.4 L1466.6,1286 L1467,1279.3 L1467.5,1281.6 L1467.9,1282.2 L1468.4,1284.1 L1468.9,1284.3 L1469.3,1282.1 L1469.8,1282.5 L1470.2,1276.8 L1470.7,1279.9 L1471.2,1279.3 L1471.6,1281.9 L1472.1,1279.4 L1472.5,1279.8 L1473,1282.2 L1473.5,1278.3 L1473.9,1282.3 L1474.4,1276.3 L1474.8,1275 L1475.3,1273 L1475.8,1276.5 L1476.2,1272.5 L1476.7,1272.2 L1477.1,1272.7 L1477.6,1271 L1478.1,1273.8 L1478.5,1274.3 L1479,1270.7 L1479.4,1274.4 L1479.9,1272.1 L1480.4,1270.9 L1480.8,1268.8 L1481.3,1268.5 L1481.7,1271.1 L1482.2,1267.4 L1482.7,1268.5 L1483.1,1269.3 L1483.6,1265.8 L1484,1266.5 L1484.5,1265.7 L1485,1268.1 L1485.4,1267.7 L1485.9,1265 L1486.3,1267.5 L1486.8,1262.2 L1487.3,1269.2 L1487.7,1265 L1488.2,1267.9 L1488.6,1264.9 L1489.1,1266.4 L1489.6,1265.7 L1490,1267.4 L1490.5,1268.2 L1490.9,1265.6 L1491.4,1266.2 L1491.9,1261.4 L1492.3,1262.6 L1492.8,1266.1 L1493.2,1267.1 L1493.7,1267.6 L1494.2,1266.2 L1494.6,1268.6 L1495.1,1261.8 L1495.5,1268.7 L1496,1267.1 L1496.5,1262.9 L1496.9,1268 L1497.4,1263.7 L1497.8,1267.3 L1498.3,1267 L1498.8,1268.8 L1499.2,1267.4 L1499.7,1270.2 L1500.1,1268.8 L1500.6,1268.5 L1501.1,1270.4 L1501.5,1267.5 L1502,1272.7 L1502.4,1276.1 L1502.9,1272.6 L1503.4,1272.1 L1503.8,1269.1 L1504.3,1277 L1504.7,1271.7 L1505.2,1274.2 L1505.7,1272.5 L1506.1,1277.7 L1506.6,1279.2 L1507,1275.1 L1507.5,1276.9 L1508,1276.7 L1508.4,1275.9 L1508.9,1273 L1509.3,1280.7 L1509.8,1276.6 L1510.3,1277 L1510.7,1280.8 L1511.2,1280.2 L1511.6,1280.4 L1512.1,1277.5 L1512.6,1281.5 L1513,1279.6 L1513.5,1282.9 L1513.9,1281.6 L1514.4,1280.2 L1514.9,1280.5 L1515.3,1276.9 L1515.8,1284.9 L1516.2,1280.2 L1516.7,1282.6 L1517.2,1279.4 L1517.6,1285.6 L1518.1,1280.6 L1518.5,1281.5 L1519,1286 L1519.5,1277.9 L1519.9,1283.8 L1520.4,1279.4 L1520.8,1282.5 L1521.3,1278.2 L1521.8,1286.6 L1522.2,1281 L1522.7,1284.3 L1523.1,1285.9 L1523.6,1286.9 L1524.1,1284.4 L1524.5,1281.5 L1525,1284.7 L1525.4,1280.2 L1525.9,1279 L1526.4,1287.4 L1526.8,1282.7 L1527.3,1282.7 L1527.7,1282.3 L1528.2,1285.8 L1528.7,1285 L1529.1,1283.9 L1529.6,1287.7 L1530,1283.3 L1530.5,1282 L1531,1285.2 L1531.4,1283.9 L1531.9,1281.6 L1532.3,1286.8 L1532.8,1281.7 L1533.3,1285.4 L1533.7,1279.8 L1534.2,1284.4 L1534.6,1284.1 L1535.1,1280.7 L1535.6,1282.6 L1536,1282.3 L1536.5,1280.2 L1536.9,1283.4 L1537.4,1279.4 L1537.9,1279.3 L1538.3,1281.6 L1538.8,1282.4 L1539.2,1285.5 L1539.7,1283.2 L1540.2,1283.5 L1540.6,1285.2 L1541.1,1282.3 L1541.5,1282.9 L1542,1279.7 L1542.5,1287.4 L1542.9,1281.7 L1543.4,1286.1 L1543.8,1280.3 L1544.3,1284.9 L1544.8,1284.7 L1545.2,1285 L1545.7,1285.5 L1546.1,1283.8 L1546.6,1286.5 L1547.1,1284.6 L1547.5,1282.1 L1548,1285.9 L1548.4,1284.6 L1548.9,1288 L1549.4,1287.1 L1549.8,1283.5 L1550.3,1285.2 L1550.7,1287.7 L1551.2,1283.2 L1551.7,1285.1 L1552.1,1286.3 L1552.6,1284.3 L1553,1285.6 L1553.5,1281 L1554,1285.9 L1554.4,1282.2 L1554.9,1282.5 L1555.3,1287.5 L1555.8,1284 L1556.3,1284.3 L1556.7,1283.3 L1557.2,1283.7 L1557.6,1288.7 L1558.1,1283.8 L1558.6,1285.2 L1559,1286.7 L1559.5,1284 L1559.9,1283.8 L1560.4,1284.1 L1560.9,1283.3 L1561.3,1282.8 L1561.8,1280.6 L1562.2,1283.4 L1562.7,1286 L1563.2,1283.9 L1563.6,1286.5 L1564.1,1282.5 L1564.5,1281.5 L1565,1281.8 L1565.5,1286.7 L1565.9,1283.3 L1566.4,1286.5 L1566.8,1285.1 L1567.3,1288.1 L1567.8,1287.2 L1568.2,1288.2 L1568.7,1284.5 L1569.1,1287.4 L1569.6,1281.9 L1570.1,1281.5 L1570.5,1282.4 L1571,1288.6 L1571.4,1282 L1571.9,1283.6 L1572.4,1289.2 L1572.8,1288.2 L1573.3,1289.3 L1573.7,1286.9 L1574.2,1281.9 L1574.7,1284.5 L1575.1,1283.9 L1575.6,1286.4 L1576,1287.1 L1576.5,1281.6 L1577,1287.1 L1577.4,1282.9 L1577.9,1285.8 L1578.3,1285.3 L1578.8,1288.4 L1579.3,1286.1 L1579.7,1283.5 L1580.2,1285.5 L1580.6,1286.1 L1581.1,1282.2 L1581.6,1289.1 L1582,1286.9 L1582.5,1288.5 L1582.9,1290.2 L1583.4,1285 L1583.9,1288.7 L1584.3,1286.2 L1584.8,1283.7 L1585.2,1290 L1585.7,1290.5 L1586.2,1289.5 L1586.6,1285.7 L1587.1,1284.9 L1587.5,1289.4 L1588,1288.5 L1588.5,1290 L1588.9,1290.8 L1589.4,1291.2 L1589.8,1290.3 L1590.3,1286.5 L1590.8,1287.2 L1591.2,1291 L1591.7,1290.9 L1592.1,1291.4 L1592.6,1288.7 L1593.1,1289.5 L1593.5,1289.7 L1594,1289.1 L1594.4,1289.3 L1594.9,1289.9 L1595.4,1286.6 L1595.8,1289.6 L1596.3,1284.4 L1596.7,1288.1 L1597.2,1291.1 L1597.7,1287.8 L1598.1,1289.2 L1598.6,1289.1 L1599,1288.4 L1599.5,1287.3 L1600,1288.9 L1600.4,1287.6 L1600.9,1285.1 L1601.3,1286.4 L1601.8,1292.7 L1602.3,1289.4 L1602.7,1289.4 L1603.2,1286.4 L1603.6,1288.6 L1604.1,1292.7 L1604.6,1290.9 L1605,1291.6 L1605.5,1284.9 L1605.9,1290.3 L1606.4,1291.9 L1606.9,1287.9 L1607.3,1293.2 L1607.8,1289.3 L1608.2,1292.3 L1608.7,1290.9 L1609.2,1291.5" fill="none" stroke="#960000" stroke-width="9.9" stroke-linejoin="round" stroke-linecap="round"/><path d="M97.5,1225.5 V1302.5 H1614.4 V1291.5 H1604.9 V1293.9 H107 V1225.5 Z" fill="#960000"/>
</g>
<g id="front" fill="none" stroke="#000">
<line x1="33.6" y1="1366" x2="1545.2" y2="1366" stroke-width="6"/>
<polygon fill="#000" stroke="none" points="145.1,1368.5 153.1,1368.5 131.7,1392 127,1392 126.9,1387.3"/>
<polygon fill="#000" stroke="none" points="376.8,1368.5 384.8,1368.5 363.4,1392 358.7,1392 358.6,1387.3"/>
<polygon fill="#000" stroke="none" points="608.5,1368.5 616.5,1368.5 595.1,1392 590.4,1392 590.3,1387.3"/>
<polygon fill="#000" stroke="none" points="840.2,1368.5 848.2,1368.5 826.8,1392 822.1,1392 822,1387.3"/>
<polygon fill="#000" stroke="none" points="1071.9,1368.5 1079.9,1368.5 1058.5,1392 1053.8,1392 1053.7,1387.3"/>
<polygon fill="#000" stroke="none" points="1303.6,1368.5 1311.6,1368.5 1290.2,1392 1285.5,1392 1285.4,1387.3"/>
<polygon fill="#000" stroke="none" points="1535.3,1368.5 1543.3,1368.5 1521.9,1392 1517.2,1392 1517.1,1387.3"/>
</g>
<g id="markers" fill="#000">
<rect x="995" y="224.8" width="75" height="75"/>
<rect x="688.8" y="668" width="75" height="75"/>
<rect x="1721" y="834" width="75" height="75"/>
<rect x="1604.9" y="1031" width="75" height="75"/>
<rect x="1472.1" y="1166.6" width="75" height="75"/>
<polygon points="1030.8,157.9 1063.9,213.9 997.9,213.9"/>
<polygon points="905.9,291.4 935.3,340.7 876.9,340.7" fill="none" stroke="#000" stroke-width="4.2" stroke-linejoin="miter"/>
<polygon points="1053.2,810.5 1081.8,859.3 1024.5,859.3" fill="none" stroke="#000" stroke-width="4.2" stroke-linejoin="miter"/>
<polygon points="1076.7,293.2 1105.2,329.4 1076.7,365.6 1048.2,329.4"/>
<polygon points="720.3,773.4 748.8,809.6 720.3,845.8 691.8,809.6"/>
<polygon points="1191.8,789.1 1220.3,825.3 1191.8,861.5 1163.3,825.3"/>
<polygon points="1116.6,898.2 1145.1,934.4 1116.6,970.6 1088.1,934.4"/>
<polygon points="910.6,1110.1 939.1,1146.3 910.6,1182.5 882.1,1146.3"/>
<circle cx="771" cy="642" r="28.1"/>
<circle cx="862.4" cy="398.4" r="24.1" fill="none" stroke="#000" stroke-width="11"/>
</g>
<g id="legend" fill="#000">
<polygon points="1432.9,167.8 1465.7,224.1 1399.8,224.1"/>
<polygon points="1427.9,257.8 1457.3,307.8 1398.5,307.8" fill="none" stroke="#000" stroke-width="4.2" stroke-linejoin="miter"/>
<rect x="1408" y="321.9" width="75" height="75"/>
<polygon points="1417.4,436.2 1445.9,472.4 1417.4,508.6 1388.9,472.4"/>
<circle cx="1422.9" cy="574.1" r="28.1"/>
<circle cx="1424.4" cy="683.5" r="24.1" fill="none" stroke="#000" stroke-width="11"/>
</g>
<g id="text" fill="#000" font-family='"Liberation Sans", sans-serif' style="font-kerning:none">
<text transform="translate(1584.2 209.1) scale(1 1.02)" font-size="68">Ni-Cr</text>
<text transform="translate(1538.4 315.9) scale(1 1.02)" font-size="68">Ni<tspan font-size="37.5" dx="-0.5">0.</tspan><tspan font-size="37.5" dx="1.05">1</tspan><tspan font-size="37.5" dx="0">1</tspan><tspan dx="0.15">Cr</tspan><tspan font-size="46.5">0.</tspan><tspan font-size="46.5" dx="1.302">1</tspan><tspan font-size="46.5" dx="-1.302">9</tspan></text>
<text transform="translate(1615.6 410) scale(1 1.02)" font-size="68">Ni</text>
<text transform="translate(1602.4 493.2) scale(1 1.02)" font-size="68">Cr</text>
<text transform="translate(1545.4 592.9) scale(1 1.02)" font-size="68">Ni<tspan font-size="33" dx="-0.6">3</tspan><tspan dx="2.6">C</tspan><tspan font-size="36.5">0.</tspan><tspan font-size="36.5" dx="1.022">1</tspan><tspan font-size="36.5" dx="-1.022">5</tspan></text>
<text transform="translate(1540.7 708.6) scale(1 1.02)" font-size="68">Ni<tspan font-size="46" dx="-0.6">3</tspan><tspan dx="-1">C</tspan><tspan font-size="47">0,5</tspan></text>
<text transform="translate(1996.9 67.2) scale(1 1.045)" font-size="67.1"><tspan dx="1.879">1</tspan><tspan dx="-1.879">0000</tspan></text>
<text transform="translate(1996.9 244.1) scale(1 1.045)" font-size="67.1">8000</text>
<text transform="translate(1996.9 421) scale(1 1.045)" font-size="67.1">6000</text>
<text transform="translate(1996.9 597.9) scale(1 1.045)" font-size="67.1">4000</text>
<text transform="translate(1996.9 774.8) scale(1 1.045)" font-size="67.1">2000</text>
<text transform="translate(1996.9 951.7) scale(1 1.045)" font-size="67.1">0</text>
<text transform="translate(61.8 1487.2) scale(1 1.02)" font-size="75.2" text-anchor="middle">20</text>
<text transform="translate(293.5 1487.2) scale(1 1.02)" font-size="75.2" text-anchor="middle">30</text>
<text transform="translate(525.2 1487.2) scale(1 1.02)" font-size="75.2" text-anchor="middle">40</text>
<text transform="translate(756.9 1487.2) scale(1 1.02)" font-size="75.2" text-anchor="middle">50</text>
<text transform="translate(988.6 1487.2) scale(1 1.02)" font-size="75.2" text-anchor="middle">60</text>
<text transform="translate(1220.3 1487.2) scale(1 1.02)" font-size="75.2" text-anchor="middle">70</text>
<text transform="translate(1452 1487.2) scale(1 1.02)" font-size="75.2" text-anchor="middle">80</text>
<text transform="translate(1865.6 1062.5) scale(1 1.02)" font-size="62.5"><tspan dx="1.75">1</tspan><tspan dx="-1.75">7%Cr-83%Ni coating</tspan></text>
<text transform="translate(1775.8 1198.3) scale(1 1.02)" font-size="62.5">20%Cr-80%Ni coating</text>
<text transform="translate(1630.6 1334) scale(1 1.02)" font-size="62.5">24%Cr-76%Ni coating</text>
<text transform="translate(2212.4 748.5) rotate(-90) scale(1 1.035)" font-size="74.2">Intensity/a.u.</text>
<text transform="translate(574 1549.1)" font-size="76.5">2</text>
<text transform="translate(620.1 1548.9) scale(1.22 1)" font-size="65.9" font-family='"Liberation Serif", serif' font-style="italic">θ</text>
<text transform="translate(669.4 1548.9) scale(0.88 1)" font-size="66.4" font-family='"Liberation Serif", serif'>/</text>
<text transform="translate(689 1509.9) scale(0.934 1)" font-size="44.6" font-family='"Liberation Serif", serif'>o</text>
</g>
<g id="one-foot" fill="#fff">
<rect x="1635.939" y="312.457" width="7.65" height="4.207"/>
<rect x="1647.414" y="312.457" width="7.275" height="4.207"/>
<rect x="1656.795" y="312.457" width="7.65" height="4.207"/>
<rect x="1668.27" y="312.457" width="7.275" height="4.207"/>
<rect x="1789.995" y="311.631" width="9.486" height="5.217"/>
<rect x="1804.224" y="311.631" width="9.021" height="5.217"/>
<rect x="1711.998" y="589.549" width="7.446" height="4.095"/>
<rect x="1723.167" y="589.549" width="7.081" height="4.095"/>
<rect x="2001.463" y="60.889" width="13.688" height="7.713"/>
<rect x="2021.995" y="60.889" width="13.017" height="7.713"/>
<rect x="1869.85" y="1056.763" width="12.75" height="7.013"/>
<rect x="1888.975" y="1056.763" width="12.125" height="7.013"/>
</g>
</svg>
</body>
</html>
